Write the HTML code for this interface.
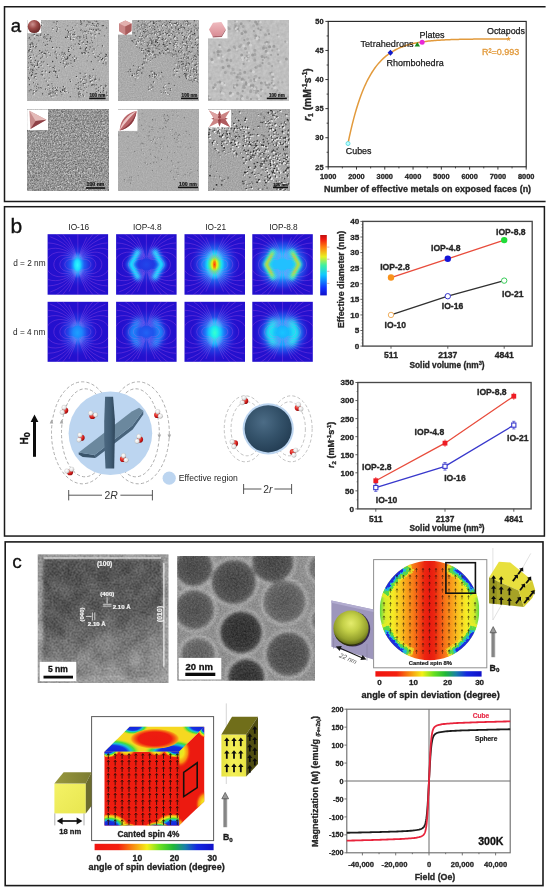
<!DOCTYPE html>
<html><head><meta charset="utf-8"><title>figure</title>
<style>
html,body{margin:0;padding:0;background:#fff;}
body{width:550px;height:891px;overflow:hidden;font-family:"Liberation Sans",sans-serif;}
svg{display:block;will-change:transform;font-family:"Liberation Sans",sans-serif;}
</style></head><body>
<svg width="550" height="891" viewBox="0 0 550 891">
<defs>
<filter id="tn1" x="0" y="0" width="100%" height="100%" color-interpolation-filters="sRGB"><feTurbulence type="fractalNoise" baseFrequency="0.8" numOctaves="2" seed="3"/><feColorMatrix type="matrix" values="0.14 0 0 0 0.62  0.14 0 0 0 0.62  0.14 0 0 0 0.62  0 0 0 0 1"/></filter>
<clipPath id="tc1"><rect x="27.6" y="20.2" width="80.6" height="80.6"/></clipPath>
<filter id="tn2" x="0" y="0" width="100%" height="100%" color-interpolation-filters="sRGB"><feTurbulence type="fractalNoise" baseFrequency="0.8" numOctaves="2" seed="5"/><feColorMatrix type="matrix" values="0.16 0 0 0 0.59  0.16 0 0 0 0.59  0.16 0 0 0 0.59  0 0 0 0 1"/></filter>
<clipPath id="tc2"><rect x="118.1" y="20.2" width="80.6" height="80.1"/></clipPath>
<filter id="tn3" x="0" y="0" width="100%" height="100%" color-interpolation-filters="sRGB"><feTurbulence type="fractalNoise" baseFrequency="0.3" numOctaves="2" seed="9"/><feColorMatrix type="matrix" values="0.12 0 0 0 0.69  0.12 0 0 0 0.69  0.12 0 0 0 0.69  0 0 0 0 1"/></filter>
<clipPath id="tc3"><rect x="208.1" y="20.2" width="80.8" height="80.1"/></clipPath>
<filter id="tn4" x="0" y="0" width="100%" height="100%" color-interpolation-filters="sRGB"><feTurbulence type="fractalNoise" baseFrequency="0.7" numOctaves="2" seed="11"/><feColorMatrix type="matrix" values="0.55 0 0 0 0.28  0.55 0 0 0 0.28  0.55 0 0 0 0.28  0 0 0 0 1"/></filter>
<clipPath id="tc4"><rect x="27.6" y="109.9" width="80.6" height="80.6"/></clipPath>
<filter id="tn5" x="0" y="0" width="100%" height="100%" color-interpolation-filters="sRGB"><feTurbulence type="fractalNoise" baseFrequency="0.8" numOctaves="2" seed="13"/><feColorMatrix type="matrix" values="0.13 0 0 0 0.61  0.13 0 0 0 0.61  0.13 0 0 0 0.61  0 0 0 0 1"/></filter>
<clipPath id="tc5"><rect x="118.1" y="109.9" width="80.6" height="80.6"/></clipPath>
<filter id="tn6" x="0" y="0" width="100%" height="100%" color-interpolation-filters="sRGB"><feTurbulence type="fractalNoise" baseFrequency="0.8" numOctaves="2" seed="17"/><feColorMatrix type="matrix" values="0.2 0 0 0 0.55  0.2 0 0 0 0.55  0.2 0 0 0 0.55  0 0 0 0 1"/></filter>
<clipPath id="tc6"><rect x="208.1" y="109.9" width="81.4" height="80.6"/></clipPath>
<radialGradient id="gsph" cx="0.38" cy="0.32" r="0.75"><stop offset="0" stop-color="#cc9290"/><stop offset="0.45" stop-color="#9c4a48"/><stop offset="1" stop-color="#5c2222"/></radialGradient>
<linearGradient id="gpk" x1="0" y1="0" x2="1" y2="1"><stop offset="0" stop-color="#e8b4b4"/><stop offset="1" stop-color="#b86a6c"/></linearGradient>
<linearGradient id="gpk2" x1="0" y1="0" x2="0" y2="1"><stop offset="0" stop-color="#f0bcc0"/><stop offset="1" stop-color="#d98c94"/></linearGradient>
<g id="fl" fill="none" stroke="#e070f4" stroke-width="0.45"><path d="M4.6 -4.6 L5.7 -4.9 L6.9 -5.0 L8.1 -4.9 L9.2 -4.7 L10.3 -4.2 L11.2 -3.6 L12.0 -2.9 L12.5 -2.0 L12.9 -1.0 L13.0 -0.0 L12.9 1.0 L12.5 2.0 L12.0 2.9 L11.2 3.6 L10.3 4.2 L9.2 4.7 L8.1 4.9 L6.9 5.0 L5.7 4.9 L4.6 4.6"/><path d="M-4.6 -4.6 L-5.7 -4.9 L-6.9 -5.0 L-8.1 -4.9 L-9.2 -4.7 L-10.3 -4.2 L-11.2 -3.6 L-12.0 -2.9 L-12.5 -2.0 L-12.9 -1.0 L-13.0 -0.0 L-12.9 1.0 L-12.5 2.0 L-12.0 2.9 L-11.2 3.6 L-10.3 4.2 L-9.2 4.7 L-8.1 4.9 L-6.9 5.0 L-5.7 4.9 L-4.6 4.6"/><path d="M3.7 -5.0 L4.9 -5.8 L6.4 -6.4 L7.9 -6.8 L9.5 -6.9 L11.2 -6.8 L12.7 -6.5 L14.2 -5.9 L15.5 -5.0 L16.5 -4.0 L17.3 -2.7 L17.8 -1.4 L18.0 -0.0 L17.8 1.4 L17.3 2.7 L16.5 4.0 L15.5 5.0 L14.2 5.9 L12.7 6.5 L11.2 6.8 L9.5 6.9 L7.9 6.8 L6.4 6.4 L4.9 5.8 L3.7 5.0"/><path d="M-3.7 -5.0 L-4.9 -5.8 L-6.4 -6.4 L-7.9 -6.8 L-9.5 -6.9 L-11.2 -6.8 L-12.7 -6.5 L-14.2 -5.9 L-15.5 -5.0 L-16.5 -4.0 L-17.3 -2.7 L-17.8 -1.4 L-18.0 -0.0 L-17.8 1.4 L-17.3 2.7 L-16.5 4.0 L-15.5 5.0 L-14.2 5.9 L-12.7 6.5 L-11.2 6.8 L-9.5 6.9 L-7.9 6.8 L-6.4 6.4 L-4.9 5.8 L-3.7 5.0"/><path d="M3.4 -5.6 L4.9 -6.7 L6.6 -7.7 L8.5 -8.5 L10.6 -9.0 L12.7 -9.2 L14.9 -9.1 L17.0 -8.7 L18.9 -7.8 L20.6 -6.7 L22.1 -5.3 L23.1 -3.7 L23.8 -1.9 L24.0 -0.0 L23.8 1.9 L23.1 3.7 L22.1 5.3 L20.6 6.7 L18.9 7.8 L17.0 8.7 L14.9 9.1 L12.7 9.2 L10.6 9.0 L8.5 8.5 L6.6 7.7 L4.9 6.7 L3.4 5.6"/><path d="M-3.4 -5.6 L-4.9 -6.7 L-6.6 -7.7 L-8.5 -8.5 L-10.6 -9.0 L-12.7 -9.2 L-14.9 -9.1 L-17.0 -8.7 L-18.9 -7.8 L-20.6 -6.7 L-22.1 -5.3 L-23.1 -3.7 L-23.8 -1.9 L-24.0 -0.0 L-23.8 1.9 L-23.1 3.7 L-22.1 5.3 L-20.6 6.7 L-18.9 7.8 L-17.0 8.7 L-14.9 9.1 L-12.7 9.2 L-10.6 9.0 L-8.5 8.5 L-6.6 7.7 L-4.9 6.7 L-3.4 5.6"/><path d="M3.0 -5.9 L4.6 -7.4 L6.5 -8.9 L8.8 -10.3 L11.3 -11.3 L14.1 -12.0 L16.9 -12.3 L19.8 -12.2 L22.6 -11.5 L25.2 -10.5 L27.5 -8.9 L29.4 -7.1 L30.8 -4.9 L31.7 -2.5 L32.0 -0.0 L31.7 2.5 L30.8 4.9 L29.4 7.1 L27.5 8.9 L25.2 10.5 L22.6 11.5 L19.8 12.2 L16.9 12.3 L14.1 12.0 L11.3 11.3 L8.8 10.3 L6.5 8.9 L4.6 7.4 L3.0 5.9"/><path d="M-3.0 -5.9 L-4.6 -7.4 L-6.5 -8.9 L-8.8 -10.3 L-11.3 -11.3 L-14.1 -12.0 L-16.9 -12.3 L-19.8 -12.2 L-22.6 -11.5 L-25.2 -10.5 L-27.5 -8.9 L-29.4 -7.1 L-30.8 -4.9 L-31.7 -2.5 L-32.0 -0.0 L-31.7 2.5 L-30.8 4.9 L-29.4 7.1 L-27.5 8.9 L-25.2 10.5 L-22.6 11.5 L-19.8 12.2 L-16.9 12.3 L-14.1 12.0 L-11.3 11.3 L-8.8 10.3 L-6.5 8.9 L-4.6 7.4 L-3.0 5.9"/><path d="M2.4 -5.7 L3.9 -7.7 L6.0 -9.8 L8.5 -11.7 L11.5 -13.5 L14.8 -14.8 L18.5 -15.8 L22.2 -16.2 L26.0 -16.0 L29.7 -15.1 L33.1 -13.7"/><path d="M33.1 13.7 L29.7 15.1 L26.0 16.0 L22.2 16.2 L18.5 15.8 L14.8 14.8 L11.5 13.5 L8.5 11.7 L6.0 9.8 L3.9 7.7 L2.4 5.7"/><path d="M-2.4 -5.7 L-3.9 -7.7 L-6.0 -9.8 L-8.5 -11.7 L-11.5 -13.5 L-14.8 -14.8 L-18.5 -15.8 L-22.2 -16.2 L-26.0 -16.0 L-29.7 -15.1 L-33.1 -13.7"/><path d="M-33.1 13.7 L-29.7 15.1 L-26.0 16.0 L-22.2 16.2 L-18.5 15.8 L-14.8 14.8 L-11.5 13.5 L-8.5 11.7 L-6.0 9.8 L-3.9 7.7 L-2.4 5.7"/><path d="M3.1 -7.6 L5.2 -10.3 L8.0 -13.0 L11.4 -15.7 L15.3 -18.0 L19.8 -19.8 L24.6 -21.0 L29.7 -21.5"/><path d="M29.7 21.5 L24.6 21.0 L19.8 19.8 L15.3 18.0 L11.4 15.7 L8.0 13.0 L5.2 10.3 L3.1 7.6"/><path d="M-3.1 -7.6 L-5.2 -10.3 L-8.0 -13.0 L-11.4 -15.7 L-15.3 -18.0 L-19.8 -19.8 L-24.6 -21.0 L-29.7 -21.5"/><path d="M-29.7 21.5 L-24.6 21.0 L-19.8 19.8 L-15.3 18.0 L-11.4 15.7 L-8.0 13.0 L-5.2 10.3 L-3.1 7.6"/><path d="M2.3 -7.1 L4.4 -10.6 L7.3 -14.3 L11.1 -18.2 L15.8 -21.8 L21.4 -25.0 L27.6 -27.6"/><path d="M27.6 27.6 L21.4 25.0 L15.8 21.8 L11.1 18.2 L7.3 14.3 L4.4 10.6 L2.3 7.1"/><path d="M-2.3 -7.1 L-4.4 -10.6 L-7.3 -14.3 L-11.1 -18.2 L-15.8 -21.8 L-21.4 -25.0 L-27.6 -27.6"/><path d="M-27.6 27.6 L-21.4 25.0 L-15.8 21.8 L-11.1 18.2 L-7.3 14.3 L-4.4 10.6 L-2.3 7.1"/><path d="M1.4 -5.9 L3.3 -10.2 L6.3 -15.2 L10.5 -20.6 L16.0 -26.1 L22.7 -31.3"/><path d="M22.7 31.3 L16.0 26.1 L10.5 20.6 L6.3 15.2 L3.3 10.2 L1.4 5.9"/><path d="M-1.4 -5.9 L-3.3 -10.2 L-6.3 -15.2 L-10.5 -20.6 L-16.0 -26.1 L-22.7 -31.3"/><path d="M-22.7 31.3 L-16.0 26.1 L-10.5 20.6 L-6.3 15.2 L-3.3 10.2 L-1.4 5.9"/><path d="M2.2 -9.0 L5.0 -15.4 L9.5 -23.0 L15.9 -31.2"/><path d="M15.9 31.2 L9.5 23.0 L5.0 15.4 L2.2 9.0"/><path d="M-2.2 -9.0 L-5.0 -15.4 L-9.5 -23.0 L-15.9 -31.2"/><path d="M-15.9 31.2 L-9.5 23.0 L-5.0 15.4 L-2.2 9.0"/><path d="M1.1 -7.3 L3.8 -15.9 L8.9 -27.2"/><path d="M8.9 27.2 L3.8 15.9 L1.1 7.3"/><path d="M-1.1 -7.3 L-3.8 -15.9 L-8.9 -27.2"/><path d="M-8.9 27.2 L-3.8 15.9 L-1.1 7.3"/><path d="M0 -34 V-6 M0 6 V34"/></g>
<clipPath id="hc00"><rect x="47.6" y="234.2" width="60.5" height="60.5"/></clipPath>
<radialGradient id="hg00" cx="0.5" cy="0.5" r="0.5" gradientUnits="objectBoundingBox"><stop offset="0" stop-color="#1c8cff" stop-opacity="1"/><stop offset="0.35" stop-color="#2068f6" stop-opacity="0.85"/><stop offset="0.7" stop-color="#2238e8" stop-opacity="0.4"/><stop offset="1" stop-color="#2410ce" stop-opacity="0"/></radialGradient>
<radialGradient id="hg00b" cx="0.5" cy="0.5" r="0.5" gradientUnits="objectBoundingBox"><stop offset="0" stop-color="#30f8ff" stop-opacity="1"/><stop offset="0.4" stop-color="#1cd8ff" stop-opacity="1"/><stop offset="0.72" stop-color="#1c9cff" stop-opacity="0.7"/><stop offset="1" stop-color="#1c80ff" stop-opacity="0"/></radialGradient>
<clipPath id="hc01"><rect x="116.1" y="234.2" width="60.5" height="60.5"/></clipPath>
<radialGradient id="hg01" cx="0.5" cy="0.5" r="0.5" gradientUnits="objectBoundingBox"><stop offset="0" stop-color="#2058f4" stop-opacity="0.75"/><stop offset="0.55" stop-color="#2244ea" stop-opacity="0.5"/><stop offset="1" stop-color="#2410ce" stop-opacity="0"/></radialGradient>
<clipPath id="hc02"><rect x="184.5" y="234.2" width="60.5" height="60.5"/></clipPath>
<radialGradient id="hg02" cx="0.5" cy="0.5" r="0.5" gradientUnits="objectBoundingBox"><stop offset="0" stop-color="#18c8ff" stop-opacity="1"/><stop offset="0.45" stop-color="#1c8cfc" stop-opacity="0.95"/><stop offset="0.72" stop-color="#2248ea" stop-opacity="0.5"/><stop offset="1" stop-color="#2410ce" stop-opacity="0"/></radialGradient>
<radialGradient id="hg02b" cx="0.5" cy="0.5" r="0.5" gradientUnits="objectBoundingBox"><stop offset="0" stop-color="#ff6010" stop-opacity="1"/><stop offset="0.08" stop-color="#ffb008" stop-opacity="1"/><stop offset="0.27" stop-color="#e4f01c" stop-opacity="1"/><stop offset="0.47" stop-color="#58f088" stop-opacity="1"/><stop offset="0.7" stop-color="#18e0f4" stop-opacity="0.95"/><stop offset="1" stop-color="#18c8ff" stop-opacity="0"/></radialGradient>
<clipPath id="hc03"><rect x="252.3" y="234.2" width="60.5" height="60.5"/></clipPath>
<radialGradient id="hg03" cx="0.5" cy="0.5" r="0.5" gradientUnits="objectBoundingBox"><stop offset="0" stop-color="#18b8ff" stop-opacity="1"/><stop offset="0.5" stop-color="#1c98fe" stop-opacity="0.95"/><stop offset="0.75" stop-color="#2258f0" stop-opacity="0.55"/><stop offset="1" stop-color="#2410ce" stop-opacity="0"/></radialGradient>
<clipPath id="hc10"><rect x="47.6" y="301.8" width="60.5" height="60"/></clipPath>
<radialGradient id="hg10" cx="0.5" cy="0.5" r="0.5" gradientUnits="objectBoundingBox"><stop offset="0" stop-color="#2078fa" stop-opacity="1"/><stop offset="0.4" stop-color="#2260f2" stop-opacity="0.8"/><stop offset="0.75" stop-color="#2238e8" stop-opacity="0.35"/><stop offset="1" stop-color="#2410ce" stop-opacity="0"/></radialGradient>
<radialGradient id="hg10b" cx="0.5" cy="0.5" r="0.5" gradientUnits="objectBoundingBox"><stop offset="0" stop-color="#1ca0ff" stop-opacity="1"/><stop offset="0.5" stop-color="#1c90ff" stop-opacity="0.8"/><stop offset="1" stop-color="#2078fa" stop-opacity="0"/></radialGradient>
<clipPath id="hc11"><rect x="116.1" y="301.8" width="60.5" height="60"/></clipPath>
<radialGradient id="hg11" cx="0.5" cy="0.5" r="0.5" gradientUnits="objectBoundingBox"><stop offset="0" stop-color="#2068f8" stop-opacity="0.95"/><stop offset="0.55" stop-color="#2250ee" stop-opacity="0.6"/><stop offset="1" stop-color="#2410ce" stop-opacity="0"/></radialGradient>
<clipPath id="hc12"><rect x="184.5" y="301.8" width="60.5" height="60"/></clipPath>
<radialGradient id="hg12" cx="0.5" cy="0.5" r="0.5" gradientUnits="objectBoundingBox"><stop offset="0" stop-color="#18b0ff" stop-opacity="1"/><stop offset="0.4" stop-color="#1c84fc" stop-opacity="0.9"/><stop offset="0.72" stop-color="#2244ea" stop-opacity="0.45"/><stop offset="1" stop-color="#2410ce" stop-opacity="0"/></radialGradient>
<radialGradient id="hg12b" cx="0.5" cy="0.5" r="0.5" gradientUnits="objectBoundingBox"><stop offset="0" stop-color="#38ffd0" stop-opacity="1"/><stop offset="0.3" stop-color="#20f0e8" stop-opacity="1"/><stop offset="0.65" stop-color="#18ccff" stop-opacity="0.85"/><stop offset="1" stop-color="#18b0ff" stop-opacity="0"/></radialGradient>
<clipPath id="hc13"><rect x="252.3" y="301.8" width="60.5" height="60"/></clipPath>
<radialGradient id="hg13" cx="0.5" cy="0.5" r="0.5" gradientUnits="objectBoundingBox"><stop offset="0" stop-color="#18c4ff" stop-opacity="1"/><stop offset="0.45" stop-color="#18a8ff" stop-opacity="0.95"/><stop offset="0.72" stop-color="#2060f4" stop-opacity="0.55"/><stop offset="1" stop-color="#2410ce" stop-opacity="0"/></radialGradient>
<filter id="hblur1" x="-30%" y="-30%" width="160%" height="160%"><feGaussianBlur stdDeviation="0.8"/></filter>
<filter id="hblur2" x="-30%" y="-30%" width="160%" height="160%"><feGaussianBlur stdDeviation="1.5"/></filter>
<filter id="hblur3" x="-30%" y="-30%" width="160%" height="160%"><feGaussianBlur stdDeviation="2.6"/></filter>
<linearGradient id="jet" x1="0" y1="1" x2="0" y2="0"><stop offset="0" stop-color="#1010c8"/><stop offset="0.12" stop-color="#1030ff"/><stop offset="0.34" stop-color="#10c8ff"/><stop offset="0.5" stop-color="#40f0a0"/><stop offset="0.64" stop-color="#e8f020"/><stop offset="0.8" stop-color="#ff8010"/><stop offset="0.93" stop-color="#f01810"/><stop offset="1" stop-color="#c01010"/></linearGradient>
<linearGradient id="plt1" x1="0" y1="0" x2="1" y2="0"><stop offset="0" stop-color="#4c6880"/><stop offset="0.6" stop-color="#405c74"/><stop offset="1" stop-color="#2f475c"/></linearGradient>
<radialGradient id="wr" cx="0.38" cy="0.35" r="0.7"><stop offset="0" stop-color="#ff6a5a"/><stop offset="0.6" stop-color="#d01818"/><stop offset="1" stop-color="#8a0c0c"/></radialGradient>
<radialGradient id="ww" cx="0.38" cy="0.35" r="0.7"><stop offset="0" stop-color="#ffffff"/><stop offset="0.65" stop-color="#e4e4e4"/><stop offset="1" stop-color="#a8a8a8"/></radialGradient>
<radialGradient id="sphb" cx="0.4" cy="0.36" r="0.72"><stop offset="0" stop-color="#4c6c86"/><stop offset="0.5" stop-color="#34526a"/><stop offset="1" stop-color="#213a50"/></radialGradient>
<clipPath id="hrc"><rect x="37.8" y="554.4" width="130.6" height="128.6"/></clipPath>
<filter id="hrn" x="0" y="0" width="100%" height="100%" color-interpolation-filters="sRGB"><feTurbulence type="fractalNoise" baseFrequency="0.5" numOctaves="4" seed="21"/><feColorMatrix type="matrix" values="0.8 0 0 0 0.1  0.8 0 0 0 0.1  0.8 0 0 0 0.1  0 0 0 0 1"/></filter>
<filter id="hrn2" x="0" y="0" width="100%" height="100%" color-interpolation-filters="sRGB"><feTurbulence type="fractalNoise" baseFrequency="0.06" numOctaves="2" seed="4"/><feColorMatrix type="matrix" values="1.4 0 0 0 -0.2  1.4 0 0 0 -0.2  1.4 0 0 0 -0.2  0 0 0 0 1"/></filter>
<filter id="hrblur" x="-10%" y="-10%" width="120%" height="120%"><feGaussianBlur stdDeviation="1.7"/></filter>
<filter id="hrblur2" x="-30%" y="-30%" width="160%" height="160%"><feGaussianBlur stdDeviation="7"/></filter>
<linearGradient id="hrg" x1="0" y1="0" x2="0.25" y2="1"><stop offset="0" stop-color="#2c2c2c"/><stop offset="0.5" stop-color="#383838"/><stop offset="0.66" stop-color="#4c4c4c"/><stop offset="0.8" stop-color="#727272"/><stop offset="1" stop-color="#909090"/></linearGradient>
<clipPath id="spc"><rect x="177.4" y="556" width="137.6" height="124.5"/></clipPath>
<filter id="spn" x="0" y="0" width="100%" height="100%" color-interpolation-filters="sRGB"><feTurbulence type="fractalNoise" baseFrequency="0.55" numOctaves="3" seed="31"/><feColorMatrix type="matrix" values="0.7 0 0 0 0.15  0.7 0 0 0 0.15  0.7 0 0 0 0.15  0 0 0 0 1"/></filter>
<filter id="spblur" x="-20%" y="-20%" width="140%" height="140%"><feGaussianBlur stdDeviation="1.5"/></filter>
<radialGradient id="sg0" cx="0.5" cy="0.5" r="0.5"><stop offset="0" stop-color="rgb(52,52,52)"/><stop offset="0.72" stop-color="rgb(66,66,66)"/><stop offset="1" stop-color="rgb(96,96,96)"/></radialGradient>
<radialGradient id="sg1" cx="0.5" cy="0.5" r="0.5"><stop offset="0" stop-color="rgb(48,48,48)"/><stop offset="0.72" stop-color="rgb(62,62,62)"/><stop offset="1" stop-color="rgb(92,92,92)"/></radialGradient>
<radialGradient id="sg2" cx="0.5" cy="0.5" r="0.5"><stop offset="0" stop-color="rgb(48,48,48)"/><stop offset="0.72" stop-color="rgb(62,62,62)"/><stop offset="1" stop-color="rgb(92,92,92)"/></radialGradient>
<radialGradient id="sg3" cx="0.5" cy="0.5" r="0.5"><stop offset="0" stop-color="rgb(74,74,74)"/><stop offset="0.72" stop-color="rgb(88,88,88)"/><stop offset="1" stop-color="rgb(118,118,118)"/></radialGradient>
<radialGradient id="sg4" cx="0.5" cy="0.5" r="0.5"><stop offset="0" stop-color="rgb(62,62,62)"/><stop offset="0.72" stop-color="rgb(76,76,76)"/><stop offset="1" stop-color="rgb(106,106,106)"/></radialGradient>
<radialGradient id="sg5" cx="0.5" cy="0.5" r="0.5"><stop offset="0" stop-color="rgb(16,16,16)"/><stop offset="0.72" stop-color="rgb(30,30,30)"/><stop offset="1" stop-color="rgb(60,60,60)"/></radialGradient>
<radialGradient id="sg6" cx="0.5" cy="0.5" r="0.5"><stop offset="0" stop-color="rgb(54,54,54)"/><stop offset="0.72" stop-color="rgb(68,68,68)"/><stop offset="1" stop-color="rgb(98,98,98)"/></radialGradient>
<radialGradient id="sg7" cx="0.5" cy="0.5" r="0.5"><stop offset="0" stop-color="rgb(82,82,82)"/><stop offset="0.72" stop-color="rgb(96,96,96)"/><stop offset="1" stop-color="rgb(126,126,126)"/></radialGradient>
<radialGradient id="sg8" cx="0.5" cy="0.5" r="0.5"><stop offset="0" stop-color="rgb(20,20,20)"/><stop offset="0.72" stop-color="rgb(34,34,34)"/><stop offset="1" stop-color="rgb(64,64,64)"/></radialGradient>
<radialGradient id="sg9" cx="0.5" cy="0.5" r="0.5"><stop offset="0" stop-color="rgb(94,94,94)"/><stop offset="0.72" stop-color="rgb(108,108,108)"/><stop offset="1" stop-color="rgb(138,138,138)"/></radialGradient>
<radialGradient id="sg10" cx="0.5" cy="0.5" r="0.5"><stop offset="0" stop-color="rgb(94,94,94)"/><stop offset="0.72" stop-color="rgb(108,108,108)"/><stop offset="1" stop-color="rgb(138,138,138)"/></radialGradient>
<linearGradient id="spinbar" x1="0" y1="0" x2="1" y2="0"><stop offset="0" stop-color="#f01410"/><stop offset="0.2" stop-color="#f42010"/><stop offset="0.32" stop-color="#f88a10"/><stop offset="0.44" stop-color="#f4f018"/><stop offset="0.55" stop-color="#68e020"/><stop offset="0.66" stop-color="#20b838"/><stop offset="0.76" stop-color="#1880a8"/><stop offset="0.86" stop-color="#1428e0"/><stop offset="1" stop-color="#1010c8"/></linearGradient>
<clipPath id="sphclip"><circle cx="429.5" cy="610.6" r="49.8"/></clipPath>
<linearGradient id="sphg" x1="0" y1="0" x2="1" y2="0"><stop offset="0" stop-color="#58d848"/><stop offset="0.05" stop-color="#d4ec2c"/><stop offset="0.13" stop-color="#f6ec26"/><stop offset="0.2" stop-color="#f8cc20"/><stop offset="0.27" stop-color="#f8a01c"/><stop offset="0.34" stop-color="#f67a18"/><stop offset="0.4" stop-color="#f24c14"/><stop offset="0.45" stop-color="#ec2610"/><stop offset="0.5" stop-color="#e61a10"/><stop offset="0.55" stop-color="#ec2610"/><stop offset="0.6" stop-color="#f24c14"/><stop offset="0.66" stop-color="#f67a18"/><stop offset="0.73" stop-color="#f8a01c"/><stop offset="0.8" stop-color="#f8cc20"/><stop offset="0.87" stop-color="#f6ec26"/><stop offset="0.95" stop-color="#d4ec2c"/><stop offset="1" stop-color="#58d848"/></linearGradient>
<filter id="rimblur" x="-20%" y="-20%" width="140%" height="140%"><feGaussianBlur stdDeviation="0.7" result="b"/><feTurbulence type="fractalNoise" baseFrequency="0.35" numOctaves="2" seed="8" result="t"/><feDisplacementMap in="b" in2="t" scale="4.5" xChannelSelector="R" yChannelSelector="G"/></filter>
<radialGradient id="ysph" cx="0.5" cy="0.36" r="0.68"><stop offset="0" stop-color="#e4ec6c"/><stop offset="0.35" stop-color="#c4d048"/><stop offset="0.7" stop-color="#94a02c"/><stop offset="1" stop-color="#485010"/></radialGradient>
<clipPath id="cfront"><polygon points="104.5,751.8 179,751.8 179,825.4 104.5,825.4"/></clipPath>
<clipPath id="ctop"><polygon points="104.5,751.8 179,751.8 204.2,726.8 129.7,726.8"/></clipPath>
<clipPath id="cside"><polygon points="179,751.8 204.2,726.8 204.2,801.4 179,825.4"/></clipPath>
<radialGradient id="cg" cx="0.5" cy="0.5" r="0.5"><stop offset="0" stop-color="#1020d8"/><stop offset="0.42" stop-color="#1630e4"/><stop offset="0.54" stop-color="#18c0d8"/><stop offset="0.64" stop-color="#48dc38"/><stop offset="0.76" stop-color="#f0ea1c"/><stop offset="0.88" stop-color="#f88a10"/><stop offset="1" stop-color="#ee1c10" stop-opacity="0"/></radialGradient>
<radialGradient id="cgy" cx="0.5" cy="0.5" r="0.5"><stop offset="0" stop-color="#1020d8"/><stop offset="0.5" stop-color="#1630e4"/><stop offset="0.64" stop-color="#18c0d8"/><stop offset="0.78" stop-color="#48dc38"/><stop offset="1" stop-color="#f0ea1c" stop-opacity="0"/></radialGradient>
<radialGradient id="cgo" cx="0.5" cy="0.5" r="0.5"><stop offset="0" stop-color="#d8ec28"/><stop offset="0.35" stop-color="#f4e41c"/><stop offset="0.7" stop-color="#f88a10"/><stop offset="1" stop-color="#ee1c10" stop-opacity="0"/></radialGradient>
<radialGradient id="topred" cx="0.5" cy="0.5" r="0.5"><stop offset="0" stop-color="#ec1a10"/><stop offset="0.66" stop-color="#ee1c10"/><stop offset="0.8" stop-color="#f45a12"/><stop offset="0.92" stop-color="#f8a018"/><stop offset="1" stop-color="#f8c81c" stop-opacity="0"/></radialGradient>
<linearGradient id="ycf" x1="0" y1="0" x2="1" y2="1"><stop offset="0" stop-color="#f4f266"/><stop offset="1" stop-color="#e8e650"/></linearGradient>
<linearGradient id="yct" x1="0" y1="0" x2="1" y2="0"><stop offset="0" stop-color="#98983e"/><stop offset="1" stop-color="#7c7c32"/></linearGradient>
<linearGradient id="cubf" x1="0" y1="0" x2="1" y2="0"><stop offset="0" stop-color="#e6e240"/><stop offset="0.5" stop-color="#f4f058"/><stop offset="1" stop-color="#e8e444"/></linearGradient>
<clipPath id="mhclip"><rect x="346.8" y="709.2" width="163.4" height="143.6"/></clipPath>
</defs>
<rect x="0" y="0" width="550" height="891" fill="#ffffff"/>
<path d="M545.6 6.8 H4.5 V201.6 H545.6" fill="none" stroke="#1a1a1a" stroke-width="1.5"/>
<rect x="4.5" y="206.7" width="539.9" height="329.35" fill="none" stroke="#1a1a1a" stroke-width="1.5"/>
<rect x="5.2" y="541.9" width="537.8" height="343.7" fill="none" stroke="#1a1a1a" stroke-width="1.6"/>
<text x="10.8" y="32" font-size="18.6" font-weight="normal" text-anchor="start" fill="#111" stroke="#111" stroke-width="0.35">a</text>
<text x="10.6" y="232.8" font-size="21" font-weight="normal" text-anchor="start" fill="#111" stroke="#111" stroke-width="0.35">b</text>
<text x="12.3" y="568" font-size="19" font-weight="normal" text-anchor="start" fill="#111" stroke="#111" stroke-width="0.3">c</text>
<rect x="27.6" y="20.2" width="80.6" height="80.6" fill="rgb(175,175,175)" stroke="none" stroke-width="1"/>
<rect x="27.6" y="20.2" width="80.6" height="80.6" fill="#888" stroke="none" stroke-width="1" filter="url(#tn1)"/>
<g clip-path="url(#tc1)">
<path d="M69.2 34.0h.01M32.2 35.2h.01M70.9 60.6h.01M64.6 89.2h.01M72.9 57.5h.01M80.3 24.3h.01M103.6 95.2h.01M38.6 67.0h.01M37.1 89.9h.01M81.4 52.9h.01M56.5 89.6h.01M46.5 39.4h.01M29.9 55.5h.01M56.9 26.5h.01M43.2 62.6h.01M81.0 85.1h.01M62.0 52.9h.01M106.1 64.9h.01M93.2 48.9h.01M68.2 63.3h.01M48.7 94.0h.01M74.5 32.4h.01M80.4 47.1h.01M57.8 87.6h.01M35.9 73.7h.01M27.9 52.4h.01M71.0 63.3h.01M86.7 83.1h.01M99.4 54.5h.01M64.2 88.4h.01M33.0 64.6h.01M39.9 63.7h.01M98.1 56.5h.01M67.6 30.4h.01M44.6 34.7h.01M85.5 52.0h.01M79.0 86.1h.01M85.7 31.5h.01M34.4 66.6h.01M45.2 38.1h.01M75.3 26.0h.01M34.0 92.7h.01M79.3 41.1h.01M92.3 46.3h.01M43.9 61.6h.01M44.8 78.7h.01M36.9 44.2h.01M105.7 56.6h.01M35.2 47.9h.01M70.6 36.2h.01M95.1 86.2h.01M99.2 79.8h.01M52.3 93.1h.01M56.3 53.8h.01M70.4 54.6h.01M52.8 91.3h.01M106.7 92.1h.01M74.4 56.1h.01M81.3 89.1h.01M59.5 47.8h.01M91.6 82.6h.01M33.7 70.1h.01M42.9 75.1h.01M46.3 54.2h.01M43.7 37.2h.01M29.7 37.6h.01M71.0 30.7h.01M88.8 31.7h.01M73.7 39.7h.01M96.0 76.1h.01M34.6 34.2h.01M103.1 63.4h.01M50.0 66.7h.01M41.1 22.5h.01M85.5 76.3h.01M41.2 74.4h.01M65.8 29.3h.01M30.1 70.0h.01M34.7 30.5h.01M72.4 27.7h.01M89.0 55.9h.01M85.6 50.9h.01M80.5 20.5h.01M87.1 20.9h.01M94.3 38.1h.01M99.0 24.4h.01M68.5 93.0h.01M68.5 31.8h.01M41.6 61.9h.01M94.5 49.1h.01M61.9 59.0h.01M71.9 39.8h.01M55.0 88.5h.01M73.5 29.5h.01M53.3 87.7h.01M31.1 43.6h.01M96.5 21.2h.01M81.0 21.8h.01M83.4 36.0h.01M60.4 62.5h.01M65.6 88.1h.01M89.7 75.4h.01M56.2 73.9h.01M50.1 55.5h.01M40.9 33.8h.01M56.4 24.9h.01M37.4 64.0h.01M86.2 36.2h.01M86.9 44.8h.01M96.3 84.7h.01M90.0 77.3h.01M29.0 50.4h.01M40.5 35.0h.01" stroke="#262626" stroke-width="0.9" stroke-linecap="round" fill="none" stroke-opacity="0.9"/>
<path d="M81.1 30.5h.01M87.0 25.0h.01M86.5 47.3h.01M52.7 61.5h.01M37.3 65.4h.01M62.8 90.5h.01M89.9 22.1h.01M98.1 29.1h.01M49.4 72.4h.01M52.9 88.6h.01M42.1 71.5h.01M52.6 47.4h.01M68.8 51.4h.01M88.3 52.2h.01M50.4 38.7h.01M91.8 38.3h.01M55.6 71.7h.01M30.4 47.2h.01M48.0 85.2h.01M42.6 93.8h.01M90.8 76.3h.01M99.1 33.7h.01M103.6 88.1h.01M28.3 67.4h.01M67.7 58.0h.01M60.7 91.5h.01M41.8 52.7h.01M35.9 86.5h.01M91.8 85.2h.01M63.3 86.6h.01M45.9 71.1h.01M82.4 53.2h.01M70.5 34.1h.01M57.2 77.3h.01M98.3 90.3h.01M102.2 60.0h.01M30.6 57.5h.01M45.7 89.1h.01M74.3 61.0h.01M95.1 34.8h.01M67.0 58.9h.01M103.3 25.6h.01M80.2 73.1h.01M57.1 90.4h.01M39.2 61.5h.01M80.9 82.0h.01M33.4 46.3h.01M69.5 55.3h.01M81.7 23.8h.01M32.7 43.9h.01M79.0 96.8h.01M31.4 32.1h.01M97.9 23.6h.01M63.9 61.6h.01M89.8 29.1h.01M30.9 89.8h.01M32.5 70.0h.01M103.8 90.4h.01M76.4 76.6h.01M28.9 50.9h.01M70.7 38.0h.01M70.6 81.2h.01M37.5 31.7h.01M32.1 29.2h.01M46.1 54.7h.01M64.3 53.1h.01M48.0 34.6h.01M96.2 89.0h.01M87.3 41.7h.01M30.7 44.5h.01M84.1 83.6h.01M53.1 67.4h.01M31.4 75.7h.01M61.1 92.1h.01M67.8 56.8h.01M101.8 59.5h.01M54.1 71.0h.01M79.0 93.8h.01M80.2 48.6h.01M41.2 65.3h.01M39.7 50.6h.01M62.6 90.0h.01M40.9 58.2h.01M37.0 35.4h.01M104.0 95.6h.01M100.4 92.3h.01M31.6 28.8h.01M84.4 52.6h.01M102.5 45.8h.01M65.6 37.4h.01M90.9 81.5h.01M101.6 86.3h.01M56.7 58.3h.01M102.5 58.5h.01M98.9 87.3h.01M86.6 38.1h.01M106.3 54.7h.01M49.4 94.5h.01M53.1 96.1h.01M28.5 77.9h.01M96.7 25.9h.01M35.3 60.3h.01M32.0 74.7h.01M41.6 24.6h.01M84.1 20.8h.01M64.7 66.8h.01M68.6 49.7h.01M55.2 52.4h.01" stroke="#262626" stroke-width="1.3" stroke-linecap="round" fill="none" stroke-opacity="0.9"/>
<path d="M36.3 79.4h.01M72.8 66.5h.01M54.7 68.7h.01M95.7 79.4h.01M68.0 65.0h.01M94.4 21.2h.01M86.2 34.4h.01M91.0 82.3h.01M56.6 24.0h.01M31.3 47.1h.01M39.1 20.9h.01M91.1 81.4h.01M42.9 54.4h.01M33.6 54.9h.01M55.5 90.5h.01M28.3 69.6h.01M50.8 54.1h.01M84.0 37.7h.01M47.9 41.4h.01M76.3 88.2h.01M71.5 47.6h.01M80.9 30.0h.01M36.8 74.2h.01M36.1 46.5h.01M73.1 46.2h.01M78.8 92.9h.01M84.7 87.7h.01M103.4 61.9h.01M78.0 38.6h.01M91.7 40.6h.01M32.4 46.1h.01M93.3 25.7h.01M36.9 60.8h.01M88.2 52.2h.01M55.1 93.8h.01M42.8 51.7h.01M90.4 33.3h.01M51.5 41.3h.01M38.1 55.0h.01M49.7 40.6h.01M38.1 28.6h.01M50.1 92.8h.01M34.4 62.8h.01M35.7 60.3h.01M49.1 52.3h.01M98.1 45.8h.01M103.7 58.7h.01M33.3 68.4h.01M51.8 83.6h.01M34.4 57.9h.01M34.7 38.7h.01M84.4 37.0h.01M105.0 98.4h.01M101.4 59.5h.01M29.4 44.5h.01M86.1 26.5h.01M43.2 68.7h.01M85.5 48.6h.01M83.3 83.9h.01M44.2 36.6h.01M53.3 92.7h.01M35.3 91.7h.01M101.9 94.4h.01M67.7 25.8h.01M83.8 37.2h.01M41.5 88.0h.01M45.4 53.4h.01M95.7 79.0h.01M67.9 34.0h.01M95.6 78.1h.01M83.0 83.6h.01M107.3 57.0h.01M94.5 79.3h.01M28.5 56.5h.01M70.2 47.5h.01M55.3 75.3h.01M36.8 69.7h.01M30.4 49.8h.01M43.7 42.6h.01M59.4 49.0h.01M67.9 37.6h.01M84.6 79.9h.01M106.4 55.9h.01M62.2 52.1h.01M78.5 82.5h.01M33.4 32.6h.01M49.8 89.0h.01M80.8 37.0h.01M32.6 50.3h.01M93.9 23.9h.01M78.6 95.0h.01M106.3 95.4h.01M77.9 83.3h.01M65.7 54.5h.01M61.8 94.7h.01M56.8 95.1h.01M41.9 57.8h.01M97.0 21.8h.01M59.3 70.2h.01M56.6 57.3h.01M92.9 76.0h.01M30.0 72.6h.01M35.8 83.8h.01M37.6 31.9h.01M36.6 88.5h.01M71.5 36.1h.01M60.1 87.9h.01M36.7 73.7h.01" stroke="#444" stroke-width="0.9" stroke-linecap="round" fill="none" stroke-opacity="0.9"/>
<path d="M29.9 49.4h.01M73.0 34.4h.01M72.4 35.3h.01M78.4 88.5h.01M85.6 32.3h.01M105.3 56.4h.01M57.2 30.0h.01M47.3 44.3h.01M75.0 34.4h.01M91.3 61.7h.01M83.3 42.0h.01M85.9 48.4h.01M74.7 59.6h.01M100.2 57.9h.01M85.4 49.2h.01M29.4 84.7h.01M71.0 35.5h.01M85.4 53.3h.01M32.6 72.7h.01M51.2 93.1h.01M106.0 63.0h.01M92.2 80.3h.01M35.2 74.1h.01M38.8 67.2h.01M67.4 36.2h.01M30.9 55.5h.01M36.0 46.6h.01M86.0 44.6h.01M76.9 37.8h.01M39.0 23.4h.01M62.8 89.6h.01M37.4 64.0h.01M52.3 72.6h.01M70.3 96.7h.01M50.9 36.9h.01M96.1 30.3h.01M66.0 59.5h.01M66.0 91.9h.01M31.8 51.9h.01M43.9 53.6h.01M76.7 58.2h.01M96.5 31.3h.01M30.9 69.1h.01M106.2 86.0h.01M102.4 59.2h.01M57.7 28.1h.01M44.4 53.2h.01M96.1 29.4h.01M33.7 82.7h.01M57.1 21.7h.01M45.3 53.8h.01M37.8 84.2h.01M42.8 56.2h.01M30.8 45.0h.01M33.2 93.9h.01M30.9 62.4h.01M42.5 74.8h.01M80.1 40.6h.01M92.5 23.5h.01M68.6 32.2h.01M84.0 77.0h.01M34.1 34.5h.01M83.9 90.6h.01M76.0 84.6h.01M41.5 25.2h.01M35.4 66.1h.01M45.4 45.2h.01M90.2 47.0h.01M78.5 43.7h.01M36.2 91.0h.01M53.6 88.6h.01M79.8 91.6h.01M93.4 69.4h.01M55.3 93.1h.01M82.0 30.7h.01M64.4 91.7h.01M101.1 85.6h.01M79.5 44.5h.01M56.6 31.3h.01M102.3 25.7h.01M38.8 87.8h.01M50.8 95.8h.01M101.0 53.1h.01M47.5 64.3h.01M55.7 71.7h.01M48.7 52.3h.01M34.4 66.1h.01M94.0 84.7h.01M32.0 42.7h.01M91.3 29.6h.01M70.7 39.3h.01M31.1 60.7h.01M100.7 86.1h.01M29.2 90.9h.01" stroke="#444" stroke-width="1.3" stroke-linecap="round" fill="none" stroke-opacity="0.9"/>
<path d="M91.3 25.8h.01M39.2 51.9h.01M88.3 33.5h.01M45.3 50.3h.01M37.6 63.6h.01M84.8 30.8h.01M82.4 80.4h.01M31.9 71.5h.01M60.8 55.7h.01M62.1 54.7h.01M34.7 86.2h.01M96.7 24.9h.01M57.4 75.5h.01M38.4 35.8h.01M29.9 32.5h.01M90.1 43.2h.01M47.5 89.5h.01M63.3 61.3h.01M73.4 49.6h.01M94.7 56.7h.01M104.0 57.6h.01M54.7 88.5h.01M30.3 39.7h.01M80.3 95.3h.01M63.8 54.4h.01M49.4 89.0h.01M78.3 94.4h.01M59.6 54.5h.01M92.8 30.8h.01M87.3 60.8h.01M81.4 29.7h.01M80.7 87.8h.01M54.4 96.1h.01M56.4 22.1h.01M67.6 36.6h.01M37.2 32.0h.01M94.4 31.8h.01M52.5 86.1h.01M95.9 79.8h.01M59.8 27.7h.01M57.1 53.2h.01M86.7 30.7h.01M40.3 20.2h.01M98.2 25.5h.01M86.7 87.4h.01M80.4 89.7h.01M31.4 23.7h.01M34.0 78.1h.01M46.7 57.1h.01M56.8 55.2h.01M95.4 21.9h.01M54.1 91.3h.01M103.1 63.3h.01M29.1 68.6h.01M81.8 40.4h.01M66.9 37.8h.01M94.3 24.6h.01M66.5 62.0h.01M83.7 85.7h.01M96.4 30.8h.01M29.5 73.4h.01M91.5 77.5h.01M55.1 53.8h.01M68.6 47.5h.01M107.9 95.5h.01M63.3 91.5h.01M55.4 72.9h.01M89.7 81.8h.01M83.6 96.0h.01M96.6 30.8h.01M84.1 50.3h.01M94.2 29.3h.01M76.9 23.9h.01M95.3 92.5h.01M79.4 94.5h.01M97.4 24.3h.01M33.9 28.7h.01M86.4 87.4h.01M89.4 49.3h.01M99.0 91.4h.01M63.7 60.5h.01M89.2 25.1h.01M72.6 35.7h.01M100.0 78.4h.01M57.8 76.5h.01M56.7 53.5h.01M99.2 60.1h.01M91.1 37.6h.01M74.1 33.7h.01M58.5 71.2h.01M41.2 30.5h.01M77.4 88.5h.01M86.7 81.0h.01M83.0 33.1h.01M88.7 86.0h.01M82.7 94.5h.01M74.7 88.3h.01M71.4 48.8h.01M70.2 35.1h.01M49.6 93.8h.01M83.6 95.4h.01M78.3 91.8h.01M65.3 58.9h.01M84.8 39.9h.01" stroke="#585858" stroke-width="0.9" stroke-linecap="round" fill="none" stroke-opacity="0.9"/>
<path d="M64.6 91.0h.01M95.4 57.4h.01M65.9 65.0h.01M56.6 47.7h.01M98.1 60.9h.01M54.5 66.1h.01M35.5 76.5h.01M53.5 89.2h.01M103.0 91.9h.01M73.8 37.7h.01M98.1 56.2h.01M92.5 42.3h.01M85.1 73.7h.01M100.0 30.4h.01M81.2 47.9h.01M88.4 22.0h.01M64.9 60.4h.01M63.1 56.2h.01M69.3 47.6h.01M90.2 78.4h.01M107.2 95.2h.01M29.5 49.8h.01M86.0 80.0h.01M79.7 37.9h.01M80.8 22.0h.01M93.2 53.6h.01M49.2 78.1h.01M83.3 95.9h.01M90.3 43.5h.01M65.4 89.5h.01M84.2 31.7h.01M41.0 23.3h.01M84.0 52.6h.01M51.4 71.7h.01M29.5 79.4h.01M33.1 35.8h.01M37.2 65.3h.01M52.7 28.3h.01M46.3 81.2h.01M78.2 89.7h.01M78.0 36.4h.01M91.5 77.7h.01M29.2 58.5h.01M55.5 51.3h.01M36.4 56.1h.01M70.8 35.2h.01M33.5 90.6h.01M96.5 91.3h.01M70.7 36.9h.01M39.8 53.0h.01M94.8 80.0h.01M34.6 77.0h.01M92.5 84.5h.01M90.0 78.6h.01M85.7 83.1h.01M40.3 35.3h.01M40.4 87.6h.01M104.5 35.8h.01M80.3 93.7h.01M86.9 51.2h.01M31.2 64.3h.01M46.9 38.7h.01M48.6 84.9h.01M70.0 79.5h.01M45.3 38.5h.01M27.9 67.7h.01M50.0 71.4h.01M79.7 36.6h.01M51.7 96.1h.01M71.1 45.9h.01M106.7 27.9h.01M89.2 77.0h.01M86.9 92.3h.01M49.9 90.7h.01M37.7 62.2h.01M71.3 35.6h.01M38.3 61.1h.01M46.0 35.9h.01M103.5 94.3h.01M66.6 64.0h.01M105.3 85.2h.01M85.9 49.8h.01M28.4 62.8h.01M53.2 71.7h.01M106.8 93.2h.01M92.2 51.2h.01M50.9 93.2h.01M29.1 38.2h.01M64.2 57.3h.01M91.8 34.0h.01M82.3 42.9h.01M47.1 51.0h.01M105.6 54.1h.01M74.7 34.3h.01M100.8 88.0h.01M82.7 79.6h.01M56.4 57.4h.01M32.3 65.3h.01M75.2 44.1h.01M54.0 22.2h.01M73.5 58.1h.01M93.4 29.5h.01M63.3 63.3h.01M94.7 25.5h.01M38.8 40.8h.01M84.9 52.4h.01M105.7 86.3h.01M80.5 78.7h.01M87.6 42.3h.01M55.4 87.6h.01M50.3 94.6h.01M104.8 60.0h.01M72.3 37.7h.01" stroke="#585858" stroke-width="1.3" stroke-linecap="round" fill="none" stroke-opacity="0.9"/>
<path d="M69.9 34.4h.01M36.5 80.2h.01M89.0 34.0h.01M94.6 22.0h.01M91.3 83.1h.01M46.7 40.1h.01M97.5 25.1h.01M91.9 81.6h.01M43.5 54.9h.01M34.3 55.3h.01M30.6 32.8h.01M90.6 43.8h.01M64.0 61.6h.01M76.7 88.8h.01M81.1 47.4h.01M54.9 89.2h.01M60.1 55.2h.01M104.1 62.2h.01M93.0 31.6h.01M100.1 54.9h.01M81.3 88.2h.01M40.2 64.4h.01M57.0 22.7h.01M53.3 86.3h.01M96.5 80.4h.01M57.3 54.0h.01M79.6 86.5h.01M36.3 60.8h.01M92.7 47.0h.01M37.4 44.8h.01M47.4 57.5h.01M35.1 58.1h.01M57.6 55.5h.01M95.9 22.6h.01M29.8 68.9h.01M82.4 40.9h.01M67.3 38.5h.01M36.0 92.2h.01M102.5 94.9h.01M84.3 86.2h.01M59.8 48.6h.01M92.4 82.8h.01M69.1 48.1h.01M71.2 31.5h.01M89.3 32.3h.01M96.4 76.9h.01M50.5 67.4h.01M56.0 73.4h.01M86.2 76.9h.01M66.4 29.8h.01M77.3 24.6h.01M85.8 51.7h.01M68.1 38.4h.01M84.9 80.7h.01M99.6 25.0h.01M95.2 49.5h.01M86.7 88.2h.01M64.5 60.8h.01M33.2 50.8h.01M94.3 24.6h.01M31.7 44.2h.01M84.1 36.5h.01M58.6 76.7h.01M65.9 88.8h.01M56.5 74.7h.01M99.7 60.8h.01M83.8 33.4h.01M75.2 88.9h.01M71.8 49.5h.01M84.1 96.1h.01M37.0 74.5h.01" stroke="#e6e6e6" stroke-width="0.9" stroke-linecap="round" fill="none" stroke-opacity="0.85"/>
<path d="M87.7 25.9h.01M38.0 66.4h.01M66.7 65.8h.01M57.0 48.8h.01M57.9 30.9h.01M66.1 60.7h.01M107.7 96.3h.01M30.5 50.5h.01M92.8 38.9h.01M86.5 49.3h.01M101.2 58.4h.01M48.4 86.3h.01M49.7 79.1h.01M86.3 54.0h.01M85.1 32.5h.01M35.8 75.1h.01M30.6 80.0h.01M34.1 36.4h.01M91.7 77.0h.01M47.4 81.7h.01M29.4 67.7h.01M61.9 91.7h.01M92.1 78.7h.01M64.5 86.9h.01M30.3 58.8h.01M83.4 53.9h.01M78.1 38.1h.01M71.9 37.3h.01M102.8 61.0h.01M31.4 58.4h.01M95.6 80.8h.01M46.7 89.6h.01M86.8 83.7h.01M41.1 36.3h.01M39.5 62.7h.01M81.8 82.8h.01M44.2 54.7h.01M77.7 58.8h.01M97.0 32.3h.01M88.0 51.7h.01M64.7 62.5h.01M103.1 60.1h.01M104.9 90.6h.01M70.9 80.2h.01M51.2 71.8h.01M34.8 82.9h.01M71.9 38.2h.01M52.4 97.1h.01M46.1 54.7h.01M71.7 81.8h.01M33.1 29.7h.01M90.3 77.2h.01M43.8 56.8h.01M38.6 63.0h.01M96.8 90.0h.01M39.4 61.5h.01M43.7 75.1h.01M69.7 32.7h.01M84.5 84.7h.01M53.9 72.7h.01M85.0 90.9h.01M32.4 76.2h.01M102.9 59.9h.01M42.1 66.0h.01M35.9 67.2h.01M41.9 58.8h.01M104.5 96.7h.01M83.4 43.4h.01M103.7 46.1h.01M101.6 88.8h.01M83.5 80.4h.01M80.9 91.8h.01M49.7 95.6h.01M81.4 79.5h.01M49.2 53.3h.01M56.5 87.8h.01M65.5 67.7h.01M51.4 94.9h.01M32.2 61.0h.01" stroke="#e6e6e6" stroke-width="1.3" stroke-linecap="round" fill="none" stroke-opacity="0.85"/>
<path d="M91.7 26.6h.01M32.9 35.8h.01M55.5 69.0h.01M39.7 52.5h.01M65.3 89.6h.01M73.6 57.9h.01M68.8 65.4h.01M82.7 81.1h.01M57.0 24.7h.01M31.7 47.8h.01M61.3 56.4h.01M62.6 55.4h.01M35.4 86.6h.01M30.5 56.0h.01M57.7 26.8h.01M58.1 75.9h.01M44.0 62.8h.01M29.1 69.9h.01M106.9 65.1h.01M51.1 54.8h.01M84.8 37.9h.01M48.3 42.0h.01M74.9 33.1h.01M81.2 30.8h.01M49.7 89.8h.01M58.6 87.9h.01M87.1 83.9h.01M82.0 30.2h.01M55.1 96.6h.01M93.6 26.4h.01M37.6 32.7h.01M38.7 55.6h.01M45.4 34.9h.01M86.0 52.7h.01M45.4 38.9h.01M75.8 26.6h.01M34.7 63.5h.01M34.7 93.2h.01M49.5 53.0h.01M80.9 90.4h.01M98.8 46.2h.01M45.2 79.4h.01M34.0 68.7h.01M71.0 36.9h.01M29.9 45.1h.01M95.8 86.6h.01M95.1 24.9h.01M86.7 27.0h.01M43.7 69.3h.01M96.5 31.6h.01M107.7 57.7h.01M43.1 75.9h.01M29.2 57.0h.01M41.7 23.1h.01M84.4 96.2h.01M97.0 31.5h.01M73.1 28.1h.01M94.4 30.0h.01M89.7 56.3h.01M59.8 49.7h.01M68.9 93.7h.01M97.9 24.9h.01M34.1 33.0h.01M50.6 89.2h.01M62.5 59.5h.01M99.5 92.1h.01M89.6 25.7h.01M55.2 89.2h.01M74.1 30.1h.01M53.9 88.1h.01M79.4 95.2h.01M100.8 78.7h.01M66.4 54.9h.01M91.2 38.4h.01M56.7 25.6h.01M58.8 72.0h.01M41.9 30.9h.01M57.0 58.1h.01M93.6 76.4h.01M70.7 35.7h.01M50.0 94.5h.01M36.4 84.2h.01M36.8 89.3h.01" stroke="#f6f6f6" stroke-width="0.9" stroke-linecap="round" fill="none" stroke-opacity="0.85"/>
<path d="M63.3 91.5h.01M99.2 61.3h.01M86.5 33.1h.01M106.0 57.4h.01M35.8 77.7h.01M74.4 38.6h.01M86.1 74.4h.01M54.0 89.0h.01M76.0 35.0h.01M43.0 72.3h.01M53.2 48.4h.01M63.4 57.3h.01M70.4 47.9h.01M90.7 79.5h.01M30.8 48.3h.01M94.1 54.3h.01M66.2 90.3h.01M41.7 24.2h.01M52.5 72.1h.01M68.5 36.6h.01M53.2 29.4h.01M31.8 56.2h.01M78.8 90.8h.01M42.6 53.6h.01M56.1 52.3h.01M46.5 72.0h.01M71.7 35.8h.01M86.3 45.7h.01M34.4 91.4h.01M71.5 34.7h.01M40.0 24.0h.01M95.6 35.9h.01M66.9 92.6h.01M34.5 46.6h.01M81.4 94.1h.01M32.4 32.7h.01M90.2 30.2h.01M58.8 28.6h.01M77.0 77.6h.01M28.9 68.2h.01M71.9 46.8h.01M38.1 32.7h.01M72.4 35.9h.01M31.8 45.7h.01M34.1 94.7h.01M81.2 41.0h.01M34.8 35.4h.01M107.8 93.9h.01M93.2 51.9h.01M51.9 93.8h.01M92.4 35.0h.01M47.8 51.9h.01M75.6 35.1h.01M91.6 82.5h.01M56.5 93.4h.01M103.5 59.1h.01M64.7 92.8h.01M101.9 86.5h.01M99.9 87.9h.01M80.0 45.5h.01M74.6 58.4h.01M53.9 97.0h.01M106.8 86.8h.01M48.0 65.3h.01M35.6 66.3h.01M42.7 25.0h.01M91.8 30.7h.01M71.5 40.2h.01M105.9 60.5h.01M73.3 38.2h.01M69.6 50.3h.01M101.2 87.2h.01M56.1 53.1h.01" stroke="#f6f6f6" stroke-width="1.3" stroke-linecap="round" fill="none" stroke-opacity="0.85"/>
</g>
<rect x="27.4" y="20" width="13.6" height="13.2" fill="#fff" stroke="none" stroke-width="1"/>
<rect x="118.1" y="20.2" width="80.6" height="80.1" fill="rgb(169,169,169)" stroke="none" stroke-width="1"/>
<rect x="118.1" y="20.2" width="80.6" height="80.1" fill="#888" stroke="none" stroke-width="1" filter="url(#tn2)"/>
<g clip-path="url(#tc2)">
<path d="M156.6 41.8h.01M193.8 59.5h.01M170.4 90.9h.01M181.6 27.9h.01M149.9 57.0h.01M194.6 69.6h.01M181.6 51.6h.01M140.8 33.2h.01M144.7 32.1h.01M163.6 42.9h.01M181.7 64.5h.01M187.0 58.7h.01M166.0 39.2h.01M173.8 38.5h.01M198.4 52.2h.01M183.9 44.3h.01M196.2 75.7h.01M150.8 21.4h.01M137.1 28.0h.01M174.2 54.3h.01M150.0 50.8h.01M186.3 49.9h.01M191.0 40.3h.01M154.3 26.6h.01M143.3 50.6h.01M193.3 47.7h.01M194.4 80.5h.01M190.0 80.4h.01M160.4 33.3h.01M144.6 37.8h.01M196.9 78.8h.01M182.8 26.9h.01M154.6 77.0h.01M159.3 31.7h.01M191.5 31.1h.01M159.8 25.3h.01M138.0 42.3h.01M194.2 48.3h.01M173.0 24.5h.01M188.7 70.6h.01M156.7 34.7h.01M182.7 33.2h.01M172.6 34.3h.01M167.6 41.9h.01M145.4 27.3h.01M184.0 28.6h.01M186.3 48.2h.01M167.1 26.7h.01M186.3 35.2h.01M181.9 47.7h.01M191.1 23.8h.01M150.1 40.7h.01M166.7 28.8h.01M189.8 33.1h.01M178.5 25.0h.01M183.7 22.2h.01M136.7 73.9h.01M176.2 51.7h.01M193.6 69.7h.01M196.4 66.6h.01M197.1 81.5h.01M154.8 23.3h.01M166.3 25.3h.01M155.0 73.8h.01M198.6 55.0h.01M163.7 30.6h.01M137.9 75.7h.01M174.1 31.7h.01M153.5 49.2h.01M196.3 57.2h.01M131.9 75.4h.01M173.7 43.1h.01M188.6 23.0h.01M151.4 88.1h.01M191.7 80.0h.01M151.3 27.7h.01M196.0 69.5h.01M148.0 48.4h.01M133.5 65.6h.01M158.4 42.9h.01M196.1 70.6h.01M150.3 29.3h.01M148.1 59.6h.01M184.4 36.8h.01M162.9 76.9h.01M172.3 53.9h.01M137.5 28.3h.01M150.2 60.8h.01M180.4 51.8h.01M145.3 36.9h.01M170.3 23.1h.01M191.2 28.8h.01M190.8 35.9h.01M149.3 48.3h.01M179.2 65.3h.01M187.1 31.1h.01M166.7 34.7h.01M179.4 66.8h.01M172.3 28.7h.01M167.1 34.0h.01M161.2 92.8h.01M181.5 33.2h.01M153.2 50.8h.01M163.1 48.1h.01M130.7 71.5h.01M194.7 34.2h.01M164.2 90.5h.01M171.7 34.9h.01M142.9 28.8h.01M145.6 55.9h.01M195.5 56.6h.01M185.0 75.3h.01M167.1 41.4h.01M137.4 74.1h.01M163.1 45.4h.01M146.0 31.3h.01M183.0 64.3h.01M158.8 45.7h.01M146.0 53.7h.01M148.3 54.8h.01M189.0 28.7h.01M196.3 71.7h.01M196.9 74.4h.01M192.9 47.8h.01M172.0 27.9h.01M140.3 40.2h.01M152.7 38.0h.01M184.8 55.7h.01M184.4 36.7h.01M166.1 50.1h.01M173.2 55.0h.01M188.4 74.3h.01M186.4 78.6h.01M153.9 40.2h.01M196.2 28.3h.01M130.4 75.9h.01M194.8 26.9h.01M161.6 25.8h.01M152.1 30.3h.01M173.2 56.8h.01M178.3 51.5h.01M145.4 29.5h.01M179.9 33.1h.01M194.8 74.3h.01M170.7 25.4h.01M188.1 54.3h.01M187.6 75.2h.01M146.1 25.4h.01" stroke="#2e2e2e" stroke-width="0.9" stroke-linecap="round" fill="none" stroke-opacity="0.9"/>
<path d="M169.6 22.7h.01M143.8 58.9h.01M174.1 23.9h.01M153.4 82.0h.01M132.0 40.6h.01M165.7 50.6h.01M189.7 77.1h.01M147.7 50.5h.01M151.7 43.7h.01M181.1 58.3h.01M169.0 52.8h.01M145.5 59.5h.01M159.2 44.2h.01M180.6 48.3h.01M155.6 42.0h.01M154.9 33.0h.01M196.7 72.3h.01M157.7 36.0h.01M149.5 75.6h.01M159.7 52.3h.01M167.5 49.2h.01M185.9 65.5h.01M151.2 55.1h.01M141.7 50.3h.01M195.4 78.6h.01M142.9 68.0h.01M167.5 48.9h.01M186.5 38.0h.01M197.2 71.3h.01M195.8 25.1h.01M142.1 48.7h.01M178.9 50.9h.01M171.8 23.3h.01M156.1 48.1h.01M168.9 35.6h.01M186.6 70.2h.01M167.7 49.0h.01M174.5 38.1h.01M176.6 22.8h.01M153.0 51.6h.01M157.5 42.5h.01M148.3 51.8h.01M179.2 62.6h.01M174.8 36.4h.01M154.4 73.0h.01M170.3 24.6h.01M194.8 55.6h.01M190.9 31.9h.01M167.1 33.4h.01M177.4 45.9h.01M185.2 45.6h.01M156.0 75.9h.01M139.4 36.3h.01M165.8 25.6h.01M178.2 61.8h.01M166.3 20.8h.01M184.6 73.6h.01M150.8 34.2h.01M187.4 35.8h.01M195.9 59.3h.01M152.5 76.1h.01M154.9 54.6h.01M198.3 37.9h.01M162.2 39.5h.01M197.1 30.1h.01M183.1 63.7h.01M181.8 61.4h.01M176.1 54.1h.01M163.6 53.2h.01M187.5 24.9h.01M153.7 22.1h.01M190.7 37.7h.01M189.1 69.9h.01M163.5 38.1h.01M167.0 26.4h.01M170.2 43.5h.01M195.0 78.6h.01M183.8 27.9h.01M145.9 49.5h.01M151.8 41.0h.01M158.7 37.7h.01M138.3 21.2h.01M142.3 64.5h.01M148.9 44.6h.01M190.1 36.2h.01M132.6 75.4h.01M186.1 75.4h.01M176.1 39.9h.01M174.1 75.0h.01M178.6 29.0h.01M174.8 68.6h.01M183.8 39.6h.01M175.3 23.7h.01M141.1 44.1h.01M194.6 33.4h.01M157.4 32.0h.01M153.6 23.5h.01M149.3 51.8h.01M192.4 62.2h.01M150.1 53.1h.01M189.3 51.6h.01M161.7 72.3h.01M138.9 70.5h.01M184.3 27.9h.01M177.8 25.0h.01M144.6 63.2h.01M194.4 20.6h.01M155.3 45.5h.01M174.1 37.3h.01M182.4 42.2h.01M153.5 21.8h.01M194.9 65.1h.01M188.2 31.0h.01M173.3 49.8h.01M187.2 21.5h.01M148.6 50.8h.01M143.7 31.4h.01M187.1 35.6h.01M178.2 29.8h.01M186.9 69.9h.01M141.8 73.0h.01M186.0 77.0h.01M170.9 20.3h.01M155.7 41.0h.01M188.1 57.4h.01M169.7 43.6h.01M142.6 35.8h.01M163.6 44.4h.01M180.2 29.0h.01M146.8 53.9h.01M187.3 47.0h.01M163.3 38.7h.01" stroke="#2e2e2e" stroke-width="1.3" stroke-linecap="round" fill="none" stroke-opacity="0.9"/>
<path d="M177.7 46.8h.01M179.9 28.3h.01M139.8 26.5h.01M182.3 50.4h.01M183.7 74.4h.01M196.9 62.0h.01M188.6 63.6h.01M181.6 25.8h.01M174.9 35.2h.01M152.9 25.7h.01M144.2 27.9h.01M168.2 88.9h.01M157.4 26.5h.01M146.2 55.7h.01M141.3 25.7h.01M162.4 44.9h.01M144.8 21.1h.01M174.7 40.5h.01M184.7 59.1h.01M142.1 40.8h.01M169.0 32.0h.01M154.8 27.4h.01M188.5 57.2h.01M190.6 72.8h.01M146.8 62.6h.01M144.0 38.0h.01M144.5 26.2h.01M192.1 43.3h.01M150.8 49.0h.01M151.5 42.8h.01M159.1 72.9h.01M167.0 41.9h.01M146.6 50.4h.01M157.9 48.3h.01M137.4 30.9h.01M164.9 22.5h.01M197.3 44.9h.01M144.2 55.5h.01M136.3 76.5h.01M138.9 20.8h.01M183.8 57.7h.01M159.5 53.5h.01M149.9 45.1h.01M169.2 94.6h.01M164.1 22.8h.01M177.7 66.3h.01M188.2 79.8h.01M155.9 76.9h.01M165.8 38.7h.01M147.6 30.6h.01M170.1 90.6h.01M163.6 92.7h.01M156.9 78.0h.01M162.4 37.4h.01M192.5 81.8h.01M142.1 20.4h.01M195.5 54.3h.01M151.4 46.3h.01M169.8 51.0h.01M154.0 56.0h.01M137.3 77.5h.01M164.3 24.4h.01M162.2 47.8h.01M195.2 66.3h.01M194.3 45.9h.01M135.0 29.3h.01M184.4 42.8h.01M135.1 78.6h.01M196.7 45.5h.01M136.4 72.3h.01M138.4 41.5h.01M154.8 29.3h.01M188.6 71.4h.01M148.2 48.2h.01M193.5 25.7h.01M154.4 23.5h.01M163.3 32.4h.01M157.6 34.0h.01M159.6 39.8h.01M146.1 57.0h.01M148.9 41.9h.01M171.2 24.1h.01M169.1 30.0h.01M186.3 61.1h.01M181.9 55.5h.01M152.9 43.9h.01M156.3 21.9h.01M196.8 66.9h.01M166.6 42.9h.01M198.0 82.2h.01M183.0 52.1h.01M190.6 39.2h.01M153.3 54.8h.01M176.5 68.3h.01M153.1 76.2h.01M163.1 37.2h.01M160.3 34.2h.01M136.4 43.4h.01M145.7 56.2h.01M175.5 42.2h.01M151.7 42.2h.01M148.6 51.6h.01M160.3 32.6h.01M160.5 20.4h.01M156.4 32.0h.01M185.0 41.0h.01M147.8 42.7h.01M160.9 21.9h.01M140.4 69.9h.01M197.2 51.9h.01M169.7 29.3h.01M188.2 48.0h.01M145.8 32.0h.01M180.2 53.4h.01M178.8 20.9h.01M177.1 29.1h.01M186.8 32.7h.01M157.2 78.9h.01M158.3 31.4h.01M195.3 36.5h.01M166.0 54.2h.01M179.8 52.9h.01M193.3 71.0h.01M182.2 68.2h.01M177.9 42.9h.01M133.6 42.1h.01M193.6 57.7h.01M154.2 44.6h.01M175.8 30.3h.01M178.5 63.3h.01M144.9 61.3h.01M196.9 68.2h.01M150.0 26.6h.01M186.5 62.9h.01M137.4 73.7h.01M141.7 27.8h.01M193.5 71.9h.01M186.0 51.0h.01M160.8 53.8h.01M188.8 25.1h.01M165.9 44.1h.01M187.2 43.5h.01M194.4 56.6h.01M178.5 46.1h.01M191.2 32.1h.01M139.1 29.4h.01M184.6 20.7h.01M138.1 41.2h.01M131.0 38.1h.01M177.1 25.4h.01M168.1 40.1h.01M194.5 80.3h.01M154.5 33.9h.01" stroke="#505050" stroke-width="0.9" stroke-linecap="round" fill="none" stroke-opacity="0.9"/>
<path d="M182.1 52.7h.01M184.5 42.9h.01M156.9 37.5h.01M134.4 73.8h.01M171.2 33.6h.01M149.5 26.6h.01M174.3 85.3h.01M156.5 74.7h.01M171.8 27.3h.01M184.8 54.1h.01M186.1 74.0h.01M178.4 51.9h.01M194.8 30.9h.01M134.2 39.6h.01M191.3 58.9h.01M177.5 68.2h.01M175.8 27.6h.01M182.2 28.9h.01M149.7 50.7h.01M186.3 63.9h.01M150.2 22.2h.01M186.7 78.1h.01M159.8 31.5h.01M163.5 33.9h.01M145.4 58.7h.01M150.3 45.8h.01M170.3 22.1h.01M195.4 42.6h.01M164.8 46.5h.01M186.4 42.6h.01M148.8 89.4h.01M183.0 66.9h.01M151.2 54.6h.01M159.3 21.1h.01M143.7 52.8h.01M158.5 38.4h.01M154.8 74.4h.01M177.1 38.0h.01M152.9 52.3h.01M164.3 44.9h.01M191.3 52.4h.01M157.0 40.6h.01M195.5 39.6h.01M165.5 92.6h.01M156.1 39.5h.01M186.7 41.5h.01M183.6 58.1h.01M184.1 54.1h.01M197.7 47.6h.01M170.9 39.2h.01M176.5 23.8h.01M188.2 63.0h.01M177.1 56.1h.01M191.4 44.0h.01M192.6 47.4h.01M190.5 70.8h.01M142.8 38.0h.01M193.3 34.6h.01M164.6 39.5h.01M150.0 38.2h.01M176.7 32.1h.01M130.1 69.5h.01M154.6 29.5h.01M195.4 65.2h.01M196.9 54.1h.01M148.0 23.4h.01M139.4 47.9h.01M132.5 41.1h.01M149.9 54.3h.01M196.6 64.2h.01M152.9 42.2h.01M195.9 64.4h.01M195.3 65.2h.01M152.9 87.0h.01M175.9 42.6h.01M165.3 32.5h.01M169.3 35.5h.01M154.6 76.9h.01M187.3 74.2h.01M150.9 39.3h.01M182.3 33.0h.01M187.1 23.8h.01M173.5 45.6h.01M152.1 71.1h.01M177.6 71.8h.01M160.5 34.2h.01M169.0 94.5h.01M137.7 70.2h.01M134.7 32.9h.01M169.1 83.5h.01M189.4 64.6h.01M182.5 35.6h.01M190.2 75.5h.01M190.8 76.1h.01M185.6 68.1h.01M178.1 23.1h.01M137.0 71.4h.01M155.3 57.0h.01M141.4 25.8h.01M193.8 68.6h.01M128.2 71.3h.01M142.0 24.2h.01M172.8 24.3h.01M187.0 20.3h.01M144.7 42.1h.01M176.5 71.4h.01M179.6 77.0h.01M198.2 28.1h.01M162.6 24.7h.01M175.5 51.0h.01M170.4 88.7h.01M155.5 24.9h.01M181.6 25.1h.01M195.2 44.4h.01M157.8 35.2h.01M135.6 35.7h.01M177.7 40.6h.01M146.4 36.0h.01M174.3 44.6h.01M145.6 58.2h.01M168.7 49.1h.01M147.3 46.0h.01M138.6 67.0h.01M151.9 53.8h.01M156.2 21.8h.01M154.6 34.1h.01M180.2 26.0h.01M163.5 87.7h.01M141.4 38.9h.01M167.0 45.5h.01M197.8 44.7h.01M153.0 48.1h.01M138.0 26.1h.01M159.1 49.3h.01M170.3 24.8h.01M189.5 63.7h.01M165.6 46.1h.01M197.6 50.7h.01M167.5 93.1h.01M185.6 74.0h.01M163.6 33.1h.01M136.2 44.3h.01M192.3 34.4h.01M178.9 32.9h.01M174.0 24.8h.01M189.7 39.9h.01M152.1 33.4h.01M152.4 74.6h.01M151.1 85.0h.01M173.2 31.6h.01M147.3 45.5h.01M151.0 71.3h.01M185.7 76.0h.01M187.7 45.8h.01M190.2 23.6h.01M138.5 41.3h.01" stroke="#505050" stroke-width="1.3" stroke-linecap="round" fill="none" stroke-opacity="0.9"/>
<path d="M154.0 40.7h.01M186.1 35.0h.01M166.8 24.7h.01M186.0 67.3h.01M191.3 40.1h.01M197.7 53.1h.01M170.2 23.2h.01M144.1 36.2h.01M144.9 23.9h.01M179.2 30.9h.01M161.3 51.0h.01M152.7 30.9h.01M163.0 31.3h.01M167.3 27.4h.01M132.6 32.9h.01M149.2 42.3h.01M168.3 31.8h.01M178.5 69.2h.01M153.7 45.2h.01M141.0 34.8h.01M163.4 40.4h.01M155.3 55.4h.01M187.0 74.7h.01M178.8 76.5h.01M165.3 28.9h.01M198.4 63.6h.01M183.0 27.9h.01M197.6 48.6h.01M136.4 46.5h.01M185.3 74.8h.01M170.8 31.3h.01M184.6 69.8h.01M191.3 51.4h.01M186.1 43.4h.01M154.5 57.3h.01M158.8 30.0h.01M193.7 79.4h.01M171.5 23.9h.01M156.6 77.6h.01M156.2 37.3h.01M168.3 21.4h.01M150.7 54.8h.01M178.9 33.0h.01M189.6 43.0h.01M174.3 56.8h.01M194.2 76.2h.01M170.6 41.7h.01M153.1 25.5h.01M192.4 59.9h.01M137.6 31.9h.01M132.7 73.7h.01M146.3 22.3h.01M196.1 66.7h.01M177.0 43.4h.01M189.0 58.4h.01M154.7 72.7h.01M166.5 49.9h.01M190.2 41.3h.01M163.5 86.5h.01M140.2 69.1h.01M193.8 53.0h.01M179.2 59.3h.01M162.2 37.9h.01M139.0 24.8h.01M163.9 30.2h.01M188.0 74.7h.01M187.7 53.9h.01M188.0 52.0h.01M136.6 41.7h.01M152.8 21.1h.01M143.6 62.9h.01M166.0 39.1h.01M186.2 55.0h.01M163.7 30.9h.01M150.7 53.2h.01M197.0 21.1h.01M179.4 22.1h.01M180.9 28.4h.01M157.7 54.9h.01M168.4 33.1h.01M158.7 28.7h.01M156.6 32.0h.01M192.1 43.0h.01M156.4 34.4h.01M174.6 43.3h.01M143.6 43.1h.01M178.0 34.7h.01M196.4 56.7h.01M164.4 49.3h.01M180.4 23.7h.01M170.6 30.3h.01M144.5 63.3h.01M129.9 75.1h.01M149.6 77.5h.01M142.5 45.6h.01M157.8 46.6h.01M165.4 46.6h.01M153.2 90.1h.01M185.1 29.7h.01M188.7 69.6h.01M154.2 57.5h.01M161.2 46.9h.01M159.4 50.0h.01M147.3 28.0h.01M151.8 29.6h.01M135.8 79.8h.01M197.5 77.0h.01M148.5 34.3h.01M142.4 22.2h.01M181.0 55.5h.01M165.7 30.3h.01M185.1 71.2h.01M195.0 21.7h.01M182.3 33.6h.01M145.9 52.8h.01M190.9 30.5h.01M161.7 51.7h.01M173.9 47.7h.01M188.6 41.8h.01M170.9 55.0h.01M176.5 59.1h.01M177.1 40.8h.01M191.4 47.5h.01M147.9 25.8h.01M171.1 52.8h.01M153.2 53.2h.01M164.9 88.0h.01M171.7 27.0h.01M147.4 27.7h.01M168.6 49.5h.01M158.6 55.2h.01M171.2 41.4h.01M153.2 51.6h.01M174.1 72.1h.01M166.8 34.0h.01M188.0 36.0h.01M171.2 53.2h.01M139.2 36.5h.01M154.5 24.8h.01M180.9 62.4h.01M159.4 34.0h.01M156.7 31.4h.01M192.4 52.2h.01M132.9 74.7h.01M172.8 42.9h.01M140.9 25.3h.01" stroke="#707070" stroke-width="0.9" stroke-linecap="round" fill="none" stroke-opacity="0.9"/>
<path d="M152.4 58.5h.01M194.0 76.5h.01M172.6 56.2h.01M169.5 31.8h.01M168.0 93.4h.01M154.9 57.6h.01M173.6 24.1h.01M135.3 39.4h.01M162.5 33.5h.01M193.1 55.8h.01M188.7 57.7h.01M184.4 37.8h.01M180.8 27.5h.01M156.4 33.8h.01M134.1 77.1h.01M189.4 29.8h.01M183.4 23.7h.01M188.3 76.2h.01M149.7 33.5h.01M136.0 44.3h.01M162.6 28.0h.01M182.9 42.8h.01M177.4 44.9h.01M160.8 90.8h.01M185.4 21.5h.01M145.1 24.7h.01M186.2 56.5h.01M190.1 45.8h.01M147.1 34.3h.01M195.2 35.4h.01M184.0 66.9h.01M168.5 30.9h.01M175.1 43.4h.01M188.6 58.7h.01M143.8 54.1h.01M183.1 61.7h.01M147.2 42.5h.01M191.2 41.9h.01M157.8 27.6h.01M157.5 79.0h.01M167.6 52.8h.01M192.4 39.1h.01M194.5 29.8h.01M181.5 28.0h.01M198.4 74.8h.01M165.1 84.6h.01M149.0 43.8h.01M174.4 46.8h.01M159.0 75.5h.01M143.0 63.7h.01M188.8 51.8h.01M146.1 49.4h.01M139.4 30.3h.01M190.8 52.4h.01M175.8 63.9h.01M150.1 26.0h.01M158.4 21.1h.01M174.9 38.9h.01M182.8 45.9h.01M158.1 27.7h.01M195.8 77.7h.01M186.7 50.6h.01M145.1 36.4h.01M148.2 24.3h.01M161.4 30.2h.01M180.3 30.7h.01M168.6 83.5h.01M144.6 32.1h.01M174.9 32.7h.01M167.7 23.2h.01M150.1 76.2h.01M140.0 28.8h.01M145.7 55.9h.01M162.6 50.5h.01M198.5 44.0h.01M147.0 51.8h.01M151.1 31.9h.01M197.8 79.9h.01M141.4 36.7h.01M140.9 41.8h.01M193.9 80.7h.01M180.6 43.8h.01M162.2 34.1h.01M198.3 36.3h.01M142.0 24.7h.01M143.0 23.9h.01M143.3 61.2h.01M186.2 74.2h.01M137.2 25.0h.01M137.1 47.1h.01M156.9 54.3h.01M173.5 69.9h.01M145.6 59.2h.01M179.8 61.6h.01M186.8 58.9h.01M160.4 53.8h.01M188.8 34.0h.01M195.3 35.6h.01M197.4 38.0h.01M151.8 49.8h.01M137.5 76.8h.01M137.2 40.9h.01M155.2 31.8h.01M185.7 24.0h.01M196.2 38.6h.01M188.5 69.1h.01M196.5 71.4h.01M185.8 57.1h.01M176.4 44.7h.01M188.1 67.9h.01M149.1 50.1h.01M175.6 28.5h.01M144.4 24.1h.01M153.1 28.5h.01M175.9 26.4h.01M169.6 41.1h.01M165.0 90.5h.01M178.9 58.8h.01M162.3 24.1h.01M182.8 70.1h.01M159.7 37.7h.01M175.1 63.4h.01M195.3 32.6h.01M182.4 50.3h.01M179.4 47.1h.01M150.2 89.0h.01M187.4 54.1h.01M148.6 87.0h.01M149.0 55.6h.01M178.2 68.3h.01M197.9 54.6h.01M148.7 43.7h.01M179.5 50.4h.01M138.3 38.6h.01M160.8 79.0h.01M191.7 67.5h.01M157.3 39.3h.01M195.5 30.9h.01M148.3 32.0h.01M181.0 27.4h.01M183.2 42.7h.01M186.5 48.5h.01M136.9 42.3h.01M191.7 62.1h.01M144.1 33.6h.01M133.4 32.8h.01M189.0 38.9h.01M196.8 67.2h.01M158.7 29.1h.01M157.5 32.1h.01M143.7 40.9h.01M148.0 55.9h.01M159.3 35.7h.01M140.1 29.5h.01M134.1 84.8h.01M184.8 38.3h.01M146.6 59.2h.01M160.9 53.6h.01M157.5 46.6h.01M166.5 24.2h.01M156.6 23.6h.01M191.8 68.0h.01M196.5 70.6h.01M166.0 50.9h.01M194.1 72.0h.01" stroke="#707070" stroke-width="1.3" stroke-linecap="round" fill="none" stroke-opacity="0.9"/>
<path d="M140.5 26.8h.01M170.7 91.7h.01M194.9 70.3h.01M179.9 31.4h.01M174.3 39.2h.01M198.7 53.0h.01M145.5 21.4h.01M179.3 69.4h.01M141.5 35.4h.01M187.7 75.1h.01M166.0 29.2h.01M151.6 49.2h.01M183.6 28.5h.01M194.9 48.5h.01M189.3 71.1h.01M171.5 31.8h.01M145.5 28.1h.01M159.2 30.7h.01M144.5 56.2h.01M182.5 48.3h.01M172.2 24.3h.01M150.3 41.4h.01M164.8 23.2h.01M179.1 25.6h.01M184.0 23.0h.01M176.9 51.9h.01M155.1 24.0h.01M167.0 25.7h.01M166.4 39.3h.01M194.8 76.7h.01M157.6 78.5h.01M163.1 37.8h.01M153.9 49.9h.01M152.2 46.5h.01M170.4 51.5h.01M151.6 88.9h.01M162.9 48.2h.01M138.9 42.1h.01M182.5 56.0h.01M164.7 30.4h.01M156.7 22.6h.01M164.1 31.6h.01M170.5 23.9h.01M151.5 53.5h.01M191.6 36.1h.01M179.8 22.8h.01M169.0 33.5h.01M192.2 43.8h.01M177.0 69.0h.01M153.8 76.6h.01M163.7 37.8h.01M170.9 31.1h.01M156.8 32.7h.01M161.9 47.4h.01M148.0 28.4h.01M146.2 32.8h.01M180.6 54.1h.01M181.6 56.0h.01M179.5 21.2h.01M167.2 42.2h.01M187.1 33.5h.01M158.0 79.2h.01M180.2 53.6h.01M146.7 54.1h.01M148.8 55.4h.01M189.8 28.8h.01M193.6 48.2h.01M177.3 41.6h.01M185.4 56.2h.01M178.6 43.2h.01M176.1 31.0h.01M174.7 72.6h.01M178.8 64.0h.01M197.4 68.8h.01M150.7 27.0h.01M188.5 36.7h.01M152.5 31.0h.01M186.2 51.8h.01M189.4 25.6h.01M166.2 44.8h.01M179.2 46.6h.01M180.5 33.6h.01M157.5 31.5h.01M171.5 25.7h.01M192.9 52.9h.01M141.1 26.1h.01" stroke="#e6e6e6" stroke-width="0.9" stroke-linecap="round" fill="none" stroke-opacity="0.85"/>
<path d="M170.0 23.8h.01M185.3 43.7h.01M173.7 56.5h.01M150.3 27.5h.01M136.1 40.2h.01M189.8 58.0h.01M157.6 75.0h.01M189.7 30.9h.01M195.4 31.9h.01M188.9 77.2h.01M150.1 34.5h.01M178.6 45.2h.01M158.8 36.3h.01M192.4 59.3h.01M186.3 22.2h.01M177.9 69.3h.01M151.1 22.9h.01M186.6 66.5h.01M187.6 78.8h.01M196.0 79.6h.01M196.0 36.2h.01M151.2 46.5h.01M170.5 23.3h.01M144.1 55.2h.01M149.4 90.4h.01M142.9 49.5h.01M179.9 51.5h.01M159.4 39.1h.01M187.7 70.5h.01M175.3 39.0h.01M195.5 30.3h.01M182.2 28.9h.01M148.8 52.9h.01M175.3 37.4h.01M171.4 25.0h.01M147.1 49.9h.01M184.6 58.6h.01M140.4 30.9h.01M191.8 53.0h.01M178.2 46.8h.01M183.6 46.7h.01M143.6 38.8h.01M166.1 26.7h.01M179.1 62.6h.01M177.0 33.2h.01M153.0 77.2h.01M198.4 80.9h.01M142.3 37.5h.01M195.7 66.3h.01M141.9 42.4h.01M163.2 34.6h.01M176.6 43.5h.01M168.2 26.7h.01M188.3 74.8h.01M174.6 70.4h.01M146.2 60.2h.01M198.0 39.1h.01M186.5 24.7h.01M190.9 37.1h.01M177.9 72.9h.01M197.6 71.9h.01M175.1 75.6h.01M179.6 29.4h.01M150.2 50.6h.01M175.9 68.9h.01M170.5 41.8h.01M165.6 91.5h.01M154.1 24.5h.01M179.9 59.5h.01M162.6 25.3h.01M192.8 63.3h.01M151.1 53.8h.01M142.6 25.2h.01M173.9 24.6h.01M177.0 72.5h.01M178.8 25.5h.01M171.5 89.1h.01M149.6 44.4h.01M182.6 25.7h.01M174.4 38.4h.01M147.4 36.7h.01M146.4 59.0h.01M139.6 67.7h.01M155.5 34.8h.01M167.3 46.7h.01M159.6 29.8h.01M144.6 41.6h.01M187.1 77.3h.01M161.9 54.1h.01M180.9 30.0h.01M195.2 72.4h.01M188.4 46.7h.01M191.3 24.0h.01M164.4 38.9h.01" stroke="#e6e6e6" stroke-width="1.3" stroke-linecap="round" fill="none" stroke-opacity="0.85"/>
<path d="M186.8 35.3h.01M182.8 51.1h.01M184.1 75.1h.01M197.5 62.6h.01M170.9 23.3h.01M144.5 36.9h.01M188.8 64.4h.01M182.1 52.2h.01M141.4 33.7h.01M187.2 59.5h.01M166.6 39.8h.01M153.0 31.6h.01M163.0 45.5h.01M163.6 31.9h.01M196.7 76.3h.01M137.9 28.2h.01M191.4 41.0h.01M194.9 81.1h.01M138.5 43.0h.01M157.2 35.3h.01M185.2 70.4h.01M137.1 76.7h.01M187.0 35.6h.01M150.0 45.8h.01M156.4 38.1h.01M151.1 55.5h.01M170.8 42.5h.01M174.8 32.0h.01M196.2 54.7h.01M147.0 22.8h.01M154.2 56.8h.01M138.1 77.7h.01M194.9 46.4h.01M135.7 29.7h.01M164.2 86.8h.01M151.1 29.5h.01M148.6 60.3h.01M138.1 28.8h.01M164.0 32.7h.01M158.0 34.7h.01M150.6 61.5h.01M171.4 24.9h.01M139.8 25.0h.01M188.5 75.2h.01M186.9 55.2h.01M197.3 21.8h.01M183.8 52.3h.01M191.2 39.7h.01M157.0 35.0h.01M175.4 43.5h.01M144.3 43.4h.01M187.8 31.5h.01M178.8 35.1h.01M167.5 35.0h.01M146.0 57.0h.01M172.5 29.5h.01M144.9 63.9h.01M130.6 75.6h.01M161.5 93.5h.01M160.8 33.2h.01M189.2 70.2h.01M165.0 90.7h.01M159.7 50.8h.01M188.7 48.6h.01M137.6 74.8h.01M195.8 22.1h.01M146.6 53.1h.01M195.6 37.3h.01M189.2 42.3h.01M172.8 28.2h.01M153.1 38.7h.01M165.5 88.5h.01M154.6 40.7h.01M130.7 76.6h.01M167.3 34.6h.01M137.6 74.4h.01M162.4 26.1h.01M195.0 57.1h.01M191.5 32.9h.01M154.9 25.6h.01M139.5 30.1h.01M188.4 55.1h.01M133.6 74.9h.01M155.1 34.4h.01" stroke="#f6f6f6" stroke-width="0.9" stroke-linecap="round" fill="none" stroke-opacity="0.85"/>
<path d="M144.1 60.0h.01M183.2 53.1h.01M171.5 34.7h.01M168.7 94.3h.01M154.3 82.8h.01M174.6 24.6h.01M165.9 51.7h.01M181.1 28.6h.01M135.0 77.7h.01M155.3 34.1h.01M183.7 43.7h.01M168.0 50.3h.01M164.7 34.1h.01M142.0 51.4h.01M146.0 59.7h.01M187.2 38.9h.01M198.3 71.9h.01M183.9 67.7h.01M152.3 55.0h.01M155.5 75.3h.01M158.8 28.2h.01M157.9 41.3h.01M177.5 23.6h.01M196.6 39.9h.01M166.6 93.1h.01M158.5 43.1h.01M199.1 75.8h.01M165.8 85.5h.01M175.3 47.5h.01M160.1 75.9h.01M176.1 65.0h.01M176.0 39.2h.01M191.7 45.1h.01M149.1 25.0h.01M156.4 76.9h.01M139.9 37.4h.01M165.3 40.5h.01M188.2 36.7h.01M148.9 24.1h.01M150.8 55.1h.01M196.9 65.3h.01M188.3 25.7h.01M170.0 36.4h.01M195.8 79.5h.01M183.0 33.9h.01M159.2 38.8h.01M189.6 34.9h.01M137.8 78.0h.01M137.5 42.1h.01M143.3 65.1h.01M197.1 39.4h.01M189.4 69.8h.01M152.4 72.3h.01M133.7 75.7h.01M187.1 76.0h.01M177.5 45.2h.01M138.1 71.3h.01M182.8 36.8h.01M190.5 76.7h.01M192.0 76.5h.01M175.7 24.8h.01M150.3 52.3h.01M183.9 70.6h.01M176.0 64.1h.01M163.7 25.0h.01M180.4 47.7h.01M151.3 89.3h.01M149.7 87.2h.01M149.2 56.7h.01M192.4 68.4h.01M184.4 43.0h.01M175.1 45.5h.01M137.9 42.9h.01M153.1 54.0h.01M192.7 62.8h.01M189.0 31.9h.01M197.7 68.0h.01M157.8 33.3h.01M188.1 36.2h.01M153.8 48.9h.01M160.1 36.6h.01M171.3 25.4h.01M167.8 94.2h.01M164.5 33.8h.01M136.4 45.5h.01M175.2 25.1h.01M190.7 40.3h.01M153.2 75.5h.01M147.6 54.7h.01M139.6 41.8h.01" stroke="#f6f6f6" stroke-width="1.3" stroke-linecap="round" fill="none" stroke-opacity="0.85"/>
</g>
<rect x="117.9" y="20" width="14.2" height="14.6" fill="#fff" stroke="none" stroke-width="1"/>
<rect x="208.1" y="20.2" width="80.8" height="80.1" fill="rgb(191,191,191)" stroke="none" stroke-width="1"/>
<rect x="208.1" y="20.2" width="80.8" height="80.1" fill="#888" stroke="none" stroke-width="1" filter="url(#tn3)"/>
<g clip-path="url(#tc3)">
<path d="M241.5 80.0h.01M237.5 50.5h.01M233.9 85.1h.01M244.3 79.8h.01M278.5 61.2h.01M276.3 91.9h.01M232.5 68.6h.01M272.0 88.7h.01M265.5 93.6h.01M277.3 49.2h.01M234.5 28.6h.01M282.3 82.4h.01M235.6 30.5h.01M255.1 38.3h.01M261.5 27.2h.01M257.2 98.8h.01M254.6 76.5h.01M265.0 42.7h.01M259.1 40.1h.01M243.4 31.0h.01M247.1 52.3h.01M221.6 55.3h.01M268.8 42.4h.01M278.3 82.3h.01M223.9 83.2h.01M235.0 21.3h.01M241.7 58.5h.01M248.7 77.7h.01M257.7 66.2h.01M268.3 58.2h.01M240.1 70.2h.01M217.6 82.3h.01M287.9 96.8h.01M238.9 30.8h.01M247.1 60.2h.01M277.5 35.2h.01" stroke="#aaaaaa" stroke-width="2.2" stroke-linecap="round" fill="none" stroke-opacity="0.9"/>
<path d="M255.7 76.2h.01M256.0 87.8h.01M272.5 77.2h.01M267.1 84.6h.01M231.4 73.2h.01M235.3 24.7h.01M220.5 51.2h.01M239.6 77.6h.01M241.1 45.0h.01M247.3 97.5h.01M269.9 73.2h.01M222.2 61.3h.01M218.5 55.4h.01M253.6 25.8h.01M210.1 78.5h.01M247.8 43.7h.01M250.8 80.6h.01M274.0 85.2h.01M247.6 39.0h.01M268.0 30.4h.01M281.8 99.4h.01M237.2 98.9h.01M213.4 87.4h.01M220.9 90.4h.01M230.2 93.4h.01M256.3 67.4h.01M237.3 27.8h.01M238.6 26.1h.01M268.9 63.5h.01M264.0 46.6h.01M221.6 87.9h.01M233.1 69.4h.01" stroke="#aaaaaa" stroke-width="3" stroke-linecap="round" fill="none" stroke-opacity="0.9"/>
<path d="M249.6 20.7h.01M250.6 86.2h.01M285.3 41.7h.01M271.1 54.9h.01M237.7 80.5h.01M214.2 52.7h.01M234.7 27.3h.01M272.1 66.1h.01M272.2 50.4h.01M244.7 87.8h.01M266.1 47.9h.01M259.0 37.3h.01M244.5 58.0h.01M266.5 57.1h.01M262.8 60.1h.01M277.5 90.3h.01M273.1 77.0h.01M274.2 85.3h.01M261.0 96.2h.01M265.2 82.5h.01M258.0 94.0h.01M235.3 48.4h.01M234.3 73.2h.01M255.1 60.3h.01M227.8 50.9h.01M219.7 51.8h.01M254.5 81.2h.01M246.6 55.8h.01M258.6 21.6h.01M210.7 98.9h.01M272.2 80.5h.01M238.0 74.6h.01M269.9 46.9h.01" stroke="#a2a2a2" stroke-width="2.2" stroke-linecap="round" fill="none" stroke-opacity="0.9"/>
<path d="M265.5 34.8h.01M239.6 46.6h.01M241.6 95.9h.01M245.5 48.5h.01M215.2 84.8h.01M266.3 84.4h.01M225.3 72.4h.01M254.9 54.6h.01M229.1 28.8h.01M221.1 99.9h.01M243.6 87.3h.01M237.8 93.3h.01M250.9 70.8h.01M230.9 60.4h.01M243.2 26.5h.01M227.5 27.4h.01M254.8 50.3h.01M250.6 91.4h.01M250.8 90.8h.01M256.3 92.4h.01M234.2 46.7h.01M217.8 52.1h.01M240.2 73.6h.01M260.0 65.7h.01M243.8 85.8h.01M256.8 91.1h.01M254.8 60.1h.01" stroke="#a2a2a2" stroke-width="3" stroke-linecap="round" fill="none" stroke-opacity="0.9"/>
<path d="M260.5 29.9h.01M261.2 89.7h.01M279.6 93.3h.01M242.8 91.2h.01M259.3 77.9h.01M257.5 94.8h.01M240.6 100.3h.01M253.9 31.1h.01M251.0 99.1h.01M262.5 63.1h.01M268.2 87.7h.01M241.3 98.4h.01M235.8 26.0h.01M222.3 92.3h.01M219.4 45.2h.01M227.9 66.2h.01M208.4 96.3h.01M255.4 67.5h.01M254.2 79.2h.01M269.0 33.9h.01M269.4 84.7h.01M244.3 40.1h.01M218.1 54.6h.01M264.5 57.6h.01M213.7 87.8h.01M271.7 83.0h.01M278.0 54.6h.01M220.9 92.2h.01M243.6 63.9h.01M280.6 94.9h.01M258.1 91.0h.01M246.0 82.3h.01M251.0 85.3h.01M258.3 28.7h.01" stroke="#989898" stroke-width="2.2" stroke-linecap="round" fill="none" stroke-opacity="0.9"/>
<path d="M253.1 85.5h.01M242.3 79.0h.01M236.9 84.9h.01M246.1 83.9h.01M248.1 56.6h.01M266.8 42.2h.01M219.9 81.9h.01M266.2 51.2h.01M241.7 55.1h.01M241.1 23.8h.01M237.1 76.9h.01M242.0 33.6h.01M252.4 87.1h.01M252.6 54.9h.01M261.3 82.9h.01M211.9 59.6h.01M209.0 99.5h.01M262.1 56.4h.01M227.1 60.0h.01M263.5 48.2h.01M245.4 32.1h.01M271.7 73.1h.01M244.8 72.3h.01M230.5 93.1h.01M257.1 23.9h.01M237.5 28.9h.01M255.8 35.7h.01M218.2 51.4h.01M229.3 50.1h.01M223.1 67.5h.01M229.0 66.0h.01M255.6 22.0h.01M234.4 87.2h.01M286.4 59.1h.01M273.9 46.2h.01M269.5 46.8h.01M248.7 42.9h.01M254.3 89.2h.01" stroke="#989898" stroke-width="3" stroke-linecap="round" fill="none" stroke-opacity="0.9"/>
<path d="M242.3 81.8h.01M262.6 91.1h.01M251.9 87.7h.01M287.2 42.4h.01M258.6 96.4h.01M235.2 86.6h.01M280.3 62.1h.01M235.9 28.9h.01M237.0 27.6h.01M223.7 93.7h.01M278.8 50.4h.01M220.1 47.1h.01M246.4 58.6h.01M209.8 97.8h.01M273.8 78.8h.01M237.4 31.2h.01M256.7 39.3h.01M259.1 99.5h.01M267.1 83.1h.01M256.0 80.0h.01M266.7 43.8h.01M236.8 49.7h.01M249.0 52.9h.01M223.0 56.7h.01M224.8 85.0h.01M237.0 21.7h.01M242.7 60.2h.01M248.5 56.3h.01M260.5 22.2h.01M215.3 88.9h.01M273.5 83.8h.01M248.8 61.2h.01M278.9 36.6h.01" stroke="#d6d6d6" stroke-width="2.2" stroke-linecap="round" fill="none" stroke-opacity="0.85"/>
<path d="M248.7 84.5h.01M242.5 98.5h.01M222.3 83.2h.01M268.1 53.1h.01M243.7 45.7h.01M242.4 57.8h.01M272.5 74.0h.01M219.0 58.1h.01M254.5 88.8h.01M212.6 62.2h.01M275.1 87.7h.01M223.1 101.8h.01M253.4 71.7h.01M232.9 94.2h.01M238.5 101.3h.01M257.3 37.9h.01M222.1 92.8h.01M230.8 96.0h.01M257.6 94.7h.01M250.5 44.9h.01" stroke="#d6d6d6" stroke-width="3" stroke-linecap="round" fill="none" stroke-opacity="0.85"/>
</g>
<rect x="207.9" y="20" width="19.6" height="18.4" fill="#fff" stroke="none" stroke-width="1"/>
<rect x="27.6" y="109.9" width="80.6" height="80.6" fill="rgb(140,140,140)" stroke="none" stroke-width="1"/>
<rect x="27.6" y="109.9" width="80.6" height="80.6" fill="#888" stroke="none" stroke-width="1" filter="url(#tn4)"/>
<g clip-path="url(#tc4)">
<path d="M70.7 113.5h.01M40.0 175.1h.01M72.9 124.2h.01M57.6 153.1h.01M45.8 132.1h.01M61.8 139.6h.01M98.4 136.1h.01M75.7 162.2h.01M92.1 153.2h.01M50.1 171.3h.01M34.8 141.9h.01M54.1 123.7h.01M47.8 127.2h.01M54.5 139.7h.01M99.9 143.4h.01M71.1 154.6h.01M81.6 163.6h.01M102.8 154.8h.01M81.9 129.0h.01M73.9 173.0h.01M106.2 166.7h.01M56.5 121.0h.01M49.8 163.9h.01M35.0 125.5h.01M76.7 158.0h.01M32.5 123.6h.01M34.7 115.7h.01M82.8 170.7h.01M76.8 147.2h.01M105.8 183.0h.01M65.3 128.4h.01M78.6 136.4h.01M85.1 116.7h.01M41.0 129.5h.01M45.8 113.0h.01M57.3 158.7h.01M72.5 187.2h.01M35.3 119.0h.01M104.7 174.7h.01M40.0 161.5h.01M29.9 140.5h.01M67.1 144.7h.01M99.2 167.1h.01M65.3 177.4h.01M27.9 167.3h.01M88.6 161.1h.01M75.6 153.8h.01M70.1 184.2h.01M100.6 135.2h.01M52.1 179.9h.01M65.5 145.2h.01M105.1 113.7h.01M66.4 129.6h.01M99.7 115.5h.01M86.7 161.2h.01M42.4 170.2h.01M32.4 116.7h.01M59.1 133.4h.01M35.7 159.5h.01M107.8 185.9h.01M98.5 156.9h.01M53.1 159.5h.01M47.9 117.5h.01M85.2 135.5h.01M63.6 121.4h.01M55.5 129.2h.01M93.4 123.1h.01M50.3 113.3h.01M30.7 140.8h.01M97.4 156.8h.01M86.4 170.1h.01M91.5 186.5h.01M60.3 185.1h.01M96.6 190.4h.01M103.4 110.7h.01M53.8 134.8h.01M81.0 147.3h.01M76.0 186.6h.01M63.7 118.7h.01M51.8 189.1h.01M34.4 130.8h.01M34.3 133.3h.01M98.7 137.3h.01M51.3 155.5h.01M77.2 172.7h.01M50.6 117.8h.01M64.6 144.9h.01M37.9 189.7h.01M53.9 166.6h.01M88.1 180.7h.01M89.5 174.3h.01M75.8 140.5h.01M77.7 173.0h.01M54.8 159.2h.01M88.3 181.1h.01M59.6 120.9h.01M33.8 154.7h.01M61.6 121.7h.01M47.0 180.1h.01M31.0 166.4h.01M28.2 180.5h.01M42.2 146.0h.01M86.3 129.6h.01M32.4 127.9h.01M48.1 156.0h.01M36.8 190.0h.01M94.2 165.7h.01M40.8 136.6h.01M88.0 134.1h.01M72.0 132.7h.01M59.9 155.9h.01M84.0 158.5h.01M34.0 165.1h.01M102.8 179.5h.01M42.2 168.4h.01M37.3 115.7h.01M69.9 120.2h.01M99.6 136.7h.01M98.6 175.6h.01M99.8 168.5h.01M106.8 142.0h.01M60.8 114.2h.01M34.7 147.8h.01M97.5 189.8h.01M49.8 115.1h.01M35.4 121.6h.01M61.4 139.5h.01M93.5 144.6h.01M102.6 152.3h.01M93.8 112.6h.01M84.2 159.7h.01M60.3 123.4h.01M59.2 162.7h.01M107.1 130.1h.01M28.5 162.1h.01M64.4 111.5h.01M95.6 122.5h.01M62.4 131.4h.01M93.5 119.0h.01M31.0 134.6h.01M47.9 147.7h.01M28.9 131.9h.01M63.7 146.4h.01M100.5 175.5h.01M71.6 160.5h.01M82.0 138.5h.01M68.6 110.9h.01M91.5 121.7h.01M36.5 164.1h.01M29.1 146.7h.01M79.6 163.0h.01M83.4 188.1h.01M64.4 130.9h.01M58.2 145.7h.01M82.8 172.2h.01M94.4 182.5h.01M55.0 118.7h.01M36.8 162.7h.01M76.1 183.8h.01M85.1 147.1h.01M30.8 181.8h.01M40.1 122.7h.01M78.5 170.3h.01M41.1 143.4h.01M101.5 127.7h.01M29.1 153.9h.01M44.6 173.4h.01M87.9 156.8h.01M84.3 144.4h.01M47.7 133.0h.01M68.1 158.2h.01M42.5 139.3h.01M97.9 124.0h.01M101.8 122.0h.01M41.7 143.9h.01M80.9 162.6h.01M50.6 116.1h.01M46.7 177.8h.01M70.9 137.2h.01M71.1 169.4h.01M55.2 116.7h.01M96.4 130.1h.01M44.2 129.6h.01M95.0 160.3h.01M30.8 181.3h.01M90.3 136.9h.01M46.0 114.8h.01M47.8 137.1h.01M48.7 187.0h.01M94.4 153.9h.01M69.0 134.6h.01M45.7 130.7h.01M86.0 183.4h.01M39.9 163.9h.01M85.3 160.6h.01M105.6 113.4h.01M31.3 184.2h.01M103.1 147.3h.01M34.4 161.6h.01M82.6 148.0h.01M75.8 174.0h.01M91.2 115.8h.01M102.7 125.0h.01M108.0 134.3h.01M49.0 144.3h.01M33.4 130.4h.01M49.9 168.3h.01M56.4 164.6h.01M80.8 142.6h.01M97.4 146.6h.01M46.8 112.5h.01M79.3 121.4h.01M58.3 186.1h.01M57.6 160.5h.01M93.9 160.8h.01M62.6 175.4h.01M41.7 177.0h.01M33.1 149.3h.01M70.7 160.7h.01M46.3 172.0h.01M70.0 124.1h.01M57.3 123.1h.01M91.6 131.7h.01M44.0 175.7h.01M33.3 144.6h.01M70.5 112.7h.01M79.3 171.4h.01M69.7 187.1h.01M41.8 171.8h.01M70.8 169.6h.01M58.2 162.4h.01M69.4 168.0h.01M74.2 174.8h.01M79.8 161.4h.01M88.4 180.8h.01M34.7 112.7h.01M54.7 187.9h.01M62.1 178.6h.01M101.4 139.7h.01M55.7 115.4h.01M75.9 125.7h.01M56.9 143.3h.01M77.1 126.7h.01M38.8 112.9h.01M98.9 152.1h.01M90.4 120.5h.01M34.5 114.6h.01M29.6 127.0h.01M54.7 161.8h.01M85.6 126.1h.01M54.2 116.0h.01M96.4 137.6h.01M46.9 182.0h.01M60.1 140.6h.01M45.2 131.0h.01M28.2 188.2h.01M86.2 189.8h.01M97.6 122.0h.01M32.0 132.6h.01M54.3 143.5h.01M41.5 112.4h.01M41.0 149.4h.01M36.3 179.7h.01M47.4 180.4h.01M79.4 189.0h.01M73.8 142.2h.01M57.3 176.3h.01M80.3 186.3h.01M56.4 116.6h.01M78.2 138.4h.01M104.5 160.2h.01M57.1 182.8h.01M54.3 125.4h.01M33.5 113.2h.01M67.0 149.0h.01M48.1 180.5h.01M29.8 156.4h.01M74.1 168.5h.01M42.3 189.0h.01M58.2 158.2h.01M75.1 153.5h.01M36.6 190.1h.01M66.6 148.0h.01M47.0 173.1h.01M35.4 146.1h.01M51.3 110.0h.01M53.1 147.4h.01M67.6 116.1h.01M97.5 132.6h.01M104.9 144.6h.01M36.0 182.8h.01M62.4 151.8h.01M54.1 122.0h.01M46.2 189.0h.01M31.0 144.3h.01M65.1 155.1h.01M83.1 135.8h.01M45.3 109.9h.01M57.4 121.4h.01M42.5 118.0h.01M75.0 132.3h.01M46.7 150.1h.01M58.0 161.8h.01M79.6 110.8h.01M37.7 166.6h.01M44.0 169.3h.01M46.8 119.4h.01M43.5 131.5h.01M85.4 115.6h.01M81.2 178.6h.01M39.5 151.2h.01M34.7 158.9h.01M90.6 165.0h.01M64.7 147.6h.01M35.8 124.4h.01M59.3 152.7h.01M105.6 166.0h.01M106.6 173.8h.01M48.8 113.5h.01M40.2 179.7h.01M38.4 162.2h.01M60.9 178.1h.01M95.2 182.5h.01M94.4 139.6h.01M100.7 134.5h.01M46.5 178.7h.01M36.9 143.1h.01M94.0 124.5h.01M32.3 130.4h.01M56.6 166.7h.01" stroke="#4a4a4a" stroke-width="0.7" stroke-linecap="round" fill="none" stroke-opacity="0.9"/>
<path d="M65.1 120.7h.01M99.5 130.6h.01M44.0 129.0h.01M43.5 162.0h.01M58.1 139.2h.01M56.0 137.1h.01M82.3 171.8h.01M79.7 127.2h.01M75.4 162.7h.01M61.2 186.1h.01M83.2 188.7h.01M99.1 178.1h.01M60.6 171.4h.01M103.2 121.5h.01M36.6 173.4h.01M69.6 165.7h.01M75.1 118.6h.01M100.9 133.2h.01M66.4 131.7h.01M99.5 130.1h.01M93.3 184.5h.01M32.8 156.2h.01M32.3 120.2h.01M97.5 112.7h.01M87.3 133.0h.01M54.5 156.2h.01M82.2 184.3h.01M102.3 145.7h.01M44.6 143.6h.01M76.9 128.1h.01M104.1 128.7h.01M61.2 120.7h.01M36.1 167.8h.01M98.0 148.1h.01M68.8 173.3h.01M29.0 153.7h.01M45.3 178.4h.01M45.1 155.7h.01M79.3 186.1h.01M60.3 186.1h.01M99.0 131.7h.01M29.6 171.5h.01M101.8 163.0h.01M76.2 185.8h.01M64.4 156.4h.01M57.3 160.0h.01M60.2 123.7h.01M77.7 180.6h.01M79.6 179.5h.01M107.2 151.0h.01M69.4 158.5h.01M31.5 110.3h.01M73.1 169.7h.01M106.6 132.6h.01M80.8 162.6h.01M89.4 186.7h.01M43.4 167.0h.01M42.1 172.1h.01M62.4 112.7h.01M83.5 165.0h.01M33.1 190.3h.01M99.0 181.4h.01M84.6 179.5h.01M93.3 151.1h.01M66.6 189.6h.01M84.1 155.3h.01M104.0 147.5h.01M54.2 142.2h.01M91.5 175.0h.01M107.3 137.9h.01M40.5 166.0h.01M28.8 122.4h.01M78.6 163.6h.01M78.5 137.0h.01M65.4 186.0h.01M106.8 170.7h.01M98.8 132.0h.01M102.0 124.4h.01M103.7 124.7h.01M43.7 147.0h.01M81.4 116.2h.01M94.6 130.9h.01M72.0 178.2h.01M50.9 125.3h.01M37.2 135.6h.01M57.1 131.6h.01M34.9 181.2h.01M80.3 177.8h.01M100.7 126.9h.01M88.5 149.1h.01M57.3 173.3h.01M51.8 153.0h.01M104.1 120.6h.01M104.0 149.9h.01M34.9 139.5h.01M82.9 180.8h.01M89.1 159.0h.01M39.7 151.6h.01M32.0 127.8h.01M84.6 127.2h.01M64.7 133.5h.01M82.0 182.7h.01M44.8 157.9h.01M46.9 137.7h.01M65.3 185.3h.01M51.1 155.0h.01M35.2 154.5h.01M65.2 123.0h.01M38.5 190.0h.01M48.5 125.4h.01M39.0 116.7h.01M48.5 130.4h.01M67.2 164.4h.01M38.0 136.6h.01M54.4 126.6h.01M44.0 132.4h.01M107.2 118.3h.01M82.8 152.7h.01M47.0 182.0h.01M53.3 156.5h.01M61.3 144.7h.01M75.3 144.7h.01M58.9 157.5h.01M84.0 189.8h.01M60.8 122.3h.01M98.8 137.0h.01M80.2 187.8h.01M81.8 148.1h.01M74.7 130.4h.01M96.1 123.8h.01M61.9 149.5h.01M67.8 186.9h.01M86.5 160.7h.01M102.5 128.4h.01M69.2 124.4h.01M105.5 188.0h.01M75.7 166.9h.01M87.6 113.1h.01M60.4 177.0h.01M79.9 114.8h.01M97.6 144.5h.01M29.1 172.6h.01M72.6 132.3h.01M30.2 187.0h.01M75.5 137.8h.01M37.5 113.5h.01M67.3 148.8h.01M64.7 151.7h.01M61.8 182.0h.01M70.6 177.9h.01M95.1 183.6h.01M81.8 134.7h.01M56.0 126.7h.01M58.0 185.6h.01M32.6 128.8h.01M76.3 119.6h.01M51.2 186.8h.01M91.0 155.4h.01M78.5 167.7h.01M98.3 112.0h.01M79.3 149.6h.01M95.1 133.4h.01M67.3 152.1h.01M86.7 117.7h.01M33.0 111.9h.01M65.0 119.5h.01M32.4 183.7h.01M67.5 181.9h.01M101.7 139.2h.01M65.3 144.1h.01M62.0 157.9h.01M80.0 147.2h.01M95.6 158.6h.01M76.7 168.7h.01M42.6 189.4h.01M78.9 156.9h.01M88.4 112.0h.01M65.4 149.8h.01M30.9 167.9h.01M70.7 119.2h.01M80.2 116.2h.01M69.0 170.6h.01M52.9 145.5h.01M76.8 169.5h.01M79.9 156.8h.01M71.1 144.8h.01M56.3 181.2h.01M64.7 167.5h.01M103.7 184.6h.01M61.0 121.5h.01M62.3 186.3h.01M56.0 132.3h.01M90.2 190.1h.01M97.4 190.1h.01M102.1 119.3h.01M102.4 129.8h.01M61.7 110.8h.01M82.6 154.4h.01M43.5 146.4h.01M28.6 177.7h.01M96.6 141.1h.01M83.7 118.4h.01M72.1 183.1h.01M33.4 177.3h.01M34.5 167.1h.01M69.6 135.9h.01M101.3 171.2h.01M102.5 130.8h.01M89.3 116.1h.01M61.1 182.0h.01M49.2 144.3h.01M42.8 183.0h.01M80.8 176.4h.01M48.0 133.8h.01M85.0 179.1h.01M76.8 190.0h.01M98.2 181.1h.01M80.3 184.0h.01M65.9 112.4h.01M98.5 135.8h.01M95.7 173.9h.01M89.1 167.8h.01M60.7 160.7h.01M65.1 130.4h.01M39.8 149.4h.01M73.3 164.8h.01M81.7 163.5h.01M74.3 190.0h.01M28.4 133.8h.01M46.3 186.1h.01M64.7 180.2h.01M82.7 172.4h.01M60.4 134.8h.01M46.2 149.3h.01M82.1 129.9h.01M88.5 141.0h.01M107.7 149.7h.01M105.4 162.9h.01M61.5 153.1h.01M38.2 118.6h.01M38.0 180.6h.01M71.9 128.4h.01M50.1 168.6h.01M36.2 173.4h.01M51.0 128.1h.01M89.9 179.2h.01M103.4 141.8h.01M53.2 160.4h.01M41.4 154.5h.01M75.9 131.0h.01M45.2 156.9h.01M97.2 167.0h.01M67.2 180.5h.01M94.6 169.0h.01M83.7 124.1h.01M37.7 126.2h.01M86.5 168.9h.01M76.5 154.6h.01M98.5 125.1h.01M79.4 155.9h.01M30.5 129.2h.01M79.8 184.4h.01M83.4 162.0h.01M75.4 128.2h.01M41.1 174.4h.01M100.8 176.0h.01M57.1 171.6h.01M30.2 173.1h.01M59.0 154.5h.01M67.6 113.9h.01M61.2 127.3h.01M105.2 142.9h.01M69.9 126.0h.01M50.3 133.0h.01M61.6 149.5h.01M100.8 110.7h.01M42.4 156.7h.01M30.6 140.6h.01M65.8 135.0h.01M78.7 179.3h.01M63.6 163.8h.01M73.6 163.5h.01M27.7 172.9h.01M105.9 146.5h.01M51.9 135.5h.01M60.8 136.0h.01M81.5 136.0h.01M89.4 158.2h.01M63.1 177.7h.01M29.4 147.7h.01M38.2 181.3h.01M85.6 132.7h.01M35.2 159.6h.01M28.0 174.0h.01M86.6 189.2h.01M62.8 127.5h.01M57.0 122.9h.01M58.8 161.8h.01M38.2 158.3h.01M60.7 167.0h.01M80.9 156.8h.01M78.4 172.5h.01M28.6 184.2h.01M96.0 121.6h.01" stroke="#4a4a4a" stroke-width="1" stroke-linecap="round" fill="none" stroke-opacity="0.9"/>
<path d="M63.7 146.5h.01M88.4 158.4h.01M53.6 130.3h.01M55.4 149.1h.01M77.4 156.9h.01M41.7 177.4h.01M71.7 128.2h.01M28.1 175.4h.01M59.7 190.1h.01M51.8 116.9h.01M105.9 146.1h.01M37.7 119.0h.01M45.8 133.7h.01M102.6 148.9h.01M50.5 174.8h.01M81.2 156.6h.01M34.7 136.1h.01M64.7 149.3h.01M56.0 189.1h.01M46.9 148.9h.01M47.9 124.6h.01M70.6 123.0h.01M90.5 170.3h.01M93.6 157.0h.01M82.2 118.0h.01M77.5 128.1h.01M103.5 168.7h.01M74.4 169.7h.01M91.4 155.0h.01M43.3 130.3h.01M39.0 113.4h.01M107.8 126.3h.01M66.5 132.4h.01M37.0 118.9h.01M57.7 118.8h.01M90.2 141.9h.01M94.6 171.0h.01M85.5 110.4h.01M62.8 115.1h.01M34.6 122.4h.01M62.0 172.5h.01M64.3 148.0h.01M107.4 133.7h.01M88.9 172.7h.01M99.4 163.3h.01M96.7 177.5h.01M33.7 139.4h.01M46.1 161.9h.01M29.4 127.0h.01M98.8 137.6h.01M78.7 117.2h.01M41.5 175.9h.01M75.0 188.6h.01M37.5 159.3h.01M55.6 157.4h.01M32.7 145.0h.01M82.0 144.8h.01M92.2 161.5h.01M63.0 124.8h.01M33.8 130.6h.01M78.7 172.1h.01M63.0 149.2h.01M48.4 141.4h.01M103.3 170.7h.01M60.1 133.8h.01M58.0 110.1h.01M66.9 124.8h.01M29.8 129.0h.01M53.4 169.3h.01M76.5 130.5h.01M73.0 140.8h.01M81.4 120.4h.01M32.5 139.4h.01M103.4 115.2h.01M56.6 174.6h.01M88.2 169.7h.01M66.5 143.9h.01M92.2 118.9h.01M27.6 142.7h.01M102.2 111.0h.01M102.4 164.0h.01M96.3 139.9h.01M85.0 174.8h.01M54.2 157.2h.01M59.2 182.8h.01M89.6 164.8h.01M76.2 128.8h.01M48.1 154.7h.01M48.6 120.3h.01M60.7 184.3h.01M69.9 158.2h.01M43.7 184.2h.01M53.1 151.9h.01M88.6 187.2h.01M63.3 132.3h.01M55.4 172.7h.01M57.3 149.7h.01M94.5 113.5h.01M76.9 162.6h.01M92.0 187.2h.01M60.4 119.7h.01M45.9 144.0h.01M54.1 121.3h.01M87.3 188.4h.01M29.9 188.3h.01M101.0 115.7h.01M53.2 140.9h.01M85.8 127.7h.01M36.6 163.6h.01M33.8 126.8h.01M85.8 133.4h.01M89.1 188.5h.01M82.4 173.3h.01M76.1 169.6h.01M84.7 164.3h.01M44.2 148.6h.01M80.7 164.0h.01M86.2 141.5h.01M42.2 175.4h.01M97.6 127.1h.01M47.0 161.9h.01M35.0 129.4h.01M70.1 185.6h.01M104.1 137.1h.01M93.3 130.1h.01M35.6 183.4h.01M75.5 144.2h.01M104.7 124.3h.01M65.3 186.4h.01M82.2 138.9h.01M91.9 140.7h.01M45.1 153.0h.01M95.1 137.3h.01M105.4 153.8h.01M50.8 154.5h.01M96.0 171.2h.01M46.5 179.7h.01M98.1 168.7h.01M108.0 176.9h.01M48.9 187.7h.01M37.9 132.4h.01M43.4 123.1h.01M60.1 122.6h.01M82.0 146.3h.01M91.7 143.6h.01M89.9 185.6h.01M46.2 163.2h.01M49.2 118.1h.01M51.8 152.3h.01M84.7 175.7h.01M43.2 148.1h.01M96.9 139.2h.01M105.4 144.6h.01M41.6 119.1h.01M94.7 177.3h.01M90.9 116.1h.01M78.5 186.3h.01M106.5 156.0h.01M35.3 163.5h.01M51.3 139.8h.01M37.8 176.3h.01M53.0 133.5h.01M107.7 161.0h.01M56.6 136.1h.01M42.4 183.7h.01M93.2 182.0h.01M42.1 141.6h.01M34.7 176.4h.01M83.1 136.8h.01M54.6 157.0h.01M76.8 186.7h.01M76.1 181.0h.01M36.1 163.1h.01M73.8 130.7h.01M67.1 124.3h.01M40.6 175.2h.01M62.2 138.0h.01M97.5 160.1h.01M84.0 167.5h.01M79.0 176.4h.01M96.6 170.8h.01M79.9 139.0h.01M40.0 153.9h.01M96.8 166.8h.01M105.9 117.3h.01M81.3 170.8h.01M86.1 189.1h.01M92.9 110.8h.01M75.3 173.8h.01M52.4 186.0h.01M59.9 184.9h.01M32.4 124.6h.01M78.2 171.9h.01M81.3 112.5h.01M32.1 112.5h.01M49.2 159.0h.01M69.9 146.3h.01M102.1 124.2h.01M72.0 141.5h.01M41.3 115.9h.01M46.7 178.9h.01M71.4 126.5h.01M41.7 130.0h.01M52.0 133.5h.01M37.1 167.9h.01M37.1 187.1h.01M62.8 131.1h.01M39.7 140.0h.01M102.5 133.1h.01M94.9 164.0h.01M37.2 159.5h.01M74.2 112.4h.01M28.7 152.2h.01M85.0 186.7h.01M49.8 164.2h.01M84.5 139.6h.01M59.2 125.0h.01M41.4 177.2h.01M91.2 113.3h.01M44.5 181.7h.01M52.2 136.8h.01M104.5 160.8h.01M47.4 139.4h.01M87.5 176.3h.01M99.6 158.2h.01M79.9 140.8h.01M74.5 125.0h.01M102.8 179.1h.01M62.1 141.7h.01M53.2 169.0h.01M75.8 120.5h.01M106.7 146.6h.01M70.8 113.3h.01M75.6 116.4h.01M72.0 187.0h.01M50.2 140.2h.01M98.1 174.6h.01M101.8 186.4h.01M67.3 138.5h.01M84.1 144.3h.01M59.1 186.2h.01M75.8 179.5h.01M83.2 145.1h.01M75.0 128.8h.01M68.6 166.7h.01M106.9 125.0h.01M40.0 159.8h.01M37.2 161.0h.01M45.8 172.9h.01M70.6 125.2h.01M100.6 126.4h.01M30.2 137.1h.01M65.1 170.7h.01M41.8 181.1h.01M76.4 113.5h.01M101.0 160.8h.01M106.1 165.7h.01M98.6 144.2h.01M95.0 144.1h.01M105.2 159.0h.01M33.0 156.6h.01M103.1 169.7h.01M106.1 124.1h.01M59.2 122.4h.01M73.6 159.5h.01M59.8 170.4h.01M74.7 126.5h.01M72.0 151.9h.01M41.9 119.6h.01M54.4 125.4h.01M68.4 145.1h.01M85.6 124.7h.01M53.6 157.4h.01M54.4 142.4h.01M78.0 128.5h.01M31.6 179.1h.01M69.4 181.9h.01M40.2 147.0h.01M99.3 145.3h.01M70.2 115.8h.01M67.2 161.6h.01M64.6 163.6h.01M49.8 164.5h.01M105.7 122.8h.01M66.7 113.1h.01M94.9 137.9h.01M39.2 117.0h.01M96.4 157.6h.01M28.4 155.8h.01M95.6 173.1h.01M52.3 120.6h.01M44.7 170.8h.01M81.3 161.5h.01M46.2 162.4h.01M42.8 156.2h.01M91.5 183.7h.01M56.4 146.8h.01M104.6 179.0h.01M71.5 155.0h.01M77.4 124.6h.01M32.6 123.3h.01M55.1 112.7h.01M81.6 144.9h.01M92.9 161.2h.01M32.2 121.9h.01M92.6 146.4h.01M31.6 185.6h.01M95.1 112.3h.01M77.0 166.8h.01M77.9 158.1h.01M67.0 114.3h.01M98.0 168.1h.01M66.8 121.7h.01M61.7 145.8h.01M51.0 180.5h.01M67.0 149.5h.01M92.6 183.4h.01M88.4 187.6h.01M61.7 138.4h.01M32.6 187.9h.01M69.2 185.5h.01M62.0 172.9h.01M64.6 141.7h.01M92.6 139.8h.01M85.8 157.2h.01M79.7 166.3h.01M81.3 129.4h.01M65.6 111.5h.01M99.9 186.1h.01M99.3 175.5h.01M77.4 157.6h.01M44.2 110.3h.01M67.7 161.3h.01M105.2 128.9h.01M41.0 116.3h.01M67.4 156.8h.01M88.6 124.6h.01M39.1 187.2h.01M82.1 115.3h.01M72.2 125.6h.01M49.0 113.7h.01M53.0 131.7h.01M75.5 181.2h.01M59.7 116.6h.01M54.1 141.3h.01M107.4 154.8h.01M45.6 132.1h.01M75.1 178.1h.01M55.0 120.3h.01M29.3 114.8h.01M80.1 118.5h.01M76.9 168.3h.01" stroke="#606060" stroke-width="0.7" stroke-linecap="round" fill="none" stroke-opacity="0.9"/>
<path d="M71.9 174.0h.01M35.1 134.5h.01M32.9 115.5h.01M84.8 132.0h.01M90.4 179.8h.01M53.7 114.3h.01M58.2 116.7h.01M86.9 141.4h.01M89.2 162.2h.01M103.6 155.9h.01M39.0 144.5h.01M59.9 127.6h.01M92.9 182.7h.01M82.1 155.2h.01M78.0 137.6h.01M98.7 117.2h.01M62.6 137.8h.01M48.6 167.3h.01M31.2 139.4h.01M59.2 188.2h.01M86.0 186.1h.01M69.5 154.1h.01M41.1 123.8h.01M73.5 178.7h.01M56.9 179.5h.01M54.2 117.8h.01M38.3 122.4h.01M31.6 129.4h.01M87.9 126.2h.01M106.2 165.5h.01M100.9 112.4h.01M108.1 137.1h.01M90.8 175.6h.01M91.6 148.1h.01M98.7 120.3h.01M93.6 154.9h.01M107.2 125.6h.01M74.7 155.4h.01M57.3 180.1h.01M59.9 159.5h.01M30.1 178.0h.01M88.5 173.7h.01M80.1 150.0h.01M98.5 179.0h.01M57.7 167.4h.01M93.6 126.4h.01M51.1 118.9h.01M72.5 178.4h.01M30.2 170.9h.01M71.5 116.2h.01M36.0 158.7h.01M76.7 114.5h.01M93.0 156.9h.01M86.3 171.3h.01M53.9 110.4h.01M86.4 177.0h.01M58.1 116.9h.01M80.7 163.6h.01M98.4 126.5h.01M83.5 163.8h.01M97.9 132.2h.01M53.7 143.6h.01M43.4 153.1h.01M69.5 110.1h.01M99.4 152.9h.01M45.3 132.1h.01M68.8 131.7h.01M94.6 152.5h.01M54.0 144.1h.01M69.6 170.0h.01M97.0 173.3h.01M63.7 111.8h.01M77.6 121.9h.01M49.0 187.0h.01M79.1 183.9h.01M100.5 171.8h.01M37.1 161.6h.01M44.6 185.1h.01M66.8 161.8h.01M76.0 128.9h.01M77.1 118.7h.01M84.6 145.6h.01M41.1 179.6h.01M68.5 151.6h.01M105.5 136.5h.01M59.6 148.7h.01M52.6 176.5h.01M30.1 170.9h.01M91.9 148.1h.01M74.3 132.9h.01M55.2 137.9h.01M89.6 155.8h.01M108.2 125.9h.01M94.7 174.9h.01M102.8 184.3h.01M47.1 149.9h.01M58.9 145.7h.01M73.1 183.4h.01M78.6 111.1h.01M53.0 146.3h.01M36.2 152.9h.01M53.6 146.5h.01M84.8 155.1h.01M69.0 128.6h.01M107.4 164.4h.01M57.9 133.5h.01M75.6 184.4h.01M28.1 119.6h.01M69.6 133.5h.01M28.3 180.1h.01M89.7 146.2h.01M30.3 119.4h.01M96.6 125.6h.01M34.1 135.7h.01M108.0 162.2h.01M56.6 143.3h.01M104.9 127.6h.01M41.3 159.2h.01M63.4 147.1h.01M96.5 145.2h.01M78.7 124.0h.01M76.6 183.7h.01M56.1 140.4h.01M35.8 152.7h.01M54.8 137.8h.01M55.8 168.9h.01M97.4 165.6h.01M64.4 145.4h.01M39.4 111.1h.01M79.2 131.4h.01M58.9 126.5h.01M65.3 134.8h.01M86.8 177.6h.01M70.0 182.6h.01M53.5 118.4h.01M58.4 120.8h.01M70.8 173.2h.01M54.6 187.4h.01M68.6 114.0h.01M65.5 172.7h.01M48.1 185.2h.01M78.3 176.7h.01M84.0 136.9h.01M86.6 152.4h.01M73.3 155.5h.01M87.6 148.0h.01M41.6 174.5h.01M67.8 187.7h.01M99.5 141.5h.01M65.6 128.5h.01M46.1 137.3h.01M103.1 134.5h.01M62.9 146.9h.01M61.8 168.4h.01M42.0 129.9h.01M79.9 182.4h.01M87.4 133.4h.01M57.0 186.0h.01M45.3 141.2h.01M27.7 176.1h.01M29.1 189.3h.01M33.9 171.3h.01M72.6 110.9h.01M32.3 143.8h.01M83.1 170.4h.01M93.8 114.3h.01M30.8 154.0h.01M57.7 113.5h.01M89.7 168.2h.01M55.7 129.1h.01M42.8 165.5h.01M80.9 188.9h.01M73.1 187.1h.01M65.8 120.7h.01M54.0 151.1h.01M28.4 146.2h.01M56.9 123.1h.01M95.3 156.8h.01M88.9 189.6h.01M30.2 162.5h.01M87.9 167.9h.01M28.8 111.7h.01M74.4 126.9h.01M95.9 151.1h.01M71.9 124.1h.01M44.0 170.8h.01M30.7 115.4h.01M60.1 115.6h.01M48.1 189.7h.01M58.8 141.3h.01M50.2 115.1h.01M40.1 154.6h.01M75.4 133.7h.01M47.7 189.9h.01M89.0 179.3h.01M48.7 174.4h.01M88.1 127.4h.01M79.9 178.2h.01M94.6 139.8h.01M71.3 137.1h.01M60.8 169.6h.01M86.0 142.6h.01M71.0 113.1h.01M88.2 148.5h.01M89.3 186.0h.01M69.5 177.2h.01M66.2 169.2h.01M67.8 133.6h.01M95.6 127.2h.01M67.4 114.2h.01M39.5 156.2h.01M28.4 127.7h.01M60.5 128.0h.01M46.5 179.9h.01M97.0 148.5h.01M57.9 126.0h.01M53.0 150.8h.01M33.5 172.8h.01M35.2 128.8h.01M71.0 164.5h.01M36.2 140.1h.01M63.8 160.0h.01M62.4 154.5h.01M60.6 122.3h.01M39.0 134.3h.01M84.4 172.0h.01M73.6 132.2h.01M76.4 143.6h.01M53.6 118.9h.01M88.1 168.8h.01M28.2 144.7h.01M100.9 135.3h.01M88.7 121.6h.01M98.0 172.2h.01M74.2 148.0h.01M29.3 153.1h.01M61.5 144.1h.01M72.6 189.1h.01M95.4 166.4h.01M68.5 176.2h.01M68.9 171.2h.01M66.9 116.1h.01M62.0 162.1h.01M100.7 117.5h.01M56.0 183.1h.01M61.7 133.7h.01M55.6 133.5h.01M85.3 151.9h.01M49.7 120.6h.01M60.3 167.5h.01M102.2 151.4h.01M92.9 172.6h.01M71.1 171.2h.01M84.9 141.8h.01M87.5 136.9h.01M40.4 135.7h.01M47.3 169.3h.01M72.2 134.6h.01M44.2 132.5h.01M66.9 164.7h.01M83.1 171.9h.01M38.7 119.6h.01M86.2 148.7h.01M46.8 162.5h.01M78.0 184.5h.01M98.0 172.4h.01M41.9 120.2h.01M98.7 139.4h.01M73.7 155.0h.01M75.0 155.5h.01M78.9 173.0h.01M79.1 139.1h.01M95.9 117.3h.01M34.7 142.3h.01M83.9 187.3h.01M50.0 134.9h.01M98.5 165.7h.01M67.8 161.8h.01M81.0 151.1h.01M37.7 125.0h.01M71.2 150.0h.01M43.0 167.7h.01M83.7 172.9h.01M105.7 168.0h.01M58.3 110.7h.01M28.7 173.2h.01M33.5 158.4h.01M47.5 111.0h.01M53.4 123.8h.01M52.4 147.8h.01M64.1 167.9h.01M73.2 169.5h.01M59.6 146.2h.01M102.8 125.0h.01M100.0 127.6h.01M68.4 183.7h.01M97.5 142.8h.01M72.7 154.5h.01M29.6 148.5h.01M89.9 139.0h.01M101.2 111.4h.01M69.5 157.1h.01M91.9 179.2h.01M75.0 135.9h.01M52.3 172.5h.01M49.9 135.3h.01M75.3 159.8h.01M61.5 181.1h.01M77.5 167.1h.01M76.8 146.7h.01M43.6 156.7h.01M104.6 120.2h.01M102.7 130.6h.01M63.7 112.3h.01" stroke="#606060" stroke-width="1" stroke-linecap="round" fill="none" stroke-opacity="0.9"/>
<path d="M64.2 146.9h.01M88.9 158.8h.01M54.0 130.8h.01M77.9 157.3h.01M41.8 178.0h.01M72.3 128.4h.01M73.5 124.4h.01M57.8 153.7h.01M46.2 132.6h.01M52.3 117.2h.01M106.5 146.3h.01M38.0 119.6h.01M46.0 134.3h.01M35.2 142.3h.01M54.4 124.3h.01M47.5 149.2h.01M48.2 125.2h.01M71.1 123.4h.01M100.4 143.7h.01M74.1 173.6h.01M90.9 170.8h.01M82.6 118.5h.01M78.1 128.4h.01M74.7 170.2h.01M108.0 126.9h.01M67.0 132.8h.01M57.0 121.3h.01M50.1 164.4h.01M35.3 126.1h.01M32.8 124.2h.01M34.9 116.3h.01M35.2 122.7h.01M64.5 148.6h.01M106.2 183.4h.01M108.0 133.9h.01M100.0 163.7h.01M57.7 159.1h.01M73.1 187.5h.01M35.8 119.4h.01M99.4 137.7h.01M105.2 175.1h.01M42.0 176.4h.01M30.5 140.8h.01M37.9 159.8h.01M33.2 145.3h.01M82.4 145.3h.01M70.6 184.6h.01M79.2 172.5h.01M48.9 141.8h.01M30.1 129.6h.01M54.0 169.5h.01M66.1 145.3h.01M105.3 114.2h.01M56.8 175.2h.01M88.6 170.2h.01M99.0 157.2h.01M48.1 118.1h.01M102.9 164.2h.01M59.7 183.3h.01M93.7 123.6h.01M31.0 141.4h.01M97.5 157.5h.01M76.3 129.4h.01M60.8 185.4h.01M96.9 190.9h.01M103.8 111.2h.01M81.2 147.9h.01M70.2 158.7h.01M89.2 187.5h.01M92.5 187.5h.01M60.9 119.9h.01M54.4 121.9h.01M87.6 188.9h.01M34.1 127.3h.01M38.1 190.3h.01M76.2 170.3h.01M89.9 174.8h.01M86.8 141.8h.01M35.5 129.7h.01M70.3 186.2h.01M59.8 121.5h.01M75.6 144.8h.01M105.3 124.5h.01M62.0 122.2h.01M47.4 180.6h.01M92.6 140.9h.01M45.5 153.4h.01M86.5 130.2h.01M41.0 137.2h.01M88.3 134.6h.01M46.8 180.3h.01M84.5 158.7h.01M103.3 179.8h.01M42.7 168.9h.01M108.5 177.3h.01M92.2 144.1h.01M46.8 163.4h.01M100.4 168.6h.01M61.3 114.5h.01M43.6 148.6h.01M61.7 140.0h.01M106.0 145.0h.01M93.9 145.1h.01M95.0 177.9h.01M79.0 186.8h.01M59.8 163.0h.01M51.8 140.2h.01M64.7 112.1h.01M62.8 131.9h.01M108.0 161.6h.01M57.2 136.4h.01M42.9 184.1h.01M93.6 182.5h.01M48.1 148.3h.01M29.1 132.5h.01M42.2 142.2h.01M100.8 176.1h.01M83.6 137.1h.01M36.7 164.7h.01M80.2 163.1h.01M83.9 188.5h.01M64.6 131.5h.01M83.2 172.7h.01M74.3 131.0h.01M94.9 182.8h.01M62.4 138.5h.01M98.1 160.3h.01M106.3 117.7h.01M81.9 171.0h.01M86.7 189.4h.01M41.6 143.8h.01M101.8 128.2h.01M29.5 154.4h.01M44.8 174.0h.01M78.5 172.4h.01M81.8 112.8h.01M47.8 133.6h.01M68.6 158.5h.01M49.8 159.1h.01M102.4 124.8h.01M81.5 162.8h.01M46.9 179.5h.01M52.2 134.1h.01M37.6 168.3h.01M40.0 140.5h.01M31.0 181.9h.01M49.3 187.2h.01M95.5 164.2h.01M29.0 152.8h.01M46.3 130.9h.01M85.3 187.2h.01M84.9 140.0h.01M86.6 183.7h.01M42.0 177.5h.01M105.9 114.0h.01M91.8 113.6h.01M31.9 184.4h.01M52.4 137.4h.01M83.1 148.3h.01M103.3 125.3h.01M108.6 134.5h.01M49.5 144.5h.01M88.0 176.5h.01M47.3 112.8h.01M79.9 121.7h.01M76.0 121.1h.01M94.5 161.1h.01M63.1 175.7h.01M71.0 161.3h.01M70.6 124.3h.01M50.6 140.7h.01M98.7 174.9h.01M57.8 123.6h.01M76.4 179.7h.01M75.3 129.4h.01M33.7 145.1h.01M37.6 161.5h.01M42.3 172.1h.01M100.8 127.0h.01M80.2 161.9h.01M88.7 181.4h.01M42.2 181.6h.01M101.2 161.4h.01M98.8 144.8h.01M95.2 144.7h.01M77.6 127.1h.01M105.4 159.6h.01M33.5 156.9h.01M99.3 152.6h.01M75.3 126.8h.01M30.0 127.4h.01M72.1 152.5h.01M42.4 120.0h.01M54.9 125.7h.01M54.8 116.2h.01M97.0 137.7h.01M47.5 182.3h.01M86.7 190.1h.01M69.9 182.3h.01M98.2 122.1h.01M54.8 143.8h.01M41.6 149.7h.01M48.0 180.6h.01M65.0 164.1h.01M74.4 142.4h.01M57.6 176.8h.01M78.7 138.8h.01M29.0 156.0h.01M81.5 162.1h.01M91.7 184.4h.01M105.2 179.2h.01M67.6 149.2h.01M93.4 161.6h.01M32.7 122.3h.01M58.8 158.4h.01M35.6 146.6h.01M31.8 186.2h.01M51.7 110.6h.01M77.5 167.1h.01M68.2 116.4h.01M98.0 132.9h.01M36.2 183.4h.01M67.4 122.0h.01M62.3 145.9h.01M67.2 150.1h.01M88.9 188.0h.01M62.2 138.7h.01M62.2 173.5h.01M83.3 136.4h.01M43.1 118.2h.01M79.9 166.9h.01M75.3 132.9h.01M79.9 111.3h.01M100.1 186.8h.01M77.9 157.9h.01M44.5 169.7h.01M47.2 119.8h.01M85.6 116.2h.01M35.0 159.4h.01M59.7 153.2h.01M88.8 125.2h.01M106.2 166.2h.01M40.3 180.3h.01M82.5 115.8h.01M72.4 126.2h.01M61.5 178.2h.01M94.5 140.2h.01M75.5 178.6h.01M80.6 118.8h.01M37.5 143.3h.01M32.9 130.6h.01" stroke="#dcdcdc" stroke-width="0.7" stroke-linecap="round" fill="none" stroke-opacity="0.85"/>
<path d="M44.4 129.8h.01M44.2 162.6h.01M72.8 174.3h.01M58.8 139.7h.01M56.7 137.7h.01M80.2 128.0h.01M54.5 114.7h.01M89.5 163.0h.01M39.5 145.2h.01M99.9 178.4h.01M60.5 128.3h.01M86.8 186.6h.01M70.4 154.4h.01M41.6 124.6h.01M70.4 166.0h.01M57.3 180.3h.01M55.1 118.2h.01M39.0 123.0h.01M88.7 126.7h.01M106.9 166.1h.01M101.8 112.7h.01M33.5 156.8h.01M92.0 148.9h.01M55.2 156.8h.01M94.5 155.2h.01M77.2 128.9h.01M88.8 174.6h.01M104.7 129.3h.01M36.5 168.6h.01M98.5 148.9h.01M69.4 174.0h.01M29.8 154.1h.01M45.8 179.1h.01M51.9 119.4h.01M30.8 171.5h.01M72.3 116.7h.01M36.3 159.5h.01M45.6 156.4h.01M77.0 115.4h.01M30.2 172.2h.01M65.2 156.8h.01M60.9 124.2h.01M58.8 117.4h.01M78.6 181.0h.01M80.3 180.0h.01M53.9 144.4h.01M69.7 131.9h.01M70.3 170.6h.01M70.2 159.0h.01M49.8 187.4h.01M79.4 184.7h.01M107.2 133.2h.01M76.2 129.8h.01M33.6 191.0h.01M93.7 151.8h.01M60.0 149.5h.01M54.6 143.0h.01M92.5 148.8h.01M55.7 138.7h.01M90.3 156.5h.01M95.4 175.5h.01M103.0 185.2h.01M107.7 171.0h.01M79.5 111.3h.01M102.3 125.3h.01M69.8 129.0h.01M75.9 185.2h.01M95.4 131.3h.01M70.1 134.2h.01M29.2 180.4h.01M51.7 125.8h.01M30.9 120.0h.01M34.4 136.5h.01M35.3 181.9h.01M80.8 178.5h.01M88.8 150.0h.01M96.8 146.0h.01M52.7 153.2h.01M77.4 184.2h.01M90.0 159.2h.01M40.0 152.4h.01M32.5 128.6h.01M65.2 145.8h.01M65.6 135.7h.01M70.3 183.4h.01M45.3 158.7h.01M71.6 173.7h.01M65.5 186.1h.01M51.9 155.4h.01M39.4 190.2h.01M48.9 185.8h.01M49.3 125.7h.01M39.9 117.0h.01M68.1 164.8h.01M42.2 175.2h.01M68.2 188.5h.01M47.3 182.8h.01M84.8 190.1h.01M57.8 186.5h.01M61.2 123.1h.01M27.8 177.0h.01M80.9 188.4h.01M34.6 171.9h.01M97.0 124.0h.01M73.3 111.4h.01M103.4 128.7h.01M69.8 125.0h.01M31.2 154.8h.01M58.5 114.0h.01M88.2 113.8h.01M43.6 165.9h.01M81.4 189.7h.01M66.7 121.1h.01M75.8 138.6h.01M62.4 182.6h.01M57.3 123.9h.01M71.2 178.5h.01M31.0 162.9h.01M58.4 186.5h.01M67.9 152.8h.01M87.2 118.4h.01M65.9 119.7h.01M32.8 184.4h.01M80.6 147.9h.01M51.1 115.5h.01M40.8 155.2h.01M43.0 190.3h.01M49.3 175.1h.01M79.3 157.7h.01M95.3 140.3h.01M31.7 168.3h.01M86.8 143.0h.01M80.8 116.8h.01M89.7 186.8h.01M80.4 157.6h.01M72.0 145.1h.01M67.1 169.5h.01M68.1 134.5h.01M56.6 182.1h.01M65.3 168.2h.01M56.9 132.7h.01M102.6 130.7h.01M47.4 180.2h.01M44.0 147.1h.01M97.4 141.4h.01M84.5 118.7h.01M70.4 136.4h.01M33.7 173.6h.01M71.8 165.0h.01M49.6 145.1h.01M64.5 160.5h.01M77.3 190.8h.01M63.2 154.9h.01M39.8 134.7h.01M98.9 181.6h.01M54.0 119.7h.01M61.3 161.3h.01M74.8 148.7h.01M30.1 153.4h.01M73.4 189.6h.01M69.5 171.8h.01M29.2 134.2h.01M65.2 180.9h.01M101.4 118.1h.01M56.8 183.6h.01M55.9 134.3h.01M85.8 152.6h.01M46.9 149.9h.01M89.3 141.5h.01M105.6 163.8h.01M48.0 169.8h.01M51.4 128.9h.01M67.5 165.4h.01M39.0 120.4h.01M103.8 142.7h.01M42.2 154.9h.01M42.8 120.5h.01M84.6 124.4h.01M87.3 169.4h.01M77.0 155.3h.01M99.2 125.7h.01M80.3 156.2h.01M31.4 129.4h.01M80.3 185.1h.01M84.0 162.7h.01M76.2 128.4h.01M84.6 187.8h.01M101.3 176.8h.01M98.7 166.6h.01M68.4 162.4h.01M31.0 173.6h.01M50.5 133.9h.01M61.8 150.3h.01M42.9 157.5h.01M31.5 140.8h.01M73.5 170.3h.01M79.0 180.1h.01M103.6 125.4h.01M74.1 164.3h.01M28.1 173.7h.01M100.8 127.8h.01M73.1 155.3h.01M86.3 133.3h.01M28.4 174.8h.01M57.8 123.3h.01M59.3 162.5h.01M92.2 180.1h.01M61.1 167.9h.01M75.5 136.6h.01M52.7 173.3h.01M44.0 157.5h.01M79.3 172.7h.01M96.3 122.5h.01M102.9 131.5h.01" stroke="#dcdcdc" stroke-width="1" stroke-linecap="round" fill="none" stroke-opacity="0.85"/>
<path d="M55.7 149.7h.01M40.5 175.5h.01M60.3 190.3h.01M98.8 136.6h.01M75.9 162.8h.01M92.7 153.5h.01M51.1 175.0h.01M50.7 171.5h.01M35.2 136.6h.01M56.7 189.3h.01M55.0 140.0h.01M71.5 155.1h.01M103.4 155.0h.01M82.5 129.3h.01M94.1 157.2h.01M103.8 169.3h.01M91.8 155.6h.01M43.6 130.8h.01M37.6 119.1h.01M58.3 118.9h.01M90.6 142.4h.01M95.2 171.2h.01M76.9 158.6h.01M85.6 111.0h.01M63.4 115.2h.01M89.5 172.9h.01M85.7 116.9h.01M41.5 129.8h.01M97.3 177.6h.01M34.2 139.6h.01M46.6 162.3h.01M30.0 127.4h.01M79.3 117.4h.01M75.6 188.8h.01M40.2 162.1h.01M65.7 177.9h.01M56.0 158.0h.01M28.4 167.6h.01M92.7 161.8h.01M100.9 135.8h.01M63.4 125.2h.01M34.0 131.2h.01M67.5 125.1h.01M77.1 130.6h.01M33.0 139.7h.01M66.6 130.2h.01M103.8 115.7h.01M87.3 161.4h.01M42.8 170.6h.01M66.8 144.4h.01M92.7 119.2h.01M36.3 159.7h.01M108.4 186.0h.01M64.0 121.9h.01M102.8 111.3h.01M85.3 175.4h.01M54.8 157.3h.01M50.9 113.5h.01M87.0 170.2h.01M91.8 187.0h.01M49.2 120.5h.01M53.9 135.4h.01M44.3 184.4h.01M63.9 132.4h.01M57.9 149.8h.01M52.3 189.4h.01M34.8 131.3h.01M30.2 188.9h.01M51.8 155.8h.01M53.5 141.4h.01M51.0 118.4h.01M86.2 133.9h.01M82.7 173.8h.01M85.2 164.7h.01M78.3 173.2h.01M81.1 164.5h.01M55.3 159.5h.01M88.7 181.5h.01M47.6 162.2h.01M104.6 137.5h.01M93.7 130.6h.01M36.1 183.8h.01M42.5 146.6h.01M95.4 137.8h.01M32.8 128.4h.01M94.7 166.1h.01M105.8 154.2h.01M37.5 116.3h.01M98.3 169.3h.01M99.9 137.2h.01M97.7 190.4h.01M36.0 121.8h.01M97.1 139.8h.01M102.8 152.9h.01M94.0 113.2h.01M91.5 116.5h.01M107.1 156.4h.01M29.0 162.3h.01M37.9 176.9h.01M96.2 122.8h.01M93.9 119.4h.01M53.6 133.7h.01M31.5 135.0h.01M64.1 146.9h.01M54.8 157.6h.01M29.7 146.9h.01M76.2 181.6h.01M36.5 163.6h.01M58.7 146.1h.01M41.1 175.7h.01M79.3 177.0h.01M80.6 139.2h.01M40.5 154.2h.01M85.7 147.3h.01M93.5 111.0h.01M60.2 185.5h.01M88.2 157.3h.01M85.0 144.5h.01M32.6 125.2h.01M102.4 122.3h.01M70.5 146.5h.01M72.1 142.1h.01M42.2 144.3h.01M41.4 116.5h.01M47.0 178.4h.01M42.1 130.6h.01M96.8 130.6h.01M37.3 187.7h.01M63.0 131.7h.01M103.0 133.5h.01M37.6 160.0h.01M74.8 112.7h.01M94.9 154.2h.01M50.2 164.6h.01M59.8 125.2h.01M45.1 182.0h.01M35.0 161.8h.01M105.0 161.1h.01M47.9 139.8h.01M34.0 130.6h.01M50.5 168.5h.01M56.5 165.2h.01M100.0 158.7h.01M80.3 141.2h.01M74.6 125.6h.01M81.3 142.9h.01M103.0 179.7h.01M62.7 141.9h.01M53.8 169.2h.01M58.8 186.6h.01M106.9 147.2h.01M57.8 161.1h.01M42.1 177.5h.01M92.0 132.3h.01M59.4 186.8h.01M83.7 145.4h.01M70.8 113.3h.01M79.8 171.9h.01M68.8 167.3h.01M107.5 125.4h.01M40.5 160.2h.01M46.3 173.3h.01M70.8 125.8h.01M69.9 168.4h.01M74.5 175.4h.01M62.4 179.1h.01M76.5 114.1h.01M101.6 140.3h.01M56.2 115.8h.01M57.1 143.9h.01M103.4 170.3h.01M106.5 124.6h.01M39.4 113.0h.01M59.4 123.0h.01M74.2 159.7h.01M90.8 120.9h.01M55.3 161.9h.01M68.8 145.6h.01M85.9 125.3h.01M54.6 143.0h.01M32.6 132.8h.01M40.4 147.6h.01M99.7 145.8h.01M41.8 113.0h.01M79.7 189.5h.01M50.3 164.8h.01M106.2 123.1h.01M105.0 160.6h.01M96.8 158.1h.01M95.9 173.7h.01M54.6 126.0h.01M46.5 162.9h.01M43.3 156.6h.01M57.0 147.2h.01M48.7 180.6h.01M82.0 145.4h.01M30.1 157.0h.01M74.3 169.1h.01M42.6 189.5h.01M75.6 154.0h.01M66.7 148.7h.01M93.2 146.6h.01M78.2 158.7h.01M67.6 114.4h.01M53.7 147.7h.01M105.5 144.7h.01M98.6 168.2h.01M51.5 180.8h.01M93.1 183.6h.01M69.4 186.1h.01M65.2 142.0h.01M31.2 144.9h.01M65.4 155.7h.01M86.4 157.4h.01M58.0 121.6h.01M65.9 112.1h.01M68.0 161.9h.01M44.1 131.7h.01M105.4 129.5h.01M41.6 116.5h.01M40.1 151.5h.01M67.6 157.4h.01M36.1 124.9h.01M107.1 174.0h.01M39.7 187.3h.01M53.6 132.0h.01M76.1 181.4h.01M60.1 117.1h.01M95.5 183.0h.01M46.8 179.2h.01M77.3 168.8h.01M94.4 125.0h.01" stroke="#ececec" stroke-width="0.7" stroke-linecap="round" fill="none" stroke-opacity="0.85"/>
<path d="M100.4 130.8h.01M35.5 135.4h.01M33.1 116.3h.01M61.6 186.9h.01M85.6 132.4h.01M83.8 189.3h.01M104.0 156.7h.01M93.7 182.9h.01M82.3 156.1h.01M31.9 139.9h.01M103.4 122.4h.01M59.4 189.0h.01M101.8 133.4h.01M32.0 130.2h.01M100.3 130.5h.01M93.6 185.4h.01M32.8 120.9h.01M87.8 133.7h.01M99.0 121.2h.01M82.9 184.8h.01M102.5 146.6h.01M45.5 143.8h.01M58.0 180.7h.01M62.1 120.9h.01M80.9 150.4h.01M98.9 179.8h.01M79.6 187.0h.01M61.2 186.4h.01M99.6 132.4h.01M93.9 157.0h.01M77.0 186.1h.01M83.7 164.7h.01M44.2 153.5h.01M100.2 153.4h.01M54.3 144.9h.01M97.7 173.9h.01M64.0 112.6h.01M78.1 122.7h.01M32.0 111.1h.01M73.5 170.5h.01M101.0 172.5h.01M44.2 167.5h.01M45.3 185.7h.01M67.1 162.7h.01M62.8 113.5h.01M84.3 165.4h.01M42.0 179.8h.01M69.4 151.9h.01M67.1 190.3h.01M104.9 147.7h.01M30.3 171.7h.01M92.0 175.8h.01M41.4 166.2h.01M74.9 133.6h.01M109.0 126.2h.01M79.0 137.8h.01M59.5 146.4h.01M73.4 184.2h.01M99.6 132.3h.01M37.0 153.2h.01M85.4 155.8h.01M104.4 125.3h.01M58.7 133.9h.01M82.2 116.6h.01M28.5 120.3h.01M89.9 147.1h.01M97.3 126.1h.01M38.0 136.1h.01M58.0 131.8h.01M57.4 143.6h.01M105.8 127.8h.01M42.0 159.7h.01M64.0 147.8h.01M56.4 169.6h.01M97.8 166.5h.01M79.4 132.3h.01M87.5 178.2h.01M85.5 127.5h.01M65.0 134.3h.01M82.9 182.9h.01M55.5 187.7h.01M66.0 173.5h.01M35.4 155.4h.01M65.5 123.8h.01M87.8 148.9h.01M38.4 137.5h.01M99.7 142.4h.01M66.0 129.4h.01M46.7 138.0h.01M83.5 153.3h.01M62.6 168.9h.01M53.6 157.3h.01M88.1 133.9h.01M30.0 189.5h.01M62.7 150.0h.01M68.0 187.7h.01M94.4 115.0h.01M87.0 161.4h.01M90.5 168.6h.01M97.8 145.4h.01M72.9 133.2h.01M54.8 151.5h.01M29.3 146.4h.01M82.6 134.9h.01M88.4 168.7h.01M56.2 127.6h.01M51.7 187.5h.01M91.7 155.9h.01M29.3 112.4h.01M80.1 150.0h.01M96.1 152.0h.01M72.7 124.5h.01M33.2 112.8h.01M31.5 115.8h.01M68.2 182.5h.01M66.1 144.4h.01M59.6 141.7h.01M96.0 159.4h.01M77.3 169.4h.01M76.1 134.3h.01M47.9 190.8h.01M89.8 179.6h.01M89.3 112.2h.01M66.0 150.4h.01M61.4 170.2h.01M71.1 120.0h.01M88.9 148.9h.01M77.7 169.8h.01M96.3 127.8h.01M104.6 184.8h.01M61.8 121.9h.01M62.9 187.0h.01M68.1 114.7h.01M39.9 157.0h.01M29.3 128.0h.01M102.8 119.9h.01M60.9 128.8h.01M97.5 149.2h.01M58.2 126.8h.01M72.9 183.4h.01M35.2 167.6h.01M53.5 151.5h.01M89.6 116.9h.01M61.5 182.8h.01M35.6 129.6h.01M81.7 176.6h.01M84.7 172.9h.01M81.0 184.5h.01M77.2 144.0h.01M98.8 136.6h.01M89.5 168.6h.01M88.9 169.2h.01M29.0 145.0h.01M101.7 135.6h.01M65.9 130.8h.01M40.5 149.9h.01M74.1 165.2h.01M62.1 144.7h.01M69.3 176.4h.01M60.7 135.7h.01M50.4 121.2h.01M61.0 168.2h.01M108.4 150.3h.01M93.4 173.4h.01M38.8 119.3h.01M72.0 171.4h.01M88.3 137.3h.01M41.2 136.0h.01M72.9 135.0h.01M45.0 133.0h.01M83.9 172.3h.01M90.2 180.1h.01M86.7 149.4h.01M45.9 157.4h.01M98.5 173.1h.01M97.5 167.8h.01M74.2 155.8h.01M67.6 181.3h.01M79.7 173.4h.01M79.8 139.7h.01M35.2 143.0h.01M50.7 135.5h.01M81.6 151.8h.01M59.7 155.0h.01M71.5 150.8h.01M43.6 168.4h.01M84.6 173.1h.01M106.1 168.8h.01M59.0 111.3h.01M47.9 111.8h.01M106.1 143.2h.01M53.0 148.4h.01M64.9 168.4h.01M66.4 135.6h.01M52.8 135.7h.01M61.5 136.5h.01M82.3 136.4h.01M90.2 158.7h.01M29.9 148.4h.01M39.0 181.5h.01M30.0 149.3h.01M90.5 139.7h.01M87.4 189.5h.01M70.1 157.8h.01M63.2 128.4h.01M39.1 158.4h.01M75.8 160.6h.01M78.2 167.6h.01M77.0 147.5h.01M29.5 184.3h.01" stroke="#ececec" stroke-width="1" stroke-linecap="round" fill="none" stroke-opacity="0.85"/>
</g>
<rect x="27.4" y="109.7" width="20.6" height="20.2" fill="#fff" stroke="none" stroke-width="1"/>
<rect x="118.1" y="109.9" width="80.6" height="80.6" fill="rgb(171,171,171)" stroke="none" stroke-width="1"/>
<rect x="118.1" y="109.9" width="80.6" height="80.6" fill="#888" stroke="none" stroke-width="1" filter="url(#tn5)"/>
<g clip-path="url(#tc5)">
<path d="M143.5 129.4h.01M172.1 111.3h.01M191.7 184.0h.01M185.8 174.7h.01M128.0 181.0h.01M190.5 169.6h.01M159.8 166.2h.01M183.3 133.6h.01M165.2 121.0h.01M190.7 173.1h.01M156.1 147.7h.01M142.1 113.7h.01M155.0 143.2h.01M175.7 166.6h.01M142.8 143.5h.01M165.5 119.3h.01M132.8 114.0h.01M127.9 148.7h.01M176.7 139.8h.01M129.2 120.2h.01M148.4 137.0h.01M177.9 146.6h.01M184.9 174.4h.01M176.1 142.5h.01M178.0 115.3h.01M143.8 143.9h.01M180.2 162.4h.01M138.6 166.7h.01M187.7 172.5h.01M151.5 129.8h.01M139.5 119.8h.01M169.3 152.6h.01M176.9 134.0h.01M176.5 112.7h.01M198.2 176.6h.01M129.6 115.9h.01M174.6 152.6h.01M147.9 135.8h.01M155.4 120.0h.01M151.7 143.2h.01M153.5 139.1h.01M171.3 170.3h.01M124.7 181.1h.01" stroke="#666" stroke-width="0.7" stroke-linecap="round" fill="none" stroke-opacity="0.9"/>
<path d="M149.1 135.6h.01M173.0 164.4h.01M131.3 177.2h.01M197.3 170.4h.01M152.4 170.4h.01M177.8 168.3h.01M172.9 115.3h.01M179.5 134.7h.01M163.4 127.9h.01M176.0 132.5h.01M197.9 163.0h.01M162.5 128.8h.01M166.1 127.3h.01M191.0 169.8h.01M152.9 141.6h.01M149.1 126.3h.01M167.5 146.2h.01M170.7 171.6h.01M160.8 148.3h.01M168.9 117.0h.01M190.7 147.3h.01M150.7 154.1h.01M179.9 135.6h.01M174.3 179.4h.01M164.3 114.5h.01M185.9 147.3h.01M140.9 143.9h.01M134.1 113.7h.01M129.5 116.4h.01M129.1 114.0h.01M142.0 143.2h.01M128.0 136.7h.01M129.6 119.2h.01M197.4 184.1h.01M153.0 129.9h.01" stroke="#666" stroke-width="1" stroke-linecap="round" fill="none" stroke-opacity="0.9"/>
<path d="M164.4 138.5h.01M181.4 155.3h.01M167.7 121.2h.01M163.9 132.7h.01M181.1 141.4h.01M191.6 136.8h.01M144.9 120.7h.01M165.9 123.5h.01M173.8 171.0h.01M198.6 185.3h.01M188.1 131.1h.01M195.4 166.4h.01M148.9 139.3h.01M185.2 136.3h.01M179.0 142.4h.01M194.7 182.5h.01M175.0 168.6h.01M153.7 120.3h.01M158.1 131.8h.01M191.7 172.2h.01M158.0 131.8h.01M189.8 143.7h.01M126.7 171.3h.01M154.4 156.5h.01M170.8 134.4h.01M186.0 165.3h.01M164.5 123.0h.01M186.8 154.8h.01M152.3 120.8h.01M183.2 175.6h.01M163.6 147.0h.01M151.8 129.7h.01M186.7 133.1h.01M180.3 167.0h.01M189.2 175.5h.01M119.2 135.3h.01M153.6 162.8h.01M159.2 146.2h.01M155.5 142.5h.01M168.1 159.6h.01M161.9 137.0h.01M137.5 130.2h.01M174.0 111.0h.01M119.6 139.3h.01M136.7 126.4h.01" stroke="#7a7a7a" stroke-width="0.7" stroke-linecap="round" fill="none" stroke-opacity="0.9"/>
<path d="M143.4 153.6h.01M177.3 116.6h.01M136.9 133.2h.01M152.1 127.2h.01M189.5 173.8h.01M132.7 112.8h.01M167.5 120.1h.01M155.9 143.5h.01M162.0 142.2h.01M177.9 172.5h.01M158.9 151.0h.01M172.4 135.6h.01M167.4 157.1h.01M180.2 147.2h.01M146.6 145.2h.01M152.2 127.0h.01M134.1 121.9h.01M177.9 139.4h.01M129.1 179.9h.01M134.8 151.4h.01M118.3 134.9h.01M175.9 177.3h.01M145.5 163.3h.01M146.0 158.2h.01M166.9 121.4h.01M134.6 151.5h.01M153.5 139.5h.01M157.9 138.0h.01M170.0 129.8h.01" stroke="#7a7a7a" stroke-width="1" stroke-linecap="round" fill="none" stroke-opacity="0.9"/>
<path d="M160.8 144.3h.01M177.2 137.3h.01M118.5 130.2h.01M152.9 150.4h.01M158.9 153.0h.01M173.5 177.0h.01M188.1 148.3h.01M189.5 134.6h.01M144.4 137.5h.01M174.7 134.2h.01M138.8 136.1h.01M158.1 158.1h.01M164.1 136.6h.01M176.5 172.8h.01M157.2 144.2h.01M154.7 136.9h.01M138.1 175.6h.01M156.5 162.2h.01M150.5 163.6h.01M121.7 129.4h.01M144.9 162.3h.01M147.3 164.3h.01M129.6 177.2h.01M153.3 131.2h.01M164.6 118.4h.01M150.0 149.7h.01M157.2 138.8h.01M158.3 158.8h.01M165.4 126.5h.01M183.0 182.2h.01M124.6 179.5h.01M172.2 129.6h.01M153.9 162.4h.01M131.0 180.0h.01" stroke="#555" stroke-width="0.7" stroke-linecap="round" fill="none" stroke-opacity="0.9"/>
<path d="M178.7 174.5h.01M178.0 174.4h.01M184.4 117.8h.01M178.6 135.3h.01M168.6 119.6h.01M178.1 162.3h.01M149.2 131.8h.01M165.8 120.5h.01M141.4 150.1h.01M132.5 119.1h.01M152.4 119.6h.01M171.4 160.9h.01M160.0 128.3h.01M160.0 137.8h.01M167.4 115.3h.01M163.9 116.0h.01M141.8 125.3h.01M174.5 138.4h.01M186.1 131.4h.01M178.1 142.1h.01M161.4 159.5h.01M151.0 140.7h.01M130.5 183.1h.01M155.4 157.2h.01" stroke="#555" stroke-width="1" stroke-linecap="round" fill="none" stroke-opacity="0.9"/>
<path d="M172.3 111.9h.01M192.2 184.3h.01M118.8 130.7h.01M153.0 151.0h.01M195.9 166.7h.01M190.7 170.2h.01M183.4 134.2h.01M159.1 153.6h.01M179.5 142.8h.01M175.2 169.3h.01M144.8 138.0h.01M176.0 167.1h.01M154.0 120.8h.01M166.0 119.7h.01M158.6 158.3h.01M177.0 173.2h.01M180.4 163.0h.01M171.4 134.6h.01M157.3 144.8h.01M139.3 166.8h.01M188.1 173.1h.01M187.3 155.2h.01M176.8 113.2h.01M122.1 129.9h.01M151.9 130.4h.01M180.8 167.5h.01M157.5 139.3h.01M168.7 159.7h.01M151.9 143.8h.01M119.8 139.9h.01M125.3 181.2h.01" stroke="#dedede" stroke-width="0.7" stroke-linecap="round" fill="none" stroke-opacity="0.85"/>
<path d="M144.2 154.0h.01M178.6 175.1h.01M178.1 116.9h.01M173.6 165.1h.01M179.2 136.0h.01M198.6 163.5h.01M191.2 170.7h.01M153.7 141.9h.01M142.2 150.3h.01M161.6 148.6h.01M147.0 146.0h.01M186.3 148.1h.01M178.8 142.5h.01M135.0 122.2h.01M178.8 139.6h.01M130.4 116.7h.01M176.1 178.2h.01M146.3 163.7h.01M154.4 139.8h.01M151.5 141.5h.01M158.6 138.4h.01M170.4 130.5h.01M153.3 130.8h.01" stroke="#dedede" stroke-width="1" stroke-linecap="round" fill="none" stroke-opacity="0.85"/>
</g>
<rect x="117.9" y="109.7" width="19.6" height="21.2" fill="#fff" stroke="none" stroke-width="1"/>
<rect x="208.1" y="109.9" width="81.4" height="80.6" fill="rgb(164,164,164)" stroke="none" stroke-width="1"/>
<rect x="208.1" y="109.9" width="81.4" height="80.6" fill="#888" stroke="none" stroke-width="1" filter="url(#tn6)"/>
<g clip-path="url(#tc6)">
<path d="M255.3 146.1h.01M264.3 117.9h.01M265.1 161.1h.01M222.4 136.1h.01M275.7 158.0h.01M251.8 142.7h.01M273.7 162.2h.01M214.1 140.3h.01M210.8 117.3h.01M255.8 143.6h.01M237.7 128.5h.01M243.8 129.6h.01M257.3 149.4h.01M284.1 140.0h.01M210.6 137.0h.01M224.2 179.8h.01M267.1 188.1h.01M282.2 144.5h.01M284.3 123.2h.01M271.7 159.4h.01M275.3 113.6h.01M236.9 132.2h.01M259.9 154.0h.01M209.9 134.2h.01M272.8 179.2h.01M282.2 188.9h.01M262.8 189.0h.01M252.8 142.8h.01M261.0 114.0h.01M228.3 140.7h.01M282.9 155.2h.01M209.3 116.0h.01M259.1 126.1h.01M227.0 119.2h.01M269.5 174.4h.01M217.9 133.2h.01M253.8 152.5h.01M243.3 175.1h.01M278.0 140.0h.01M276.8 166.4h.01M267.3 138.6h.01M244.2 135.5h.01M284.3 158.6h.01M278.1 134.3h.01M233.9 130.5h.01M280.6 183.7h.01M245.8 144.6h.01M284.7 121.9h.01M234.9 150.9h.01M211.1 165.3h.01M258.0 126.4h.01M238.1 146.3h.01M270.9 113.9h.01M213.6 110.7h.01M245.3 172.9h.01M218.9 152.6h.01M256.5 143.6h.01M283.8 144.4h.01M247.4 171.6h.01M259.0 174.1h.01M255.8 176.4h.01M276.2 134.0h.01M279.6 126.5h.01M219.8 176.2h.01M250.2 183.5h.01M249.3 132.2h.01M283.4 185.2h.01M236.8 154.3h.01M271.0 176.9h.01M219.5 131.6h.01M279.7 173.0h.01M259.6 150.3h.01M280.9 136.8h.01M223.9 150.6h.01M262.9 169.7h.01M219.0 121.3h.01M273.8 164.6h.01M228.1 177.9h.01M235.3 133.0h.01M276.9 132.2h.01M264.8 185.3h.01M240.1 137.3h.01M276.3 181.1h.01M250.5 154.1h.01M287.1 170.0h.01M268.2 154.7h.01M253.6 129.3h.01M246.1 172.6h.01M285.1 153.9h.01M254.4 141.2h.01M276.0 117.8h.01M286.8 153.2h.01M261.9 134.7h.01M226.9 143.5h.01M272.2 125.4h.01M280.2 153.6h.01M282.0 188.5h.01M274.6 168.8h.01" stroke="#1c1c1c" stroke-width="1.1" stroke-linecap="round" fill="none" stroke-opacity="0.9"/>
<path d="M244.9 172.4h.01M244.9 120.3h.01M244.1 150.0h.01M250.4 135.0h.01M239.3 136.0h.01M212.5 113.2h.01M227.1 112.1h.01M283.1 126.7h.01M279.6 160.0h.01M255.4 166.5h.01M257.4 162.5h.01M214.1 114.3h.01M275.3 130.2h.01M210.1 127.4h.01M227.7 116.8h.01M254.7 147.5h.01M250.4 144.4h.01M219.6 114.4h.01M236.0 136.9h.01M283.1 143.6h.01M227.3 134.1h.01M225.2 129.9h.01M276.1 154.2h.01M283.9 138.0h.01M285.7 170.6h.01M271.0 110.5h.01M284.9 189.6h.01M253.7 151.2h.01M266.0 146.7h.01M283.8 149.6h.01M246.1 160.1h.01M259.0 179.9h.01M257.1 182.2h.01M216.5 184.8h.01M208.8 134.7h.01M261.7 145.2h.01M234.5 128.6h.01M271.9 129.6h.01M249.4 142.2h.01M287.1 142.5h.01M235.7 141.5h.01M283.8 161.1h.01M257.9 163.9h.01M273.6 140.1h.01M219.6 112.4h.01M288.8 139.9h.01M273.2 151.6h.01M286.2 159.2h.01M287.5 146.7h.01M263.4 145.4h.01M285.4 141.7h.01M247.5 127.4h.01M277.8 168.0h.01M219.6 127.3h.01M238.6 120.5h.01M268.3 112.7h.01M222.4 135.2h.01M210.0 175.6h.01M270.7 165.5h.01M244.2 136.1h.01M219.4 120.5h.01M287.5 156.8h.01M278.1 142.5h.01M253.9 151.8h.01M235.3 144.3h.01M271.3 128.7h.01M274.9 151.3h.01M227.6 122.4h.01M251.6 154.6h.01M222.3 127.8h.01M219.6 126.1h.01M212.3 111.2h.01M280.1 189.5h.01M211.7 119.4h.01M256.7 145.6h.01M222.8 146.0h.01M229.7 133.8h.01M282.4 131.4h.01M231.4 142.5h.01M274.3 173.2h.01M233.5 140.4h.01M248.7 167.2h.01M243.0 157.6h.01M271.4 136.5h.01M288.9 167.7h.01M221.9 145.5h.01M276.3 145.0h.01M274.3 168.6h.01M216.5 149.9h.01M270.5 177.7h.01M270.4 163.7h.01M262.4 157.5h.01M227.1 138.0h.01M270.9 178.2h.01M287.5 119.7h.01M272.7 172.7h.01M212.4 142.8h.01M265.9 182.6h.01M285.5 137.7h.01M245.6 118.3h.01M285.8 146.8h.01M228.6 140.3h.01M236.9 146.3h.01M244.4 140.7h.01M281.9 182.5h.01M245.3 127.1h.01M243.3 145.5h.01M246.7 141.4h.01M273.5 170.8h.01M270.2 144.4h.01M261.0 163.8h.01M275.7 176.2h.01M288.0 161.6h.01M224.2 147.9h.01" stroke="#1c1c1c" stroke-width="1.7" stroke-linecap="round" fill="none" stroke-opacity="0.9"/>
<path d="M271.5 128.9h.01M279.9 176.3h.01M282.2 178.0h.01M277.8 111.7h.01M285.3 164.7h.01M225.1 123.7h.01M285.3 130.2h.01M244.1 145.9h.01M257.1 141.9h.01M272.6 111.0h.01M216.4 171.3h.01M218.7 130.5h.01M220.3 124.4h.01M233.2 145.9h.01M244.8 183.3h.01M236.4 136.6h.01M239.1 148.3h.01M258.1 173.4h.01M288.6 136.1h.01M267.3 121.6h.01M268.5 123.6h.01M268.7 164.2h.01M271.6 161.9h.01M277.8 166.9h.01M259.2 156.1h.01M254.0 141.9h.01M273.0 141.0h.01M272.1 141.9h.01M234.6 123.5h.01M285.9 157.8h.01M268.7 120.9h.01M285.5 174.1h.01M240.5 124.4h.01M222.6 138.2h.01M258.9 163.7h.01M266.4 156.9h.01M265.4 146.7h.01M227.4 137.7h.01M267.3 170.8h.01M238.5 143.1h.01M270.7 168.6h.01M240.6 153.0h.01M289.0 129.7h.01M222.3 151.0h.01M261.9 161.8h.01M283.5 148.8h.01M287.4 115.0h.01M209.5 128.5h.01M221.9 114.2h.01M260.5 153.7h.01M245.1 180.9h.01M272.8 179.9h.01M274.1 139.1h.01M279.2 154.8h.01M272.0 113.9h.01M263.9 161.8h.01M218.3 122.0h.01M212.8 131.1h.01M278.6 155.2h.01M282.3 178.1h.01M258.8 156.3h.01M221.7 143.4h.01M231.9 127.9h.01M255.7 167.8h.01M215.9 119.0h.01M271.2 152.1h.01M223.6 133.6h.01M264.9 162.7h.01M232.4 113.7h.01M215.5 132.3h.01M219.8 177.8h.01M230.7 143.4h.01M254.1 157.4h.01M222.8 146.1h.01M254.0 145.8h.01M214.3 117.4h.01M251.9 181.9h.01M248.2 128.3h.01M262.1 152.6h.01M277.9 152.8h.01M217.2 123.3h.01M271.7 165.6h.01M214.0 126.8h.01M276.1 127.3h.01M287.6 146.1h.01M223.1 137.2h.01M280.7 138.1h.01M249.8 169.1h.01M216.8 142.0h.01M268.8 131.6h.01M274.2 187.4h.01M276.1 177.6h.01M280.4 110.5h.01M258.3 114.6h.01M279.3 145.8h.01M213.0 125.9h.01M236.9 155.1h.01" stroke="#3a3a3a" stroke-width="1.1" stroke-linecap="round" fill="none" stroke-opacity="0.9"/>
<path d="M224.1 128.6h.01M256.5 150.5h.01M277.0 170.2h.01M257.2 140.7h.01M274.8 145.8h.01M269.7 178.6h.01M268.1 180.4h.01M272.2 151.3h.01M272.0 138.1h.01M267.7 176.0h.01M288.6 183.9h.01M277.2 188.8h.01M284.0 172.0h.01M279.7 162.7h.01M272.4 111.8h.01M218.9 126.9h.01M278.1 183.5h.01M275.0 186.2h.01M277.1 149.0h.01M257.6 134.5h.01M219.7 136.3h.01M248.2 150.4h.01M226.9 131.2h.01M288.3 130.3h.01M263.3 139.5h.01M273.0 115.4h.01M251.3 187.3h.01M268.3 157.6h.01M267.8 177.3h.01M269.4 128.8h.01M228.7 127.7h.01M244.0 163.1h.01M279.5 172.0h.01M242.5 126.6h.01M282.7 126.8h.01M252.7 172.4h.01M220.8 133.6h.01M236.5 153.4h.01M215.1 148.8h.01M277.5 159.1h.01M259.0 179.8h.01M248.8 144.3h.01M246.2 188.6h.01M209.0 126.6h.01M286.9 168.9h.01M236.6 126.5h.01M233.8 123.3h.01M277.4 137.9h.01M255.7 153.5h.01M209.7 129.4h.01M275.5 165.8h.01M267.6 172.1h.01M264.3 161.1h.01M254.3 163.6h.01M214.4 130.3h.01M268.6 143.7h.01M283.0 187.7h.01M240.7 129.8h.01M262.2 122.5h.01M250.7 158.3h.01M242.8 181.4h.01M248.3 133.1h.01M252.9 155.2h.01M277.6 165.1h.01M249.1 137.8h.01M262.6 163.8h.01M263.8 142.0h.01M272.8 160.4h.01M243.2 127.1h.01M214.8 126.6h.01M266.0 167.5h.01M288.3 130.9h.01M280.5 142.7h.01M222.1 141.5h.01M250.9 156.3h.01M277.6 159.6h.01M274.4 116.2h.01M266.7 169.3h.01M245.9 151.6h.01M223.4 134.8h.01M284.4 178.6h.01M276.5 186.0h.01M273.4 150.2h.01M267.0 150.6h.01M265.4 158.7h.01M287.9 134.4h.01M261.1 166.4h.01M235.3 142.0h.01M277.0 116.5h.01M254.6 174.2h.01M250.7 152.3h.01M249.5 159.6h.01M277.0 163.9h.01M287.6 176.1h.01M255.6 145.0h.01M213.8 189.1h.01M258.7 149.1h.01M221.6 184.8h.01M221.4 136.9h.01M224.1 141.0h.01M249.0 138.6h.01M277.0 137.8h.01M287.2 175.0h.01M278.9 184.3h.01M263.8 153.7h.01M273.3 155.9h.01M287.8 167.6h.01M234.7 141.1h.01M269.8 123.2h.01M214.2 130.5h.01M209.0 132.8h.01M280.3 189.2h.01M218.1 117.1h.01M275.3 123.6h.01M273.9 131.4h.01M265.9 149.4h.01M264.9 180.3h.01" stroke="#3a3a3a" stroke-width="1.7" stroke-linecap="round" fill="none" stroke-opacity="0.9"/>
<path d="M251.2 141.6h.01M265.2 176.4h.01M212.7 144.7h.01M263.9 116.3h.01M268.1 148.8h.01M234.8 145.1h.01M275.6 138.6h.01M283.8 190.1h.01M231.0 151.6h.01M274.5 119.2h.01M273.7 158.6h.01M268.8 156.7h.01M252.2 157.4h.01M231.1 125.9h.01M242.7 148.1h.01M248.2 174.7h.01M243.4 141.2h.01M249.4 187.9h.01M208.6 123.4h.01M235.6 118.5h.01M278.4 147.6h.01M225.7 135.9h.01M233.8 156.1h.01M260.2 154.9h.01M246.9 184.4h.01M265.5 170.4h.01M214.2 125.9h.01M220.2 133.3h.01M234.0 129.9h.01M278.5 145.4h.01M284.3 153.4h.01M256.9 135.2h.01M276.8 171.1h.01M237.5 147.8h.01M250.2 158.7h.01M267.5 126.2h.01M265.0 141.2h.01M269.9 168.8h.01M220.0 155.9h.01M214.7 128.0h.01M269.9 126.5h.01M280.0 128.8h.01M279.0 180.7h.01M238.0 146.4h.01M246.0 169.2h.01M214.9 176.4h.01M243.0 139.3h.01M260.2 172.2h.01M289.0 136.1h.01M248.5 144.0h.01M221.6 143.3h.01M277.1 168.2h.01M256.0 179.2h.01M230.6 136.0h.01M211.0 116.3h.01M285.9 150.0h.01M263.8 155.9h.01M287.0 158.6h.01M259.6 142.1h.01M209.4 142.0h.01M251.4 157.4h.01M230.2 142.2h.01M248.6 154.5h.01M264.8 163.0h.01M265.8 138.0h.01M281.4 163.1h.01M223.8 143.9h.01M245.3 153.4h.01M228.2 152.8h.01M246.7 172.5h.01M269.0 140.8h.01M243.0 140.3h.01M279.5 138.4h.01M249.0 183.9h.01M238.2 134.9h.01M245.1 126.8h.01M233.8 131.6h.01M275.8 113.0h.01M234.8 136.5h.01M263.3 146.5h.01M284.6 162.6h.01M286.2 182.1h.01M252.7 183.6h.01M270.4 129.8h.01M279.8 138.6h.01M217.4 143.5h.01M215.7 121.2h.01M262.1 152.6h.01M253.8 148.6h.01M210.3 166.9h.01M242.2 133.9h.01M241.6 125.1h.01M288.4 173.5h.01M223.3 128.7h.01M254.1 134.3h.01M273.9 151.6h.01M248.0 145.6h.01M243.9 133.2h.01M210.4 112.3h.01M221.5 137.0h.01M254.1 150.6h.01M263.0 157.5h.01M235.6 135.1h.01M225.2 153.9h.01M210.4 129.9h.01M237.4 138.5h.01" stroke="#545454" stroke-width="1.1" stroke-linecap="round" fill="none" stroke-opacity="0.9"/>
<path d="M226.4 133.2h.01M228.7 138.6h.01M215.7 119.4h.01M215.7 119.9h.01M260.9 157.8h.01M273.4 144.6h.01M270.3 161.2h.01M222.0 180.6h.01M232.2 139.9h.01M289.5 138.7h.01M228.7 141.3h.01M286.6 169.5h.01M243.2 183.7h.01M212.3 112.0h.01M277.8 158.2h.01M244.5 135.7h.01M231.0 148.9h.01M246.7 137.6h.01M285.8 124.4h.01M277.5 141.0h.01M277.1 167.3h.01M254.6 152.6h.01M276.3 143.1h.01M218.7 124.9h.01M279.2 169.6h.01M218.8 115.1h.01M288.4 120.6h.01M254.4 155.5h.01M217.5 131.8h.01M223.3 119.9h.01M217.6 127.6h.01M245.2 141.9h.01M258.6 189.0h.01M275.4 138.8h.01M283.2 190.4h.01M236.5 125.9h.01M266.8 160.7h.01M286.7 163.3h.01M277.3 189.1h.01M271.9 171.5h.01M273.0 161.9h.01M231.3 128.5h.01M275.2 175.6h.01M280.7 144.4h.01M279.7 170.4h.01M261.6 145.1h.01M208.8 137.3h.01M218.9 130.0h.01M264.0 121.8h.01M270.2 159.9h.01M220.4 124.9h.01M259.5 152.5h.01M273.8 155.9h.01M232.3 145.3h.01M260.7 122.3h.01M282.5 162.9h.01M220.1 124.3h.01M269.3 112.8h.01M260.4 165.2h.01M283.8 182.3h.01M274.0 134.2h.01M244.4 131.6h.01M267.2 141.5h.01M283.9 172.0h.01M275.1 124.2h.01M238.6 143.1h.01M271.3 119.3h.01M263.9 135.9h.01M281.9 189.5h.01M273.6 115.6h.01M280.1 110.2h.01M261.2 174.8h.01M218.7 131.3h.01M280.1 183.7h.01M259.0 150.5h.01M252.2 134.6h.01M264.7 151.2h.01M244.7 138.3h.01M249.8 177.3h.01M265.8 123.4h.01M239.5 128.0h.01M283.6 158.5h.01M285.4 154.9h.01M219.4 128.0h.01M271.2 161.4h.01M287.3 164.0h.01M219.5 133.1h.01M215.0 126.9h.01M247.3 154.7h.01M271.8 119.7h.01M244.6 141.9h.01M269.3 156.1h.01M239.6 111.9h.01M251.8 145.5h.01M281.3 123.8h.01M289.1 163.1h.01M282.6 132.5h.01M213.7 140.8h.01M283.9 190.3h.01M269.2 135.2h.01M285.8 114.6h.01M254.4 168.4h.01M228.1 127.3h.01M282.0 163.3h.01M233.5 151.5h.01M209.2 137.5h.01M251.5 173.0h.01M254.9 156.9h.01" stroke="#545454" stroke-width="1.7" stroke-linecap="round" fill="none" stroke-opacity="0.9"/>
<path d="M252.2 141.8h.01M283.1 178.4h.01M235.7 145.5h.01M276.1 139.5h.01M252.3 143.5h.01M273.2 111.8h.01M256.7 143.9h.01M252.5 158.4h.01M244.2 130.5h.01M284.8 140.8h.01M232.0 126.4h.01M224.5 180.7h.01M249.0 175.3h.01M244.1 141.9h.01M221.1 125.1h.01M284.7 124.1h.01M245.7 183.6h.01M236.4 119.0h.01M275.8 114.5h.01M234.7 156.3h.01M269.3 124.1h.01M269.4 165.0h.01M255.0 142.1h.01M247.5 185.2h.01M265.7 171.4h.01M220.7 134.2h.01M235.5 123.8h.01M234.9 130.3h.01M279.4 146.0h.01M277.1 172.0h.01M238.0 148.7h.01M259.8 164.1h.01M250.9 159.5h.01M209.6 116.9h.01M265.9 141.6h.01M227.5 120.0h.01M265.8 147.5h.01M227.9 138.6h.01M270.8 169.2h.01M268.0 171.5h.01M218.3 134.1h.01M238.9 144.0h.01M271.6 168.9h.01M262.4 162.6h.01M281.0 129.0h.01M284.4 149.2h.01M287.6 115.9h.01M268.2 138.9h.01M245.1 135.9h.01M238.3 147.3h.01M210.4 128.8h.01M273.3 180.7h.01M274.6 140.0h.01M281.1 184.6h.01M289.6 136.9h.01M280.0 155.3h.01M222.6 143.6h.01M277.9 168.8h.01M219.0 122.8h.01M231.6 136.3h.01M279.6 155.4h.01M212.0 165.7h.01M246.1 173.5h.01M215.8 133.3h.01M220.7 178.0h.01M259.6 174.9h.01M228.9 153.5h.01M214.7 118.3h.01M247.3 173.3h.01M270.0 141.1h.01M249.1 128.6h.01M250.9 184.1h.01M280.1 139.2h.01M280.5 173.5h.01M260.5 150.7h.01M276.3 113.9h.01M264.0 147.3h.01M287.2 182.4h.01M276.7 128.1h.01M270.7 130.8h.01M235.6 133.9h.01M254.1 149.6h.01M242.8 134.6h.01M251.1 154.9h.01M281.2 111.1h.01M280.2 146.0h.01M244.7 133.8h.01M254.9 151.2h.01M281.1 154.1h.01M282.3 189.4h.01M275.0 169.8h.01M237.4 155.9h.01" stroke="#f0f0f0" stroke-width="1.1" stroke-linecap="round" fill="none" stroke-opacity="0.85"/>
<path d="M225.2 129.7h.01M257.8 151.2h.01M271.1 179.1h.01M268.8 181.7h.01M245.3 121.7h.01M251.0 136.3h.01M274.8 145.2h.01M213.6 114.2h.01M269.1 176.5h.01M284.4 127.4h.01M289.8 184.8h.01M213.0 113.4h.01M211.4 128.3h.01M280.1 164.1h.01M246.0 136.0h.01M273.9 112.2h.01M219.8 128.2h.01M247.6 138.8h.01M278.4 168.1h.01M279.5 184.0h.01M284.4 144.4h.01M228.7 134.6h.01M227.9 132.2h.01M277.2 155.3h.01M255.2 156.8h.01M284.3 139.5h.01M274.1 116.5h.01M269.6 158.3h.01M276.7 139.6h.01M283.6 191.9h.01M229.4 129.1h.01M245.5 163.5h.01M287.7 164.5h.01M286.1 190.5h.01M243.9 127.2h.01M254.0 173.0h.01M276.6 176.0h.01M254.3 152.7h.01M267.3 147.6h.01M246.8 161.5h.01M216.4 149.6h.01M260.1 181.0h.01M210.2 135.4h.01M271.6 160.4h.01M250.9 142.6h.01M209.9 127.8h.01M287.6 170.2h.01M221.6 125.8h.01M284.4 162.5h.01M275.1 140.5h.01M274.1 152.8h.01M278.0 139.3h.01M257.2 153.9h.01M221.5 124.9h.01M220.7 128.5h.01M269.8 113.2h.01M270.0 144.3h.01M284.8 183.5h.01M223.2 136.6h.01M274.8 135.5h.01M272.1 166.1h.01M220.7 121.4h.01M245.9 131.9h.01M250.4 138.6h.01M263.8 164.7h.01M272.6 129.4h.01M223.5 128.8h.01M243.7 128.5h.01M271.9 120.7h.01M282.6 190.8h.01M213.2 119.9h.01M288.7 132.4h.01M257.9 146.5h.01M282.0 143.1h.01M274.9 117.6h.01M243.9 158.8h.01M280.8 185.1h.01M272.8 136.9h.01M289.9 168.8h.01M223.8 136.2h.01M253.0 136.0h.01M266.0 152.0h.01M266.5 124.8h.01M284.1 159.9h.01M274.8 170.0h.01M268.4 151.3h.01M217.9 150.3h.01M272.0 178.0h.01M278.2 117.5h.01M255.1 175.6h.01M262.8 159.0h.01M228.4 138.8h.01M216.3 127.7h.01M250.9 160.1h.01M247.9 156.1h.01M272.4 121.1h.01M273.6 174.0h.01M288.8 177.0h.01M213.7 143.6h.01M270.3 157.2h.01M240.4 113.2h.01M282.3 124.9h.01M289.8 164.4h.01M278.5 138.3h.01M285.3 190.8h.01M283.4 183.1h.01M270.7 124.5h.01M214.7 131.9h.01M286.6 115.9h.01M247.9 142.3h.01M274.8 171.6h.01M274.6 132.7h.01M254.7 169.9h.01M266.8 150.7h.01M210.5 138.3h.01" stroke="#f0f0f0" stroke-width="1.7" stroke-linecap="round" fill="none" stroke-opacity="0.85"/>
<path d="M272.0 129.7h.01M280.6 177.0h.01M265.8 177.2h.01M213.2 145.5h.01M265.6 162.0h.01M223.0 136.9h.01M276.6 158.4h.01M232.0 151.9h.01M275.2 119.9h.01M225.5 124.6h.01M274.6 162.6h.01M286.0 131.0h.01M244.9 146.5h.01M274.0 159.5h.01M257.9 142.4h.01M238.3 129.3h.01M258.2 149.9h.01M217.1 172.0h.01M243.3 149.0h.01M219.7 130.8h.01M249.9 188.7h.01M236.6 137.6h.01M209.2 124.2h.01M272.7 159.6h.01M240.0 148.7h.01M258.6 174.3h.01M289.3 136.8h.01M268.0 122.3h.01M271.9 162.9h.01M210.6 134.8h.01M259.6 157.0h.01M260.9 155.5h.01M273.4 179.9h.01M273.6 141.7h.01M282.5 189.9h.01M214.7 126.8h.01M286.5 158.6h.01M257.8 135.6h.01M269.6 121.3h.01M285.8 175.0h.01M241.3 125.0h.01M283.8 155.6h.01M270.2 175.0h.01M220.3 156.9h.01M244.3 175.4h.01M241.4 153.6h.01M290.0 130.0h.01M270.7 127.1h.01M277.7 166.9h.01M279.6 181.4h.01M246.4 170.1h.01M215.7 177.0h.01M245.9 181.4h.01M260.9 172.9h.01M285.5 122.5h.01M211.4 117.2h.01M235.3 151.8h.01M256.0 168.7h.01M287.9 158.9h.01M258.5 127.3h.01M260.5 142.4h.01M238.9 146.8h.01M271.1 114.9h.01M223.9 134.5h.01M284.0 145.3h.01M247.8 172.5h.01M254.9 157.9h.01M256.5 177.1h.01M280.3 127.1h.01M254.3 146.7h.01M220.1 177.1h.01M244.0 140.6h.01M271.9 177.3h.01M220.2 132.3h.01M239.2 135.2h.01M246.1 127.0h.01M217.8 124.1h.01M281.5 137.6h.01M234.7 132.0h.01M224.5 151.5h.01M271.9 166.6h.01M214.8 127.3h.01M285.2 163.4h.01M219.4 122.2h.01M280.1 139.5h.01M217.7 144.4h.01M216.5 121.8h.01M277.7 132.7h.01M262.5 153.5h.01M240.9 137.7h.01M269.8 131.8h.01M268.6 155.6h.01M246.9 173.1h.01M274.8 151.9h.01M248.9 146.1h.01M276.6 118.6h.01M258.7 115.4h.01M222.3 137.5h.01M227.3 144.4h.01M263.6 158.3h.01M225.9 154.7h.01M210.9 130.8h.01" stroke="#ffffff" stroke-width="1.1" stroke-linecap="round" fill="none" stroke-opacity="0.85"/>
<path d="M277.5 171.6h.01M229.1 140.1h.01M216.1 120.9h.01M216.9 120.8h.01M262.4 158.1h.01M273.5 152.2h.01M272.5 139.6h.01M271.8 161.8h.01M233.3 141.0h.01M280.1 161.5h.01M290.9 139.2h.01M258.0 163.9h.01M278.4 189.7h.01M285.4 172.7h.01M215.3 115.3h.01M279.2 158.8h.01M232.5 149.4h.01M228.6 118.0h.01M256.1 148.1h.01M278.2 142.3h.01M258.7 135.6h.01M280.0 170.9h.01M289.8 121.1h.01M217.9 129.1h.01M252.3 188.5h.01M260.1 189.5h.01M270.3 130.0h.01M280.9 172.6h.01M278.6 189.9h.01M274.4 162.5h.01M283.7 128.0h.01M210.0 138.3h.01M219.9 131.1h.01M278.0 160.6h.01M259.6 181.2h.01M265.4 122.1h.01M262.3 146.6h.01M235.7 129.5h.01M249.5 145.7h.01M273.4 129.9h.01M246.8 189.9h.01M288.5 143.2h.01M237.0 142.2h.01M234.7 124.5h.01M289.7 141.1h.01M233.0 146.6h.01M289.0 147.1h.01M264.4 146.5h.01M283.7 163.8h.01M286.7 142.4h.01M248.5 128.5h.01M278.9 169.2h.01M276.8 166.5h.01M268.8 173.1h.01M214.9 131.7h.01M283.8 189.0h.01M245.5 136.9h.01M289.0 157.2h.01M279.2 143.6h.01M275.5 125.7h.01M236.7 144.9h.01M229.1 122.7h.01M239.9 144.0h.01M220.2 127.5h.01M212.8 112.6h.01M267.0 168.6h.01M281.2 190.5h.01M281.0 111.5h.01M267.3 170.7h.01M274.5 174.7h.01M250.1 167.9h.01M246.3 153.1h.01M259.4 152.0h.01M223.3 146.2h.01M277.8 145.4h.01M277.1 187.4h.01M245.5 139.6h.01M241.0 128.5h.01M286.7 155.6h.01M271.9 162.7h.01M262.0 167.6h.01M236.3 143.1h.01M220.9 133.8h.01M251.3 153.7h.01M272.0 179.2h.01M277.3 165.4h.01M214.4 190.5h.01M286.9 138.4h.01M246.7 119.3h.01M222.7 137.7h.01M225.1 142.2h.01M283.9 133.2h.01M229.5 141.6h.01M215.0 141.6h.01M238.2 147.1h.01M274.2 157.1h.01M245.6 141.5h.01M235.8 142.2h.01M270.5 136.0h.01M246.3 128.3h.01M219.3 118.1h.01M244.8 145.8h.01M276.1 124.9h.01M276.7 177.3h.01M266.4 180.8h.01M289.3 162.4h.01M234.2 152.9h.01" stroke="#ffffff" stroke-width="1.7" stroke-linecap="round" fill="none" stroke-opacity="0.85"/>
</g>
<rect x="207.9" y="109.7" width="23.2" height="17.8" fill="#fff" stroke="none" stroke-width="1"/>
<g clip-path="url(#tc4)" stroke="#d8d8d8" stroke-width="0.35" stroke-opacity="0.5">
<line x1="-110.4" y1="109.9" x2="-64" y2="190.5"/>
<line x1="-64" y1="109.9" x2="-110.4" y2="190.5"/>
<line x1="-105.8" y1="109.9" x2="-59.4" y2="190.5"/>
<line x1="-59.4" y1="109.9" x2="-105.8" y2="190.5"/>
<line x1="-101.2" y1="109.9" x2="-54.8" y2="190.5"/>
<line x1="-54.8" y1="109.9" x2="-101.2" y2="190.5"/>
<line x1="-96.6" y1="109.9" x2="-50.2" y2="190.5"/>
<line x1="-50.2" y1="109.9" x2="-96.6" y2="190.5"/>
<line x1="-92" y1="109.9" x2="-45.6" y2="190.5"/>
<line x1="-45.6" y1="109.9" x2="-92" y2="190.5"/>
<line x1="-87.4" y1="109.9" x2="-41" y2="190.5"/>
<line x1="-41" y1="109.9" x2="-87.4" y2="190.5"/>
<line x1="-82.8" y1="109.9" x2="-36.4" y2="190.5"/>
<line x1="-36.4" y1="109.9" x2="-82.8" y2="190.5"/>
<line x1="-78.2" y1="109.9" x2="-31.8" y2="190.5"/>
<line x1="-31.8" y1="109.9" x2="-78.2" y2="190.5"/>
<line x1="-73.6" y1="109.9" x2="-27.2" y2="190.5"/>
<line x1="-27.2" y1="109.9" x2="-73.6" y2="190.5"/>
<line x1="-69" y1="109.9" x2="-22.6" y2="190.5"/>
<line x1="-22.6" y1="109.9" x2="-69" y2="190.5"/>
<line x1="-64.4" y1="109.9" x2="-18" y2="190.5"/>
<line x1="-18" y1="109.9" x2="-64.4" y2="190.5"/>
<line x1="-59.8" y1="109.9" x2="-13.4" y2="190.5"/>
<line x1="-13.4" y1="109.9" x2="-59.8" y2="190.5"/>
<line x1="-55.2" y1="109.9" x2="-8.8" y2="190.5"/>
<line x1="-8.8" y1="109.9" x2="-55.2" y2="190.5"/>
<line x1="-50.6" y1="109.9" x2="-4.2" y2="190.5"/>
<line x1="-4.2" y1="109.9" x2="-50.6" y2="190.5"/>
<line x1="-46" y1="109.9" x2="0.4" y2="190.5"/>
<line x1="0.4" y1="109.9" x2="-46" y2="190.5"/>
<line x1="-41.4" y1="109.9" x2="5" y2="190.5"/>
<line x1="5" y1="109.9" x2="-41.4" y2="190.5"/>
<line x1="-36.8" y1="109.9" x2="9.6" y2="190.5"/>
<line x1="9.6" y1="109.9" x2="-36.8" y2="190.5"/>
<line x1="-32.2" y1="109.9" x2="14.2" y2="190.5"/>
<line x1="14.2" y1="109.9" x2="-32.2" y2="190.5"/>
<line x1="-27.6" y1="109.9" x2="18.8" y2="190.5"/>
<line x1="18.8" y1="109.9" x2="-27.6" y2="190.5"/>
<line x1="-23" y1="109.9" x2="23.4" y2="190.5"/>
<line x1="23.4" y1="109.9" x2="-23" y2="190.5"/>
<line x1="-18.4" y1="109.9" x2="28" y2="190.5"/>
<line x1="28" y1="109.9" x2="-18.4" y2="190.5"/>
<line x1="-13.8" y1="109.9" x2="32.6" y2="190.5"/>
<line x1="32.6" y1="109.9" x2="-13.8" y2="190.5"/>
<line x1="-9.2" y1="109.9" x2="37.2" y2="190.5"/>
<line x1="37.2" y1="109.9" x2="-9.2" y2="190.5"/>
<line x1="-4.6" y1="109.9" x2="41.8" y2="190.5"/>
<line x1="41.8" y1="109.9" x2="-4.6" y2="190.5"/>
<line x1="0" y1="109.9" x2="46.4" y2="190.5"/>
<line x1="46.4" y1="109.9" x2="0" y2="190.5"/>
<line x1="4.6" y1="109.9" x2="51" y2="190.5"/>
<line x1="51" y1="109.9" x2="4.6" y2="190.5"/>
<line x1="9.2" y1="109.9" x2="55.6" y2="190.5"/>
<line x1="55.6" y1="109.9" x2="9.2" y2="190.5"/>
<line x1="13.8" y1="109.9" x2="60.2" y2="190.5"/>
<line x1="60.2" y1="109.9" x2="13.8" y2="190.5"/>
<line x1="18.4" y1="109.9" x2="64.8" y2="190.5"/>
<line x1="64.8" y1="109.9" x2="18.4" y2="190.5"/>
<line x1="23" y1="109.9" x2="69.4" y2="190.5"/>
<line x1="69.4" y1="109.9" x2="23" y2="190.5"/>
<line x1="27.6" y1="109.9" x2="74" y2="190.5"/>
<line x1="74" y1="109.9" x2="27.6" y2="190.5"/>
<line x1="32.2" y1="109.9" x2="78.6" y2="190.5"/>
<line x1="78.6" y1="109.9" x2="32.2" y2="190.5"/>
<line x1="36.8" y1="109.9" x2="83.2" y2="190.5"/>
<line x1="83.2" y1="109.9" x2="36.8" y2="190.5"/>
<line x1="41.4" y1="109.9" x2="87.8" y2="190.5"/>
<line x1="87.8" y1="109.9" x2="41.4" y2="190.5"/>
<line x1="46" y1="109.9" x2="92.4" y2="190.5"/>
<line x1="92.4" y1="109.9" x2="46" y2="190.5"/>
<line x1="50.6" y1="109.9" x2="97" y2="190.5"/>
<line x1="97" y1="109.9" x2="50.6" y2="190.5"/>
<line x1="55.2" y1="109.9" x2="101.6" y2="190.5"/>
<line x1="101.6" y1="109.9" x2="55.2" y2="190.5"/>
<line x1="59.8" y1="109.9" x2="106.2" y2="190.5"/>
<line x1="106.2" y1="109.9" x2="59.8" y2="190.5"/>
<line x1="64.4" y1="109.9" x2="110.8" y2="190.5"/>
<line x1="110.8" y1="109.9" x2="64.4" y2="190.5"/>
<line x1="69" y1="109.9" x2="115.4" y2="190.5"/>
<line x1="115.4" y1="109.9" x2="69" y2="190.5"/>
<line x1="73.6" y1="109.9" x2="120" y2="190.5"/>
<line x1="120" y1="109.9" x2="73.6" y2="190.5"/>
<line x1="78.2" y1="109.9" x2="124.6" y2="190.5"/>
<line x1="124.6" y1="109.9" x2="78.2" y2="190.5"/>
<line x1="82.8" y1="109.9" x2="129.2" y2="190.5"/>
<line x1="129.2" y1="109.9" x2="82.8" y2="190.5"/>
<line x1="87.4" y1="109.9" x2="133.8" y2="190.5"/>
<line x1="133.8" y1="109.9" x2="87.4" y2="190.5"/>
<line x1="92" y1="109.9" x2="138.4" y2="190.5"/>
<line x1="138.4" y1="109.9" x2="92" y2="190.5"/>
<line x1="96.6" y1="109.9" x2="143" y2="190.5"/>
<line x1="143" y1="109.9" x2="96.6" y2="190.5"/>
<line x1="101.2" y1="109.9" x2="147.6" y2="190.5"/>
<line x1="147.6" y1="109.9" x2="101.2" y2="190.5"/>
<line x1="105.8" y1="109.9" x2="152.2" y2="190.5"/>
<line x1="152.2" y1="109.9" x2="105.8" y2="190.5"/>
<line x1="110.4" y1="109.9" x2="156.8" y2="190.5"/>
<line x1="156.8" y1="109.9" x2="110.4" y2="190.5"/>
<line x1="115" y1="109.9" x2="161.4" y2="190.5"/>
<line x1="161.4" y1="109.9" x2="115" y2="190.5"/>
<line x1="119.6" y1="109.9" x2="166" y2="190.5"/>
<line x1="166" y1="109.9" x2="119.6" y2="190.5"/>
<line x1="124.2" y1="109.9" x2="170.6" y2="190.5"/>
<line x1="170.6" y1="109.9" x2="124.2" y2="190.5"/>
<line x1="128.8" y1="109.9" x2="175.2" y2="190.5"/>
<line x1="175.2" y1="109.9" x2="128.8" y2="190.5"/>
<line x1="133.4" y1="109.9" x2="179.8" y2="190.5"/>
<line x1="179.8" y1="109.9" x2="133.4" y2="190.5"/>
<line x1="138" y1="109.9" x2="184.4" y2="190.5"/>
<line x1="184.4" y1="109.9" x2="138" y2="190.5"/>
<line x1="142.6" y1="109.9" x2="189" y2="190.5"/>
<line x1="189" y1="109.9" x2="142.6" y2="190.5"/>
<line x1="147.2" y1="109.9" x2="193.6" y2="190.5"/>
<line x1="193.6" y1="109.9" x2="147.2" y2="190.5"/>
<line x1="151.8" y1="109.9" x2="198.2" y2="190.5"/>
<line x1="198.2" y1="109.9" x2="151.8" y2="190.5"/>
<line x1="156.4" y1="109.9" x2="202.8" y2="190.5"/>
<line x1="202.8" y1="109.9" x2="156.4" y2="190.5"/>
<line x1="161" y1="109.9" x2="207.4" y2="190.5"/>
<line x1="207.4" y1="109.9" x2="161" y2="190.5"/>
<line x1="165.6" y1="109.9" x2="212" y2="190.5"/>
<line x1="212" y1="109.9" x2="165.6" y2="190.5"/>
<line x1="170.2" y1="109.9" x2="216.6" y2="190.5"/>
<line x1="216.6" y1="109.9" x2="170.2" y2="190.5"/>
<line x1="174.8" y1="109.9" x2="221.2" y2="190.5"/>
<line x1="221.2" y1="109.9" x2="174.8" y2="190.5"/>
<line x1="179.4" y1="109.9" x2="225.8" y2="190.5"/>
<line x1="225.8" y1="109.9" x2="179.4" y2="190.5"/>
<line x1="184" y1="109.9" x2="230.4" y2="190.5"/>
<line x1="230.4" y1="109.9" x2="184" y2="190.5"/>
<line x1="188.6" y1="109.9" x2="235" y2="190.5"/>
<line x1="235" y1="109.9" x2="188.6" y2="190.5"/>
<line x1="193.2" y1="109.9" x2="239.6" y2="190.5"/>
<line x1="239.6" y1="109.9" x2="193.2" y2="190.5"/>
<line x1="197.8" y1="109.9" x2="244.2" y2="190.5"/>
<line x1="244.2" y1="109.9" x2="197.8" y2="190.5"/>
<line x1="202.4" y1="109.9" x2="248.8" y2="190.5"/>
<line x1="248.8" y1="109.9" x2="202.4" y2="190.5"/>
<line x1="207" y1="109.9" x2="253.4" y2="190.5"/>
<line x1="253.4" y1="109.9" x2="207" y2="190.5"/>
<line x1="211.6" y1="109.9" x2="258" y2="190.5"/>
<line x1="258" y1="109.9" x2="211.6" y2="190.5"/>
<line x1="216.2" y1="109.9" x2="262.6" y2="190.5"/>
<line x1="262.6" y1="109.9" x2="216.2" y2="190.5"/>
<line x1="220.8" y1="109.9" x2="267.2" y2="190.5"/>
<line x1="267.2" y1="109.9" x2="220.8" y2="190.5"/>
<line x1="225.4" y1="109.9" x2="271.8" y2="190.5"/>
<line x1="271.8" y1="109.9" x2="225.4" y2="190.5"/>
<line x1="230" y1="109.9" x2="276.4" y2="190.5"/>
<line x1="276.4" y1="109.9" x2="230" y2="190.5"/>
<line x1="234.6" y1="109.9" x2="281" y2="190.5"/>
<line x1="281" y1="109.9" x2="234.6" y2="190.5"/>
<line x1="239.2" y1="109.9" x2="285.6" y2="190.5"/>
<line x1="285.6" y1="109.9" x2="239.2" y2="190.5"/>
<line x1="243.8" y1="109.9" x2="290.2" y2="190.5"/>
<line x1="290.2" y1="109.9" x2="243.8" y2="190.5"/>
<line x1="248.4" y1="109.9" x2="294.8" y2="190.5"/>
<line x1="294.8" y1="109.9" x2="248.4" y2="190.5"/>
<line x1="253" y1="109.9" x2="299.4" y2="190.5"/>
<line x1="299.4" y1="109.9" x2="253" y2="190.5"/>
<line x1="27.6" y1="110.2" x2="108.2" y2="110.2"/>
<line x1="27.6" y1="114.2" x2="108.2" y2="114.2"/>
<line x1="27.6" y1="118.2" x2="108.2" y2="118.2"/>
<line x1="27.6" y1="122.2" x2="108.2" y2="122.2"/>
<line x1="27.6" y1="126.2" x2="108.2" y2="126.2"/>
<line x1="27.6" y1="130.2" x2="108.2" y2="130.2"/>
<line x1="27.6" y1="134.2" x2="108.2" y2="134.2"/>
<line x1="27.6" y1="138.2" x2="108.2" y2="138.2"/>
<line x1="27.6" y1="142.2" x2="108.2" y2="142.2"/>
<line x1="27.6" y1="146.2" x2="108.2" y2="146.2"/>
<line x1="27.6" y1="150.2" x2="108.2" y2="150.2"/>
<line x1="27.6" y1="154.2" x2="108.2" y2="154.2"/>
<line x1="27.6" y1="158.2" x2="108.2" y2="158.2"/>
<line x1="27.6" y1="162.2" x2="108.2" y2="162.2"/>
<line x1="27.6" y1="166.2" x2="108.2" y2="166.2"/>
<line x1="27.6" y1="170.2" x2="108.2" y2="170.2"/>
<line x1="27.6" y1="174.2" x2="108.2" y2="174.2"/>
<line x1="27.6" y1="178.2" x2="108.2" y2="178.2"/>
<line x1="27.6" y1="182.2" x2="108.2" y2="182.2"/>
<line x1="27.6" y1="186.2" x2="108.2" y2="186.2"/>
<line x1="27.6" y1="190.2" x2="108.2" y2="190.2"/>
</g>
<rect x="27.4" y="109.7" width="20.6" height="20.2" fill="#fff" stroke="none" stroke-width="1"/>
<line x1="89.2" y1="98.4" x2="105.5" y2="98.4" stroke="#111" stroke-width="1.6"/>
<text x="97.35" y="96.5" font-size="4.6" font-weight="bold" text-anchor="middle" fill="#1a1a1a" stroke="#1a1a1a" stroke-width="0.22" stroke-linejoin="round">100 nm</text>
<line x1="181" y1="98.4" x2="198" y2="98.4" stroke="#111" stroke-width="1.6"/>
<text x="189.5" y="96.5" font-size="4.6" font-weight="bold" text-anchor="middle" fill="#1a1a1a" stroke="#1a1a1a" stroke-width="0.22" stroke-linejoin="round">100 nm</text>
<line x1="266.8" y1="98.4" x2="286.9" y2="98.4" stroke="#111" stroke-width="1.6"/>
<text x="276.85" y="96.5" font-size="4.6" font-weight="bold" text-anchor="middle" fill="#1a1a1a" stroke="#1a1a1a" stroke-width="0.22" stroke-linejoin="round">100 nm</text>
<line x1="86" y1="188" x2="105" y2="188" stroke="#111" stroke-width="1.6"/>
<text x="95.5" y="186.1" font-size="5.2" font-weight="bold" text-anchor="middle" fill="#1a1a1a" stroke="#1a1a1a" stroke-width="0.22" stroke-linejoin="round">100 nm</text>
<line x1="178" y1="187.4" x2="198" y2="187.4" stroke="#111" stroke-width="1.6"/>
<text x="188" y="185.5" font-size="5.2" font-weight="bold" text-anchor="middle" fill="#1a1a1a" stroke="#1a1a1a" stroke-width="0.22" stroke-linejoin="round">100 nm</text>
<line x1="273" y1="187.4" x2="288" y2="187.4" stroke="#111" stroke-width="1.6"/>
<text x="280.5" y="185.5" font-size="4.2" font-weight="bold" text-anchor="middle" fill="#1a1a1a" stroke="#1a1a1a" stroke-width="0.22" stroke-linejoin="round">100 nm</text>
<circle cx="34.2" cy="26.6" r="6.5" fill="url(#gsph)" stroke="none" stroke-width="1"/>
<polygon points="125.4,20.6 131.6,23.4 131.4,31 125.4,35.2 119,31.2 119,23.6" fill="#c98686" stroke="none" stroke-width="1"/>
<polygon points="125.4,20.6 131.6,23.4 125.2,26.6 119,23.6" fill="#e2b0ae" stroke="none" stroke-width="1"/>
<polygon points="125.2,26.6 131.6,23.4 131.4,31 125.4,35.2" fill="#a95c5c" stroke="none" stroke-width="1"/>
<polygon points="213,22.8 221.4,22 225.6,29 221.6,35.4 212.6,36.2 209,29.6" fill="url(#gpk2)" stroke="none" stroke-width="1"/>
<polygon points="212.6,36.2 221.6,35.4 225.6,29 225.6,30.6 221.8,37 212.8,37.6" fill="#a86068" stroke="none" stroke-width="1"/>
<polygon points="29.4,110.8 46.4,119.8 30.4,129" fill="#c88c8c" stroke="none" stroke-width="1"/>
<polygon points="29.4,110.8 46.4,119.8 35.6,121" fill="#e4bab8" stroke="none" stroke-width="1"/>
<polygon points="30.4,129 46.4,119.8 35.6,121" fill="#8e4046" stroke="none" stroke-width="1"/>
<path d="M119.6 130.6 C120.2 119.6 127.0 112.6 136.6 111.0 C135.6 120.6 129.6 128.6 119.6 130.6Z" fill="#b86468" stroke="none" stroke-width="1"/>
<path d="M119.6 130.6 C121.6 122.0 128.0 114.6 136.6 111.0 C132.6 114.6 125.0 123.0 119.6 130.6Z" fill="#ecc4c4" stroke="none" stroke-width="1"/>
<path d="M119.6 130.6 C126.2 127.6 133.8 121.0 136.6 111.0 C135.6 120.6 129.6 128.6 119.6 130.6Z" fill="#8a3a40" stroke="none" stroke-width="1"/>
<polygon points="219.5,110.8 221.6,116.6 227.8,118.8 221.6,121 219.5,126.8 217.4,121 211.2,118.8 217.4,116.6" fill="#a04c50" stroke="none" stroke-width="1"/>
<polygon points="209,110.6 219.5,115.6 230,110.6 224.9,118.8 230,127 219.5,122 209,127 214.1,118.8" fill="#cc8484" stroke="none" stroke-width="1"/>
<polygon points="209,110.6 219.5,115.6 219.5,118.8 214.1,118.8" fill="#dca0a0" stroke="none" stroke-width="1"/>
<polygon points="230,127 219.5,122 219.5,118.8 224.9,118.8" fill="#b05c60" stroke="none" stroke-width="1"/>
<polygon points="219.5,113.6 221.2,117.4 219.5,118.8 217.8,117.4" fill="#9a4448" stroke="none" stroke-width="1"/>
<polygon points="219.5,124 221.2,120.2 219.5,118.8 217.8,120.2" fill="#9a4448" stroke="none" stroke-width="1"/>
<rect x="328.2" y="21.4" width="198" height="145.4" fill="none" stroke="#262626" stroke-width="1.15"/>
<line x1="328.2" y1="166.8" x2="328.2" y2="169.6" stroke="#262626" stroke-width="0.9"/>
<text x="328.2" y="179.2" font-size="7.4" font-weight="bold" text-anchor="middle" fill="#262626" stroke="#262626" stroke-width="0.32" stroke-linejoin="round">1000</text>
<line x1="356.49" y1="166.8" x2="356.49" y2="169.6" stroke="#262626" stroke-width="0.9"/>
<text x="356.49" y="179.2" font-size="7.4" font-weight="bold" text-anchor="middle" fill="#262626" stroke="#262626" stroke-width="0.32" stroke-linejoin="round">2000</text>
<line x1="384.77" y1="166.8" x2="384.77" y2="169.6" stroke="#262626" stroke-width="0.9"/>
<text x="384.77" y="179.2" font-size="7.4" font-weight="bold" text-anchor="middle" fill="#262626" stroke="#262626" stroke-width="0.32" stroke-linejoin="round">3000</text>
<line x1="413.06" y1="166.8" x2="413.06" y2="169.6" stroke="#262626" stroke-width="0.9"/>
<text x="413.06" y="179.2" font-size="7.4" font-weight="bold" text-anchor="middle" fill="#262626" stroke="#262626" stroke-width="0.32" stroke-linejoin="round">4000</text>
<line x1="441.34" y1="166.8" x2="441.34" y2="169.6" stroke="#262626" stroke-width="0.9"/>
<text x="441.34" y="179.2" font-size="7.4" font-weight="bold" text-anchor="middle" fill="#262626" stroke="#262626" stroke-width="0.32" stroke-linejoin="round">5000</text>
<line x1="469.63" y1="166.8" x2="469.63" y2="169.6" stroke="#262626" stroke-width="0.9"/>
<text x="469.63" y="179.2" font-size="7.4" font-weight="bold" text-anchor="middle" fill="#262626" stroke="#262626" stroke-width="0.32" stroke-linejoin="round">6000</text>
<line x1="497.91" y1="166.8" x2="497.91" y2="169.6" stroke="#262626" stroke-width="0.9"/>
<text x="497.91" y="179.2" font-size="7.4" font-weight="bold" text-anchor="middle" fill="#262626" stroke="#262626" stroke-width="0.32" stroke-linejoin="round">7000</text>
<line x1="526.2" y1="166.8" x2="526.2" y2="169.6" stroke="#262626" stroke-width="0.9"/>
<text x="526.2" y="179.2" font-size="7.4" font-weight="bold" text-anchor="middle" fill="#262626" stroke="#262626" stroke-width="0.32" stroke-linejoin="round">8000</text>
<line x1="342.34" y1="166.8" x2="342.34" y2="168.4" stroke="#262626" stroke-width="0.8"/>
<line x1="370.63" y1="166.8" x2="370.63" y2="168.4" stroke="#262626" stroke-width="0.8"/>
<line x1="398.91" y1="166.8" x2="398.91" y2="168.4" stroke="#262626" stroke-width="0.8"/>
<line x1="427.2" y1="166.8" x2="427.2" y2="168.4" stroke="#262626" stroke-width="0.8"/>
<line x1="455.49" y1="166.8" x2="455.49" y2="168.4" stroke="#262626" stroke-width="0.8"/>
<line x1="483.77" y1="166.8" x2="483.77" y2="168.4" stroke="#262626" stroke-width="0.8"/>
<line x1="512.06" y1="166.8" x2="512.06" y2="168.4" stroke="#262626" stroke-width="0.8"/>
<line x1="328.2" y1="166.8" x2="325.4" y2="166.8" stroke="#262626" stroke-width="0.9"/>
<text x="323.6" y="169.5" font-size="7.4" font-weight="bold" text-anchor="end" fill="#262626" stroke="#262626" stroke-width="0.32" stroke-linejoin="round">25</text>
<line x1="328.2" y1="137.72" x2="325.4" y2="137.72" stroke="#262626" stroke-width="0.9"/>
<text x="323.6" y="140.42" font-size="7.4" font-weight="bold" text-anchor="end" fill="#262626" stroke="#262626" stroke-width="0.32" stroke-linejoin="round">30</text>
<line x1="328.2" y1="108.64" x2="325.4" y2="108.64" stroke="#262626" stroke-width="0.9"/>
<text x="323.6" y="111.34" font-size="7.4" font-weight="bold" text-anchor="end" fill="#262626" stroke="#262626" stroke-width="0.32" stroke-linejoin="round">35</text>
<line x1="328.2" y1="79.56" x2="325.4" y2="79.56" stroke="#262626" stroke-width="0.9"/>
<text x="323.6" y="82.26" font-size="7.4" font-weight="bold" text-anchor="end" fill="#262626" stroke="#262626" stroke-width="0.32" stroke-linejoin="round">40</text>
<line x1="328.2" y1="50.48" x2="325.4" y2="50.48" stroke="#262626" stroke-width="0.9"/>
<text x="323.6" y="53.18" font-size="7.4" font-weight="bold" text-anchor="end" fill="#262626" stroke="#262626" stroke-width="0.32" stroke-linejoin="round">45</text>
<line x1="328.2" y1="21.4" x2="325.4" y2="21.4" stroke="#262626" stroke-width="0.9"/>
<text x="323.6" y="24.1" font-size="7.4" font-weight="bold" text-anchor="end" fill="#262626" stroke="#262626" stroke-width="0.32" stroke-linejoin="round">50</text>
<line x1="328.2" y1="152.26" x2="326.6" y2="152.26" stroke="#262626" stroke-width="0.8"/>
<line x1="328.2" y1="123.18" x2="326.6" y2="123.18" stroke="#262626" stroke-width="0.8"/>
<line x1="328.2" y1="94.1" x2="326.6" y2="94.1" stroke="#262626" stroke-width="0.8"/>
<line x1="328.2" y1="65.02" x2="326.6" y2="65.02" stroke="#262626" stroke-width="0.8"/>
<line x1="328.2" y1="35.94" x2="326.6" y2="35.94" stroke="#262626" stroke-width="0.8"/>
<text x="427.6" y="192.4" font-size="9" font-weight="bold" text-anchor="middle" fill="#262626" stroke="#262626" stroke-width="0.32" stroke-linejoin="round">Number of effective metals on exposed faces (n)</text>
<text transform="translate(310.6 94.6) rotate(-90)" font-size="10.3" font-weight="bold" text-anchor="middle" fill="#262626" stroke="#262626" stroke-width="0.32" stroke-linejoin="round"><tspan font-style="italic">r</tspan><tspan font-size="6.8" dy="2">1</tspan><tspan dy="-2"> (mM</tspan><tspan font-size="6.6" dy="-3.6">-1</tspan><tspan dy="3.6">s</tspan><tspan font-size="6.6" dy="-3.6">-1</tspan><tspan dy="3.6">)</tspan></text>
<path d="M348 143.5 L349.41 136.7 L350.83 130.34 L352.24 124.4 L353.66 118.84 L355.07 113.64 L356.49 108.78 L357.9 104.23 L359.31 99.98 L360.73 96.01 L362.14 92.29 L363.56 88.82 L364.97 85.57 L366.39 82.53 L367.8 79.69 L369.21 77.04 L370.63 74.56 L372.04 72.24 L373.46 70.07 L374.87 68.04 L376.29 66.14 L377.7 64.37 L379.11 62.71 L380.53 61.16 L381.94 59.71 L383.36 58.35 L384.77 57.08 L386.19 55.9 L387.6 54.79 L389.01 53.75 L390.43 52.79 L391.84 51.88 L393.26 51.03 L394.67 50.24 L396.09 49.5 L397.5 48.81 L398.91 48.16 L400.33 47.55 L401.74 46.99 L403.16 46.46 L404.57 45.97 L405.99 45.5 L407.4 45.07 L408.81 44.67 L410.23 44.29 L411.64 43.93 L413.06 43.6 L414.47 43.29 L415.89 43.01 L417.3 42.74 L418.71 42.48 L420.13 42.25 L421.54 42.03 L422.96 41.82 L424.37 41.63 L425.79 41.45 L427.2 41.28 L428.61 41.12 L430.03 40.97 L431.44 40.83 L432.86 40.7 L434.27 40.58 L435.69 40.47 L437.1 40.37 L438.51 40.27 L439.93 40.17 L441.34 40.09 L442.76 40.01 L444.17 39.93 L445.59 39.86 L447 39.8 L448.41 39.73 L449.83 39.68 L451.24 39.62 L452.66 39.57 L454.07 39.53 L455.49 39.48 L456.9 39.44 L458.31 39.4 L459.73 39.37 L461.14 39.33 L462.56 39.3 L463.97 39.27 L465.39 39.24 L466.8 39.22 L468.21 39.19 L469.63 39.17 L471.04 39.15 L472.46 39.13 L473.87 39.11 L475.29 39.1 L476.7 39.08 L478.11 39.06 L479.53 39.05 L480.94 39.04 L482.36 39.02 L483.77 39.01 L485.19 39 L486.6 38.99 L488.01 38.98 L489.43 38.97 L490.84 38.97 L492.26 38.96 L493.67 38.95 L495.09 38.94 L496.5 38.94 L497.91 38.93 L499.33 38.93 L500.74 38.92 L502.16 38.92 L503.57 38.91 L504.99 38.91 L506.4 38.9 L507.81 38.9" fill="none" stroke="#e29a3c" stroke-width="1.5" stroke-linejoin="round"/>
<circle cx="348" cy="143.54" r="2" fill="#bff" stroke="#5fd8e0" stroke-width="0.9"/>
<polygon points="390.43,49.81 393.23,52.81 390.43,55.81 387.63,52.81" fill="#1018c8" stroke="none" stroke-width="1"/>
<polygon points="417.3,42.06 420,46.46 414.6,46.46" fill="#1a8a20" stroke="none" stroke-width="1"/>
<circle cx="422.14" cy="42.34" r="2.5" fill="#e828d8" stroke="none" stroke-width="1"/>
<polygon points="508.6,36.2 509.25,37.91 511.07,38 509.65,39.14 510.13,40.9 508.6,39.9 507.07,40.9 507.55,39.14 506.13,38 507.95,37.91" fill="#e29a3c" stroke="none" stroke-width="1"/>
<text x="413.6" y="47" font-size="9.1" font-weight="normal" text-anchor="end" fill="#1a1a1a" stroke="#1a1a1a" stroke-width="0.2">Tetrahedrons</text>
<text x="386.6" y="66" font-size="9" font-weight="normal" text-anchor="start" fill="#1a1a1a" stroke="#1a1a1a" stroke-width="0.25">Rhombohedra</text>
<text x="419.4" y="38.4" font-size="9" font-weight="normal" text-anchor="start" fill="#1a1a1a" stroke="#1a1a1a" stroke-width="0.25">Plates</text>
<text x="487" y="34.2" font-size="8.9" font-weight="normal" text-anchor="start" fill="#1a1a1a" stroke="#1a1a1a" stroke-width="0.25">Octapods</text>
<text x="345.8" y="154.4" font-size="8.9" font-weight="normal" text-anchor="start" fill="#1a1a1a" stroke="#1a1a1a" stroke-width="0.25">Cubes</text>
<text x="482" y="54.6" font-size="9" font-weight="normal" text-anchor="start" fill="#e29a3c" stroke="#e29a3c" stroke-width="0.3">R²=0.993</text>
<text x="78.75" y="230.4" font-size="8.3" font-weight="normal" text-anchor="middle" fill="#222">IO-16</text>
<text x="147.25" y="230.4" font-size="8.3" font-weight="normal" text-anchor="middle" fill="#222">IOP-4.8</text>
<text x="215.65" y="230.4" font-size="8.3" font-weight="normal" text-anchor="middle" fill="#222">IO-21</text>
<text x="283.45" y="230.4" font-size="8.3" font-weight="normal" text-anchor="middle" fill="#222">IOP-8.8</text>
<text x="13.2" y="266.4" font-size="8.25" font-weight="normal" text-anchor="start" fill="#222">d = 2 nm</text>
<text x="13" y="334.8" font-size="8.25" font-weight="normal" text-anchor="start" fill="#222">d = 4 nm</text>
<rect x="47.6" y="234.2" width="60.5" height="60.5" fill="#2410ce" stroke="none" stroke-width="1"/>
<g clip-path="url(#hc00)">
<ellipse cx="77.45" cy="265.05" rx="21" ry="24" fill="url(#hg00)"/>
<ellipse cx="77.45" cy="265.05" rx="7" ry="13.5" fill="url(#hg00b)"/>
</g>
<g clip-path="url(#hc00)" opacity="0.55"><use href="#fl" x="77.85" y="264.45"/></g>
<rect x="116.1" y="234.2" width="60.5" height="60.5" fill="#2410ce" stroke="none" stroke-width="1"/>
<g clip-path="url(#hc01)">
<ellipse cx="146.35" cy="264.45" rx="26" ry="24" fill="url(#hg01)"/>
<g filter="url(#hblur2)" fill="none" stroke-linecap="round" stroke-linejoin="round">
<path d="M137.85 251.95 L130.85 264.45 L137.85 276.95" stroke="#1c8cff" stroke-width="9" stroke-opacity="0.7"/>
<path d="M154.85 251.95 L161.85 264.45 L154.85 276.95" stroke="#1c8cff" stroke-width="9" stroke-opacity="0.7"/>
</g><g filter="url(#hblur1)" fill="none" stroke-linecap="round" stroke-linejoin="round">
<path d="M137.55 252.45 L131.15 264.45 L137.55 276.45" stroke="#1cd8ff" stroke-width="4.4" stroke-opacity="1"/>
<path d="M155.15 252.45 L161.55 264.45 L155.15 276.45" stroke="#1cd8ff" stroke-width="4.4" stroke-opacity="1"/>
</g>
</g>
<g clip-path="url(#hc01)" opacity="0.55"><use href="#fl" x="146.35" y="264.45"/></g>
<rect x="184.5" y="234.2" width="60.5" height="60.5" fill="#2410ce" stroke="none" stroke-width="1"/>
<g clip-path="url(#hc02)">
<ellipse cx="214.75" cy="264.45" rx="26" ry="30" fill="url(#hg02)"/>
<ellipse cx="214.55" cy="264.45" rx="10.5" ry="15.5" fill="url(#hg02b)"/>
<ellipse cx="214.55" cy="264.45" rx="0.9" ry="4.6" fill="#f41c10" opacity="0.9" filter="url(#hblur1)"/>
</g>
<g clip-path="url(#hc02)" opacity="0.55"><use href="#fl" x="214.75" y="264.45"/></g>
<rect x="252.3" y="234.2" width="60.5" height="60.5" fill="#2410ce" stroke="none" stroke-width="1"/>
<g clip-path="url(#hc03)">
<ellipse cx="282.55" cy="264.45" rx="31" ry="29" fill="url(#hg03)"/>
<polygon points="266.55,264.45 273.55,251.95 291.55,251.95 298.55,264.45 291.55,277.45 273.55,277.45" fill="#22c0ff" filter="url(#hblur2)"/>
<g filter="url(#hblur2)" fill="none" stroke-linecap="round" stroke-linejoin="round">
<path d="M272.95 252.05 L266.35 264.45 L272.95 276.85" stroke="#28f0d0" stroke-width="6.4" stroke-opacity="1"/>
<path d="M292.15 252.05 L298.75 264.45 L292.15 276.85" stroke="#28f0d0" stroke-width="6.4" stroke-opacity="1"/>
</g><g filter="url(#hblur1)" fill="none" stroke-linecap="round" stroke-linejoin="round">
<path d="M272.35 253.45 L266.35 264.45 L272.35 275.45" stroke="#a0f040" stroke-width="2.8" stroke-opacity="1"/>
<path d="M292.75 253.45 L298.75 264.45 L292.75 275.45" stroke="#a0f040" stroke-width="2.8" stroke-opacity="1"/>
<path d="M271.55 255.95 L266.35 264.45 L271.55 272.95" stroke="#f8b818" stroke-width="1.3" stroke-opacity="1"/>
<path d="M293.55 255.95 L298.75 264.45 L293.55 272.95" stroke="#f8b818" stroke-width="1.3" stroke-opacity="1"/>
</g>
</g>
<g clip-path="url(#hc03)" opacity="0.55"><use href="#fl" x="282.55" y="264.45"/></g>
<rect x="47.6" y="301.8" width="60.5" height="60" fill="#2410ce" stroke="none" stroke-width="1"/>
<g clip-path="url(#hc10)">
<ellipse cx="77.45" cy="332.8" rx="21" ry="25" fill="url(#hg10)"/>
<ellipse cx="77.45" cy="332.8" rx="9" ry="13" fill="url(#hg10b)"/>
</g>
<g clip-path="url(#hc10)" opacity="0.55"><use href="#fl" x="77.85" y="331.8"/></g>
<rect x="116.1" y="301.8" width="60.5" height="60" fill="#2410ce" stroke="none" stroke-width="1"/>
<g clip-path="url(#hc11)">
<ellipse cx="146.35" cy="332.8" rx="27" ry="26" fill="url(#hg11)"/>
<g filter="url(#hblur3)" fill="none" stroke-linecap="round" stroke-linejoin="round">
<path d="M137.35 321.8 L131.85 332.8 L137.35 343.8" stroke="#1c98ff" stroke-width="6.5" stroke-opacity="0.9"/>
<path d="M155.35 321.8 L160.85 332.8 L155.35 343.8" stroke="#1c98ff" stroke-width="6.5" stroke-opacity="0.9"/>
</g>
</g>
<g clip-path="url(#hc11)" opacity="0.55"><use href="#fl" x="146.35" y="331.8"/></g>
<rect x="184.5" y="301.8" width="60.5" height="60" fill="#2410ce" stroke="none" stroke-width="1"/>
<g clip-path="url(#hc12)">
<ellipse cx="214.75" cy="332.8" rx="24" ry="29" fill="url(#hg12)"/>
<ellipse cx="214.75" cy="332.8" rx="9.5" ry="16" fill="url(#hg12b)"/>
</g>
<g clip-path="url(#hc12)" opacity="0.55"><use href="#fl" x="214.75" y="331.8"/></g>
<rect x="252.3" y="301.8" width="60.5" height="60" fill="#2410ce" stroke="none" stroke-width="1"/>
<g clip-path="url(#hc13)">
<ellipse cx="282.55" cy="332.8" rx="29" ry="27" fill="url(#hg13)"/>
<g filter="url(#hblur3)" fill="none" stroke-linecap="round" stroke-linejoin="round">
<path d="M273.05 322.8 L269.05 332.8 L273.05 342.8" stroke="#24f4f0" stroke-width="7" stroke-opacity="0.9"/>
<path d="M292.05 322.8 L296.05 332.8 L292.05 342.8" stroke="#24f4f0" stroke-width="7" stroke-opacity="0.9"/>
</g>
</g>
<g clip-path="url(#hc13)" opacity="0.55"><use href="#fl" x="282.55" y="331.8"/></g>
<rect x="320.2" y="235" width="6.6" height="60.4" fill="url(#jet)" stroke="none" stroke-width="1"/>
<line x1="327.2" y1="247.1" x2="329.4" y2="247.1" stroke="#a66" stroke-width="0.5"/>
<line x1="327.2" y1="259.2" x2="329.4" y2="259.2" stroke="#a66" stroke-width="0.5"/>
<line x1="327.2" y1="271.3" x2="329.4" y2="271.3" stroke="#a66" stroke-width="0.5"/>
<line x1="327.2" y1="283.4" x2="329.4" y2="283.4" stroke="#a66" stroke-width="0.5"/>
<ellipse cx="82.5" cy="432.8" rx="31" ry="51" stroke="#a4a4a4" stroke-width="0.9" stroke-dasharray="3.2 2.2" fill="none" transform="rotate(0 82.5 432.8)"/>
<ellipse cx="138.3" cy="432.8" rx="31" ry="51" stroke="#a4a4a4" stroke-width="0.9" stroke-dasharray="3.2 2.2" fill="none" transform="rotate(0 138.3 432.8)"/>
<ellipse cx="85" cy="432.8" rx="23.5" ry="44" stroke="#a4a4a4" stroke-width="0.9" stroke-dasharray="3.2 2.2" fill="none" transform="rotate(0 85 432.8)"/>
<ellipse cx="135.8" cy="432.8" rx="23.5" ry="44" stroke="#a4a4a4" stroke-width="0.9" stroke-dasharray="3.2 2.2" fill="none" transform="rotate(0 135.8 432.8)"/>
<polygon points="51.5,419.6 49.7,423.6 53.3,423.6" fill="#a8a8a8" stroke="none" stroke-width="1"/>
<polygon points="61.5,419.6 59.7,423.6 63.3,423.6" fill="#a8a8a8" stroke="none" stroke-width="1"/>
<polygon points="159.3,438.4 157.5,434.4 161.1,434.4" fill="#a8a8a8" stroke="none" stroke-width="1"/>
<polygon points="169.3,438.4 167.5,434.4 171.1,434.4" fill="#a8a8a8" stroke="none" stroke-width="1"/>
<circle cx="110.4" cy="433.3" r="41.8" fill="#bcd5f0" stroke="none" stroke-width="1"/>
<polygon points="94.5,455 132.4,425.4 143.3,410.8 143.3,414.4 132.7,429.6 95.5,458" fill="#48647c" stroke="none" stroke-width="1"/>
<polygon points="78.7,452.6 94.5,455 95.5,458 82.7,457 78.7,454.4" fill="#3a546a" stroke="none" stroke-width="1"/>
<polygon points="78.7,452.6 131.8,411.4 139.1,407.7 143.3,410.8 132.4,425.4 94.5,455" fill="#6b889e" stroke="none" stroke-width="1"/>
<polygon points="105.1,396.8 113.1,396.8 114.9,419.5 114.9,430.5 114.2,468.6 105.5,468.6 104.2,439.5 104.2,421.4" fill="url(#plt1)" stroke="none" stroke-width="1"/>
<circle cx="65.2" cy="410.6" r="3.1" fill="url(#wr)" stroke="none" stroke-width="1"/>
<circle cx="62.34" cy="412.25" r="2.4" fill="url(#ww)" stroke="#a8a8a8" stroke-width="0.25"/>
<circle cx="64.07" cy="407.5" r="2.4" fill="url(#ww)" stroke="#a8a8a8" stroke-width="0.25"/>
<circle cx="92.4" cy="416" r="3.1" fill="url(#wr)" stroke="none" stroke-width="1"/>
<circle cx="90.75" cy="413.14" r="2.4" fill="url(#ww)" stroke="#a8a8a8" stroke-width="0.25"/>
<circle cx="95.5" cy="414.87" r="2.4" fill="url(#ww)" stroke="#a8a8a8" stroke-width="0.25"/>
<circle cx="81.6" cy="437.8" r="3.1" fill="url(#wr)" stroke="none" stroke-width="1"/>
<circle cx="79.07" cy="439.92" r="2.4" fill="url(#ww)" stroke="#a8a8a8" stroke-width="0.25"/>
<circle cx="79.95" cy="434.94" r="2.4" fill="url(#ww)" stroke="#a8a8a8" stroke-width="0.25"/>
<circle cx="157.2" cy="415" r="3.1" fill="url(#wr)" stroke="none" stroke-width="1"/>
<circle cx="157.77" cy="411.75" r="2.4" fill="url(#ww)" stroke="#a8a8a8" stroke-width="0.25"/>
<circle cx="160.3" cy="416.13" r="2.4" fill="url(#ww)" stroke="#a8a8a8" stroke-width="0.25"/>
<circle cx="140" cy="439.6" r="3.1" fill="url(#wr)" stroke="none" stroke-width="1"/>
<circle cx="137.14" cy="441.25" r="2.4" fill="url(#ww)" stroke="#a8a8a8" stroke-width="0.25"/>
<circle cx="138.87" cy="436.5" r="2.4" fill="url(#ww)" stroke="#a8a8a8" stroke-width="0.25"/>
<circle cx="123" cy="459" r="3.1" fill="url(#wr)" stroke="none" stroke-width="1"/>
<circle cx="123.57" cy="455.75" r="2.4" fill="url(#ww)" stroke="#a8a8a8" stroke-width="0.25"/>
<circle cx="126.1" cy="460.13" r="2.4" fill="url(#ww)" stroke="#a8a8a8" stroke-width="0.25"/>
<circle cx="70" cy="472.2" r="3.1" fill="url(#wr)" stroke="none" stroke-width="1"/>
<circle cx="66.9" cy="471.07" r="2.4" fill="url(#ww)" stroke="#a8a8a8" stroke-width="0.25"/>
<circle cx="71.65" cy="469.34" r="2.4" fill="url(#ww)" stroke="#a8a8a8" stroke-width="0.25"/>
<line x1="34.5" y1="456.8" x2="34.5" y2="421" stroke="#0c0c0c" stroke-width="3"/>
<polygon points="34.5,414.6 38.4,422 30.6,422" fill="#0c0c0c" stroke="none" stroke-width="1"/>
<text transform="translate(28.0 444.6) rotate(-90)" font-size="10" font-weight="bold" text-anchor="start" fill="#111" stroke="#111" stroke-width="0.32" stroke-linejoin="round">H<tspan font-size="9" dy="2.2">0</tspan></text>
<line x1="68.7" y1="495.2" x2="102" y2="495.2" stroke="#444" stroke-width="0.9"/>
<line x1="120.4" y1="495.2" x2="152.4" y2="495.2" stroke="#444" stroke-width="0.9"/>
<line x1="68.7" y1="490" x2="68.7" y2="500.4" stroke="#444" stroke-width="0.9"/>
<line x1="152.4" y1="490" x2="152.4" y2="500.4" stroke="#444" stroke-width="0.9"/>
<text x="111.2" y="498.8" font-size="10.4" text-anchor="middle" fill="#333">2<tspan font-style="italic">R</tspan></text>
<circle cx="169.2" cy="478.2" r="6.6" fill="#bcd5f0" stroke="none" stroke-width="1"/>
<text x="178.8" y="481.4" font-size="8.6" font-weight="normal" text-anchor="start" fill="#222">Effective region</text>
<ellipse cx="247" cy="428.8" rx="16" ry="27" stroke="#a8a8a8" stroke-width="0.7" stroke-dasharray="3.2 2.2" fill="none" transform="rotate(0 247 428.8)"/>
<ellipse cx="289.4" cy="428.8" rx="16" ry="27" stroke="#a8a8a8" stroke-width="0.7" stroke-dasharray="3.2 2.2" fill="none" transform="rotate(0 289.4 428.8)"/>
<ellipse cx="245.25" cy="428.8" rx="21" ry="33" stroke="#a8a8a8" stroke-width="0.7" stroke-dasharray="3.2 2.2" fill="none" transform="rotate(0 245.25 428.8)"/>
<ellipse cx="291.15" cy="428.8" rx="21" ry="33" stroke="#a8a8a8" stroke-width="0.7" stroke-dasharray="3.2 2.2" fill="none" transform="rotate(0 291.15 428.8)"/>
<circle cx="268.2" cy="428.8" r="25.6" fill="#bcd5f0" stroke="none" stroke-width="1"/>
<circle cx="268.2" cy="428.8" r="23.6" fill="url(#sphb)" stroke="none" stroke-width="1"/>
<circle cx="245.2" cy="401" r="3.1" fill="url(#wr)" stroke="none" stroke-width="1"/>
<circle cx="242.34" cy="402.65" r="2.4" fill="url(#ww)" stroke="#a8a8a8" stroke-width="0.25"/>
<circle cx="244.07" cy="397.9" r="2.4" fill="url(#ww)" stroke="#a8a8a8" stroke-width="0.25"/>
<circle cx="297.8" cy="407.8" r="3.1" fill="url(#wr)" stroke="none" stroke-width="1"/>
<circle cx="298.37" cy="404.55" r="2.4" fill="url(#ww)" stroke="#a8a8a8" stroke-width="0.25"/>
<circle cx="300.9" cy="408.93" r="2.4" fill="url(#ww)" stroke="#a8a8a8" stroke-width="0.25"/>
<circle cx="235" cy="443.4" r="3.1" fill="url(#wr)" stroke="none" stroke-width="1"/>
<circle cx="233.87" cy="446.5" r="2.4" fill="url(#ww)" stroke="#a8a8a8" stroke-width="0.25"/>
<circle cx="232.14" cy="441.75" r="2.4" fill="url(#ww)" stroke="#a8a8a8" stroke-width="0.25"/>
<circle cx="292.8" cy="452" r="3.1" fill="url(#wr)" stroke="none" stroke-width="1"/>
<circle cx="295.66" cy="450.35" r="2.4" fill="url(#ww)" stroke="#a8a8a8" stroke-width="0.25"/>
<circle cx="293.93" cy="455.1" r="2.4" fill="url(#ww)" stroke="#a8a8a8" stroke-width="0.25"/>
<line x1="243.6" y1="489" x2="261.4" y2="489" stroke="#444" stroke-width="0.9"/>
<line x1="274.4" y1="489" x2="291.6" y2="489" stroke="#444" stroke-width="0.9"/>
<line x1="243.6" y1="484" x2="243.6" y2="494" stroke="#444" stroke-width="0.9"/>
<line x1="291.6" y1="484" x2="291.6" y2="494" stroke="#444" stroke-width="0.9"/>
<text x="267.8" y="492.6" font-size="10.4" text-anchor="middle" fill="#333">2<tspan font-style="italic">r</tspan></text>
<rect x="362.8" y="221.4" width="169.4" height="124.7" fill="none" stroke="#484848" stroke-width="1.35"/>
<line x1="362.8" y1="346.1" x2="360.4" y2="346.1" stroke="#3a3a3a" stroke-width="0.8"/>
<text x="359.2" y="349" font-size="8.1" font-weight="bold" text-anchor="end" fill="#262626" stroke="#262626" stroke-width="0.32" stroke-linejoin="round">0</text>
<line x1="362.8" y1="342.98" x2="361.5" y2="342.98" stroke="#3a3a3a" stroke-width="0.5"/>
<line x1="362.8" y1="339.87" x2="361.5" y2="339.87" stroke="#3a3a3a" stroke-width="0.5"/>
<line x1="362.8" y1="336.75" x2="361.5" y2="336.75" stroke="#3a3a3a" stroke-width="0.5"/>
<line x1="362.8" y1="333.63" x2="361.5" y2="333.63" stroke="#3a3a3a" stroke-width="0.5"/>
<line x1="362.8" y1="330.51" x2="360.4" y2="330.51" stroke="#3a3a3a" stroke-width="0.8"/>
<text x="359.2" y="333.41" font-size="8.1" font-weight="bold" text-anchor="end" fill="#262626" stroke="#262626" stroke-width="0.32" stroke-linejoin="round">5</text>
<line x1="362.8" y1="327.4" x2="361.5" y2="327.4" stroke="#3a3a3a" stroke-width="0.5"/>
<line x1="362.8" y1="324.28" x2="361.5" y2="324.28" stroke="#3a3a3a" stroke-width="0.5"/>
<line x1="362.8" y1="321.16" x2="361.5" y2="321.16" stroke="#3a3a3a" stroke-width="0.5"/>
<line x1="362.8" y1="318.04" x2="361.5" y2="318.04" stroke="#3a3a3a" stroke-width="0.5"/>
<line x1="362.8" y1="314.93" x2="360.4" y2="314.93" stroke="#3a3a3a" stroke-width="0.8"/>
<text x="359.2" y="317.82" font-size="8.1" font-weight="bold" text-anchor="end" fill="#262626" stroke="#262626" stroke-width="0.32" stroke-linejoin="round">10</text>
<line x1="362.8" y1="311.81" x2="361.5" y2="311.81" stroke="#3a3a3a" stroke-width="0.5"/>
<line x1="362.8" y1="308.69" x2="361.5" y2="308.69" stroke="#3a3a3a" stroke-width="0.5"/>
<line x1="362.8" y1="305.57" x2="361.5" y2="305.57" stroke="#3a3a3a" stroke-width="0.5"/>
<line x1="362.8" y1="302.46" x2="361.5" y2="302.46" stroke="#3a3a3a" stroke-width="0.5"/>
<line x1="362.8" y1="299.34" x2="360.4" y2="299.34" stroke="#3a3a3a" stroke-width="0.8"/>
<text x="359.2" y="302.24" font-size="8.1" font-weight="bold" text-anchor="end" fill="#262626" stroke="#262626" stroke-width="0.32" stroke-linejoin="round">15</text>
<line x1="362.8" y1="296.22" x2="361.5" y2="296.22" stroke="#3a3a3a" stroke-width="0.5"/>
<line x1="362.8" y1="293.1" x2="361.5" y2="293.1" stroke="#3a3a3a" stroke-width="0.5"/>
<line x1="362.8" y1="289.99" x2="361.5" y2="289.99" stroke="#3a3a3a" stroke-width="0.5"/>
<line x1="362.8" y1="286.87" x2="361.5" y2="286.87" stroke="#3a3a3a" stroke-width="0.5"/>
<line x1="362.8" y1="283.75" x2="360.4" y2="283.75" stroke="#3a3a3a" stroke-width="0.8"/>
<text x="359.2" y="286.65" font-size="8.1" font-weight="bold" text-anchor="end" fill="#262626" stroke="#262626" stroke-width="0.32" stroke-linejoin="round">20</text>
<line x1="362.8" y1="280.63" x2="361.5" y2="280.63" stroke="#3a3a3a" stroke-width="0.5"/>
<line x1="362.8" y1="277.51" x2="361.5" y2="277.51" stroke="#3a3a3a" stroke-width="0.5"/>
<line x1="362.8" y1="274.4" x2="361.5" y2="274.4" stroke="#3a3a3a" stroke-width="0.5"/>
<line x1="362.8" y1="271.28" x2="361.5" y2="271.28" stroke="#3a3a3a" stroke-width="0.5"/>
<line x1="362.8" y1="268.16" x2="360.4" y2="268.16" stroke="#3a3a3a" stroke-width="0.8"/>
<text x="359.2" y="271.06" font-size="8.1" font-weight="bold" text-anchor="end" fill="#262626" stroke="#262626" stroke-width="0.32" stroke-linejoin="round">25</text>
<line x1="362.8" y1="265.05" x2="361.5" y2="265.05" stroke="#3a3a3a" stroke-width="0.5"/>
<line x1="362.8" y1="261.93" x2="361.5" y2="261.93" stroke="#3a3a3a" stroke-width="0.5"/>
<line x1="362.8" y1="258.81" x2="361.5" y2="258.81" stroke="#3a3a3a" stroke-width="0.5"/>
<line x1="362.8" y1="255.69" x2="361.5" y2="255.69" stroke="#3a3a3a" stroke-width="0.5"/>
<line x1="362.8" y1="252.58" x2="360.4" y2="252.58" stroke="#3a3a3a" stroke-width="0.8"/>
<text x="359.2" y="255.48" font-size="8.1" font-weight="bold" text-anchor="end" fill="#262626" stroke="#262626" stroke-width="0.32" stroke-linejoin="round">30</text>
<line x1="362.8" y1="249.46" x2="361.5" y2="249.46" stroke="#3a3a3a" stroke-width="0.5"/>
<line x1="362.8" y1="246.34" x2="361.5" y2="246.34" stroke="#3a3a3a" stroke-width="0.5"/>
<line x1="362.8" y1="243.22" x2="361.5" y2="243.22" stroke="#3a3a3a" stroke-width="0.5"/>
<line x1="362.8" y1="240.11" x2="361.5" y2="240.11" stroke="#3a3a3a" stroke-width="0.5"/>
<line x1="362.8" y1="236.99" x2="360.4" y2="236.99" stroke="#3a3a3a" stroke-width="0.8"/>
<text x="359.2" y="239.89" font-size="8.1" font-weight="bold" text-anchor="end" fill="#262626" stroke="#262626" stroke-width="0.32" stroke-linejoin="round">35</text>
<line x1="362.8" y1="233.87" x2="361.5" y2="233.87" stroke="#3a3a3a" stroke-width="0.5"/>
<line x1="362.8" y1="230.75" x2="361.5" y2="230.75" stroke="#3a3a3a" stroke-width="0.5"/>
<line x1="362.8" y1="227.63" x2="361.5" y2="227.63" stroke="#3a3a3a" stroke-width="0.5"/>
<line x1="362.8" y1="224.52" x2="361.5" y2="224.52" stroke="#3a3a3a" stroke-width="0.5"/>
<line x1="362.8" y1="221.4" x2="360.4" y2="221.4" stroke="#3a3a3a" stroke-width="0.8"/>
<text x="359.2" y="224.3" font-size="8.1" font-weight="bold" text-anchor="end" fill="#262626" stroke="#262626" stroke-width="0.32" stroke-linejoin="round">40</text>
<line x1="391" y1="346.1" x2="391" y2="348.7" stroke="#3a3a3a" stroke-width="0.8"/>
<text x="391" y="357.6" font-size="8.6" font-weight="bold" text-anchor="middle" fill="#262626" stroke="#262626" stroke-width="0.32" stroke-linejoin="round">511</text>
<line x1="447.8" y1="346.1" x2="447.8" y2="348.7" stroke="#3a3a3a" stroke-width="0.8"/>
<text x="447.8" y="357.6" font-size="8.6" font-weight="bold" text-anchor="middle" fill="#262626" stroke="#262626" stroke-width="0.32" stroke-linejoin="round">2137</text>
<line x1="504.2" y1="346.1" x2="504.2" y2="348.7" stroke="#3a3a3a" stroke-width="0.8"/>
<text x="504.2" y="357.6" font-size="8.6" font-weight="bold" text-anchor="middle" fill="#262626" stroke="#262626" stroke-width="0.32" stroke-linejoin="round">4841</text>
<text x="447.0" y="367.8" font-size="8.3" font-weight="bold" text-anchor="middle" fill="#262626" stroke="#262626" stroke-width="0.32" stroke-linejoin="round">Solid volume (nm<tspan font-size="5.6" dy="-3.2">3</tspan><tspan dy="3.2">)</tspan></text>
<text transform="translate(344.0 279.4) rotate(-90)" font-size="8.8" font-weight="bold" text-anchor="middle" fill="#262626" stroke="#262626" stroke-width="0.32" stroke-linejoin="round">Effective diameter (nm)</text>
<path d="M391 277.51 L447.8 258.81 L504.2 240.11" fill="none" stroke="#e84c3c" stroke-width="1.3"/>
<path d="M391 314.93 L447.8 296.22 L504.2 280.63" fill="none" stroke="#303030" stroke-width="1.3"/>
<circle cx="391" cy="277.51" r="3.2" fill="#f8921c" stroke="none" stroke-width="1"/>
<circle cx="447.8" cy="258.81" r="3.2" fill="#1414d8" stroke="none" stroke-width="1"/>
<circle cx="504.2" cy="240.11" r="3.2" fill="#20dc38" stroke="none" stroke-width="1"/>
<circle cx="391" cy="314.93" r="2.7" fill="#fff" stroke="#f0b060" stroke-width="1"/>
<circle cx="447.8" cy="296.22" r="2.7" fill="#fff" stroke="#3434cc" stroke-width="1"/>
<circle cx="504.2" cy="280.63" r="2.7" fill="#fff" stroke="#38cc58" stroke-width="1"/>
<text x="380.2" y="269.6" font-size="8.6" font-weight="bold" text-anchor="start" fill="#262626" stroke="#262626" stroke-width="0.32" stroke-linejoin="round">IOP-2.8</text>
<text x="431" y="251.4" font-size="8.6" font-weight="bold" text-anchor="start" fill="#262626" stroke="#262626" stroke-width="0.32" stroke-linejoin="round">IOP-4.8</text>
<text x="496" y="235.4" font-size="8.6" font-weight="bold" text-anchor="start" fill="#262626" stroke="#262626" stroke-width="0.32" stroke-linejoin="round">IOP-8.8</text>
<text x="384.6" y="328" font-size="8.6" font-weight="bold" text-anchor="start" fill="#262626" stroke="#262626" stroke-width="0.32" stroke-linejoin="round">IO-10</text>
<text x="441.8" y="309.2" font-size="8.6" font-weight="bold" text-anchor="start" fill="#262626" stroke="#262626" stroke-width="0.32" stroke-linejoin="round">IO-16</text>
<text x="502" y="297.2" font-size="8.6" font-weight="bold" text-anchor="start" fill="#262626" stroke="#262626" stroke-width="0.32" stroke-linejoin="round">IO-21</text>
<rect x="357.8" y="382.5" width="173.3" height="126.4" fill="none" stroke="#484848" stroke-width="1.35"/>
<line x1="357.8" y1="508.9" x2="355.4" y2="508.9" stroke="#3a3a3a" stroke-width="0.8"/>
<text x="354" y="511.8" font-size="8.1" font-weight="bold" text-anchor="end" fill="#262626" stroke="#262626" stroke-width="0.32" stroke-linejoin="round">0</text>
<line x1="357.8" y1="499.87" x2="356.5" y2="499.87" stroke="#3a3a3a" stroke-width="0.5"/>
<line x1="357.8" y1="490.84" x2="355.4" y2="490.84" stroke="#3a3a3a" stroke-width="0.8"/>
<text x="354" y="493.74" font-size="8.1" font-weight="bold" text-anchor="end" fill="#262626" stroke="#262626" stroke-width="0.32" stroke-linejoin="round">50</text>
<line x1="357.8" y1="481.81" x2="356.5" y2="481.81" stroke="#3a3a3a" stroke-width="0.5"/>
<line x1="357.8" y1="472.79" x2="355.4" y2="472.79" stroke="#3a3a3a" stroke-width="0.8"/>
<text x="354" y="475.69" font-size="8.1" font-weight="bold" text-anchor="end" fill="#262626" stroke="#262626" stroke-width="0.32" stroke-linejoin="round">100</text>
<line x1="357.8" y1="463.76" x2="356.5" y2="463.76" stroke="#3a3a3a" stroke-width="0.5"/>
<line x1="357.8" y1="454.73" x2="355.4" y2="454.73" stroke="#3a3a3a" stroke-width="0.8"/>
<text x="354" y="457.63" font-size="8.1" font-weight="bold" text-anchor="end" fill="#262626" stroke="#262626" stroke-width="0.32" stroke-linejoin="round">150</text>
<line x1="357.8" y1="445.7" x2="356.5" y2="445.7" stroke="#3a3a3a" stroke-width="0.5"/>
<line x1="357.8" y1="436.67" x2="355.4" y2="436.67" stroke="#3a3a3a" stroke-width="0.8"/>
<text x="354" y="439.57" font-size="8.1" font-weight="bold" text-anchor="end" fill="#262626" stroke="#262626" stroke-width="0.32" stroke-linejoin="round">200</text>
<line x1="357.8" y1="427.64" x2="356.5" y2="427.64" stroke="#3a3a3a" stroke-width="0.5"/>
<line x1="357.8" y1="418.61" x2="355.4" y2="418.61" stroke="#3a3a3a" stroke-width="0.8"/>
<text x="354" y="421.51" font-size="8.1" font-weight="bold" text-anchor="end" fill="#262626" stroke="#262626" stroke-width="0.32" stroke-linejoin="round">250</text>
<line x1="357.8" y1="409.59" x2="356.5" y2="409.59" stroke="#3a3a3a" stroke-width="0.5"/>
<line x1="357.8" y1="400.56" x2="355.4" y2="400.56" stroke="#3a3a3a" stroke-width="0.8"/>
<text x="354" y="403.46" font-size="8.1" font-weight="bold" text-anchor="end" fill="#262626" stroke="#262626" stroke-width="0.32" stroke-linejoin="round">300</text>
<line x1="357.8" y1="391.53" x2="356.5" y2="391.53" stroke="#3a3a3a" stroke-width="0.5"/>
<line x1="357.8" y1="382.5" x2="355.4" y2="382.5" stroke="#3a3a3a" stroke-width="0.8"/>
<text x="354" y="385.4" font-size="8.1" font-weight="bold" text-anchor="end" fill="#262626" stroke="#262626" stroke-width="0.32" stroke-linejoin="round">350</text>
<line x1="375.8" y1="508.9" x2="375.8" y2="511.7" stroke="#3a3a3a" stroke-width="0.8"/>
<text x="375.8" y="521.8" font-size="8.4" font-weight="bold" text-anchor="middle" fill="#262626" stroke="#262626" stroke-width="0.32" stroke-linejoin="round">511</text>
<line x1="445" y1="508.9" x2="445" y2="511.7" stroke="#3a3a3a" stroke-width="0.8"/>
<text x="445" y="521.8" font-size="8.4" font-weight="bold" text-anchor="middle" fill="#262626" stroke="#262626" stroke-width="0.32" stroke-linejoin="round">2137</text>
<line x1="513.8" y1="508.9" x2="513.8" y2="511.7" stroke="#3a3a3a" stroke-width="0.8"/>
<text x="513.8" y="521.8" font-size="8.4" font-weight="bold" text-anchor="middle" fill="#262626" stroke="#262626" stroke-width="0.32" stroke-linejoin="round">4841</text>
<text x="447.0" y="531.0" font-size="8.3" font-weight="bold" text-anchor="middle" fill="#262626" stroke="#262626" stroke-width="0.32" stroke-linejoin="round">Solid volume (nm<tspan font-size="5.6" dy="-3.2">3</tspan><tspan dy="3.2">)</tspan></text>
<text transform="translate(334.0 444.8) rotate(-90)" font-size="9.0" font-weight="bold" text-anchor="middle" fill="#262626" stroke="#262626" stroke-width="0.32" stroke-linejoin="round"><tspan font-style="italic">r</tspan><tspan font-size="6.2" dy="1.8">2</tspan><tspan dy="-1.8"> (mM</tspan><tspan font-size="5.8" dy="-3.4">-1</tspan><tspan dy="3.4">s</tspan><tspan font-size="5.8" dy="-3.4">-1</tspan><tspan dy="3.4">)</tspan></text>
<path d="M375.8 480.73 L445 443.17 L513.8 396.22" fill="none" stroke="#e84c3c" stroke-width="1.3"/>
<path d="M375.8 487.59 L445 466.29 L513.8 425.11" fill="none" stroke="#3838cc" stroke-width="1.3"/>
<line x1="375.8" y1="477.13" x2="375.8" y2="484.33" stroke="#e8202c" stroke-width="0.8"/>
<rect x="373.4" y="478.33" width="4.8" height="4.8" fill="#ee1c24" stroke="none" stroke-width="1"/>
<line x1="445" y1="439.57" x2="445" y2="446.77" stroke="#e8202c" stroke-width="0.8"/>
<rect x="442.6" y="440.77" width="4.8" height="4.8" fill="#ee1c24" stroke="none" stroke-width="1"/>
<line x1="513.8" y1="392.62" x2="513.8" y2="399.82" stroke="#e8202c" stroke-width="0.8"/>
<rect x="511.4" y="393.82" width="4.8" height="4.8" fill="#ee1c24" stroke="none" stroke-width="1"/>
<line x1="375.8" y1="483.79" x2="375.8" y2="491.39" stroke="#3838cc" stroke-width="0.8"/>
<line x1="374.2" y1="483.79" x2="377.4" y2="483.79" stroke="#3838cc" stroke-width="0.7"/>
<line x1="374.2" y1="491.39" x2="377.4" y2="491.39" stroke="#3838cc" stroke-width="0.7"/>
<rect x="373.7" y="485.49" width="4.2" height="4.2" fill="#fff" stroke="#3838cc" stroke-width="1.1"/>
<line x1="445" y1="462.49" x2="445" y2="470.09" stroke="#3838cc" stroke-width="0.8"/>
<line x1="443.4" y1="462.49" x2="446.6" y2="462.49" stroke="#3838cc" stroke-width="0.7"/>
<line x1="443.4" y1="470.09" x2="446.6" y2="470.09" stroke="#3838cc" stroke-width="0.7"/>
<rect x="442.9" y="464.19" width="4.2" height="4.2" fill="#fff" stroke="#3838cc" stroke-width="1.1"/>
<line x1="513.8" y1="421.31" x2="513.8" y2="428.91" stroke="#3838cc" stroke-width="0.8"/>
<line x1="512.2" y1="421.31" x2="515.4" y2="421.31" stroke="#3838cc" stroke-width="0.7"/>
<line x1="512.2" y1="428.91" x2="515.4" y2="428.91" stroke="#3838cc" stroke-width="0.7"/>
<rect x="511.7" y="423.01" width="4.2" height="4.2" fill="#fff" stroke="#3838cc" stroke-width="1.1"/>
<text x="477" y="395" font-size="8.6" font-weight="bold" text-anchor="start" fill="#262626" stroke="#262626" stroke-width="0.32" stroke-linejoin="round">IOP-8.8</text>
<text x="414.6" y="434.6" font-size="8.6" font-weight="bold" text-anchor="start" fill="#262626" stroke="#262626" stroke-width="0.32" stroke-linejoin="round">IOP-4.8</text>
<text x="362" y="470" font-size="8.6" font-weight="bold" text-anchor="start" fill="#262626" stroke="#262626" stroke-width="0.32" stroke-linejoin="round">IOP-2.8</text>
<text x="507" y="441" font-size="8.6" font-weight="bold" text-anchor="start" fill="#262626" stroke="#262626" stroke-width="0.32" stroke-linejoin="round">IO-21</text>
<text x="444.2" y="481" font-size="8.6" font-weight="bold" text-anchor="start" fill="#262626" stroke="#262626" stroke-width="0.32" stroke-linejoin="round">IO-16</text>
<text x="375.8" y="502.8" font-size="8.6" font-weight="bold" text-anchor="start" fill="#262626" stroke="#262626" stroke-width="0.32" stroke-linejoin="round">IO-10</text>
<rect x="37.8" y="554.4" width="130.6" height="128.6" fill="#b6b6b6" stroke="none" stroke-width="1"/>
<g clip-path="url(#hrc)">
<rect x="43" y="558.8" width="119.2" height="117" fill="url(#hrg)" stroke="none" stroke-width="1" filter="url(#hrblur)" rx="3"/>
<ellipse cx="117.8" cy="666.4" rx="42" ry="12" fill="#a0a0a0" opacity="0.5" filter="url(#hrblur2)"/>
<ellipse cx="132.8" cy="594.4" rx="34" ry="14" fill="#3a3a3a" opacity="0.5" filter="url(#hrblur2)"/>
<rect x="37.8" y="554.4" width="130.6" height="128.6" fill="#888" stroke="none" stroke-width="1" filter="url(#hrn2)" opacity="0.22"/>
<rect x="37.8" y="554.4" width="130.6" height="128.6" fill="#888" stroke="none" stroke-width="1" filter="url(#hrn)" opacity="0.34"/>
</g>
<line x1="43.6" y1="558" x2="161" y2="558" stroke="#f4f4f4" stroke-width="1.1"/>
<line x1="163.9" y1="563" x2="163.9" y2="666.8" stroke="#f4f4f4" stroke-width="1.1"/>
<text x="104.6" y="566.4" font-size="6.6" font-weight="bold" text-anchor="middle" fill="#f4f4f4" stroke="#f4f4f4" stroke-width="0.22" stroke-linejoin="round">(100)</text>
<text transform="translate(161.8 614) rotate(-90)" font-size="6.8" font-weight="bold" text-anchor="middle" fill="#f4f4f4" stroke="#f4f4f4" stroke-width="0.22" stroke-linejoin="round">(010)</text>
<text x="107.3" y="596" font-size="6" font-weight="bold" text-anchor="middle" fill="#f4f4f4" stroke="#f4f4f4" stroke-width="0.22" stroke-linejoin="round">(400)</text>
<line x1="107.1" y1="597.4" x2="107.1" y2="603.6" stroke="#f4f4f4" stroke-width="0.8"/>
<line x1="102.7" y1="604.3" x2="111.5" y2="604.3" stroke="#f0f0f0" stroke-width="0.7"/>
<line x1="102.7" y1="606.1" x2="111.5" y2="606.1" stroke="#f0f0f0" stroke-width="0.7"/>
<text x="112.7" y="609" font-size="6.1" font-weight="bold" text-anchor="start" fill="#f4f4f4" stroke="#f4f4f4" stroke-width="0.22" stroke-linejoin="round">2.10 Å</text>
<text transform="translate(83.8 614.5) rotate(-90)" font-size="6.0" font-weight="bold" text-anchor="middle" fill="#f4f4f4" stroke="#f4f4f4" stroke-width="0.22" stroke-linejoin="round">(040)</text>
<line x1="86" y1="616.4" x2="91.6" y2="616.4" stroke="#f4f4f4" stroke-width="0.8"/>
<line x1="92.4" y1="612.4" x2="92.4" y2="620.4" stroke="#d8d8d8" stroke-width="0.9"/>
<line x1="94.8" y1="612.4" x2="94.8" y2="620.4" stroke="#d8d8d8" stroke-width="0.9"/>
<text x="87.8" y="626.4" font-size="6.1" font-weight="bold" text-anchor="start" fill="#f4f4f4" stroke="#f4f4f4" stroke-width="0.22" stroke-linejoin="round">2.10 Å</text>
<rect x="39.7" y="661.8" width="36.6" height="19.4" fill="#fff" stroke="none" stroke-width="1"/>
<text x="57.9" y="671.9" font-size="8.5" font-weight="bold" text-anchor="middle" fill="#111" stroke="#111" stroke-width="0.32" stroke-linejoin="round">5 nm</text>
<rect x="43.5" y="675.7" width="29.5" height="2.8" fill="#0a0a0a" stroke="none" stroke-width="1"/>
<rect x="177.4" y="556" width="137.6" height="124.5" fill="#969696" stroke="none" stroke-width="1"/>
<g clip-path="url(#spc)">
<g filter="url(#spblur)">
<circle cx="193.6" cy="567.4" r="22" fill="#c6c6c6" stroke="none" stroke-width="1"/>
<circle cx="233.8" cy="582" r="25.2" fill="#c6c6c6" stroke="none" stroke-width="1"/>
<circle cx="272.8" cy="561.6" r="23.8" fill="#c6c6c6" stroke="none" stroke-width="1"/>
<circle cx="284.4" cy="601.8" r="24.2" fill="#c6c6c6" stroke="none" stroke-width="1"/>
<circle cx="194.4" cy="609.8" r="22.8" fill="#c6c6c6" stroke="none" stroke-width="1"/>
<circle cx="241" cy="632.4" r="24.2" fill="#c6c6c6" stroke="none" stroke-width="1"/>
<circle cx="288.2" cy="654.2" r="25" fill="#c6c6c6" stroke="none" stroke-width="1"/>
<circle cx="198" cy="655" r="20.2" fill="#c6c6c6" stroke="none" stroke-width="1"/>
<circle cx="246.2" cy="677.4" r="21.4" fill="#c6c6c6" stroke="none" stroke-width="1"/>
<circle cx="322" cy="568" r="16.6" fill="#c6c6c6" stroke="none" stroke-width="1"/>
<circle cx="324" cy="620" r="15.6" fill="#c6c6c6" stroke="none" stroke-width="1"/>
<circle cx="193.6" cy="567.4" r="19.4" fill="url(#sg0)" stroke="none" stroke-width="1"/>
<circle cx="233.8" cy="582" r="22.6" fill="url(#sg1)" stroke="none" stroke-width="1"/>
<circle cx="272.8" cy="561.6" r="21.2" fill="url(#sg2)" stroke="none" stroke-width="1"/>
<circle cx="284.4" cy="601.8" r="21.6" fill="url(#sg3)" stroke="none" stroke-width="1"/>
<circle cx="194.4" cy="609.8" r="20.2" fill="url(#sg4)" stroke="none" stroke-width="1"/>
<circle cx="241" cy="632.4" r="21.6" fill="url(#sg5)" stroke="none" stroke-width="1"/>
<circle cx="288.2" cy="654.2" r="22.4" fill="url(#sg6)" stroke="none" stroke-width="1"/>
<circle cx="198" cy="655" r="17.6" fill="url(#sg7)" stroke="none" stroke-width="1"/>
<circle cx="246.2" cy="677.4" r="18.8" fill="url(#sg8)" stroke="none" stroke-width="1"/>
<circle cx="322" cy="568" r="14" fill="url(#sg9)" stroke="none" stroke-width="1"/>
<circle cx="324" cy="620" r="13" fill="url(#sg10)" stroke="none" stroke-width="1"/>
</g>
</g>
<rect x="177.4" y="556" width="137.6" height="124.5" fill="#888" stroke="none" stroke-width="1" filter="url(#spn)" opacity="0.30"/>
</g>
<rect x="178.7" y="657.9" width="42.6" height="21.6" fill="#fff" stroke="none" stroke-width="1"/>
<text x="199.2" y="670.2" font-size="9.5" font-weight="bold" text-anchor="middle" fill="#111" stroke="#111" stroke-width="0.32" stroke-linejoin="round">20 nm</text>
<rect x="185.3" y="672.7" width="30" height="3.3" fill="#0a0a0a" stroke="none" stroke-width="1"/>
<rect x="373.6" y="559.6" width="113.2" height="108.2" fill="#fff" stroke="#909090" stroke-width="1"/>
<g clip-path="url(#sphclip)">
<rect x="379.7" y="560.8" width="99.6" height="99.6" fill="url(#sphg)" stroke="none" stroke-width="1"/>
<g filter="url(#rimblur)" fill="none" stroke-linecap="butt">
<path d="M474.49 597.7 A46.8 46.8 0 0 0 447.03 567.21" stroke="#e8ee28" stroke-width="11" stroke-opacity="0.8"/>
<path d="M474.42 594.25 A47.8 47.8 0 0 0 450.45 567.64" stroke="#58d848" stroke-width="8.4"/>
<path d="M474.08 590.75 A48.8 48.8 0 0 0 453.9 568.34" stroke="#20b8d8" stroke-width="6.2"/>
<path d="M473.52 588.17 A49.4 49.4 0 0 0 456.41 569.17" stroke="#1c2ce0" stroke-width="4.6"/>
<path d="M411.97 567.21 A46.8 46.8 0 0 0 384.51 597.7" stroke="#e8ee28" stroke-width="11" stroke-opacity="0.8"/>
<path d="M408.55 567.64 A47.8 47.8 0 0 0 384.58 594.25" stroke="#58d848" stroke-width="8.4"/>
<path d="M405.1 568.34 A48.8 48.8 0 0 0 384.92 590.75" stroke="#20b8d8" stroke-width="6.2"/>
<path d="M402.59 569.17 A49.4 49.4 0 0 0 385.48 588.17" stroke="#1c2ce0" stroke-width="4.6"/>
<path d="M384.51 623.5 A46.8 46.8 0 0 0 411.97 653.99" stroke="#e8ee28" stroke-width="11" stroke-opacity="0.8"/>
<path d="M384.58 626.95 A47.8 47.8 0 0 0 408.55 653.56" stroke="#58d848" stroke-width="8.4"/>
<path d="M384.92 630.45 A48.8 48.8 0 0 0 405.1 652.86" stroke="#20b8d8" stroke-width="6.2"/>
<path d="M385.48 633.03 A49.4 49.4 0 0 0 402.59 652.03" stroke="#1c2ce0" stroke-width="4.6"/>
<path d="M447.03 653.99 A46.8 46.8 0 0 0 474.49 623.5" stroke="#e8ee28" stroke-width="11" stroke-opacity="0.8"/>
<path d="M450.45 653.56 A47.8 47.8 0 0 0 474.42 626.95" stroke="#58d848" stroke-width="8.4"/>
<path d="M453.9 652.86 A48.8 48.8 0 0 0 474.08 630.45" stroke="#20b8d8" stroke-width="6.2"/>
<path d="M456.41 652.03 A49.4 49.4 0 0 0 473.52 633.03" stroke="#1c2ce0" stroke-width="4.6"/>
</g>
</g>
<g clip-path="url(#sphclip)" fill="none" stroke="#1c1208" stroke-width="0.5" stroke-opacity="0.9">
<path d="M384 606.3 v-3.8 m-0.9 1.5 l0.9 -1.7 l0.9 1.7" />
<path d="M384 613.1 v-3.8 m-0.9 1.5 l0.9 -1.7 l0.9 1.7" />
<path d="M384 619.9 v-3.8 m-0.9 1.5 l0.9 -1.7 l0.9 1.7" />
<path d="M390.5 592.7 v-3.8 m-0.9 1.5 l0.9 -1.7 l0.9 1.7" />
<path d="M390.5 599.5 v-3.8 m-0.9 1.5 l0.9 -1.7 l0.9 1.7" />
<path d="M390.5 606.3 v-3.8 m-0.9 1.5 l0.9 -1.7 l0.9 1.7" />
<path d="M390.5 613.1 v-3.8 m-0.9 1.5 l0.9 -1.7 l0.9 1.7" />
<path d="M390.5 619.9 v-3.8 m-0.9 1.5 l0.9 -1.7 l0.9 1.7" />
<path d="M390.5 626.7 v-3.8 m-0.9 1.5 l0.9 -1.7 l0.9 1.7" />
<path d="M390.5 633.5 v-3.8 m-0.9 1.5 l0.9 -1.7 l0.9 1.7" />
<path d="M397 579.1 v-3.8 m-0.9 1.5 l0.9 -1.7 l0.9 1.7" />
<path d="M397 585.9 v-3.8 m-0.9 1.5 l0.9 -1.7 l0.9 1.7" />
<path d="M397 592.7 v-3.8 m-0.9 1.5 l0.9 -1.7 l0.9 1.7" />
<path d="M397 599.5 v-3.8 m-0.9 1.5 l0.9 -1.7 l0.9 1.7" />
<path d="M397 606.3 v-3.8 m-0.9 1.5 l0.9 -1.7 l0.9 1.7" />
<path d="M397 613.1 v-3.8 m-0.9 1.5 l0.9 -1.7 l0.9 1.7" />
<path d="M397 619.9 v-3.8 m-0.9 1.5 l0.9 -1.7 l0.9 1.7" />
<path d="M397 626.7 v-3.8 m-0.9 1.5 l0.9 -1.7 l0.9 1.7" />
<path d="M397 633.5 v-3.8 m-0.9 1.5 l0.9 -1.7 l0.9 1.7" />
<path d="M397 640.3 v-3.8 m-0.9 1.5 l0.9 -1.7 l0.9 1.7" />
<path d="M403.5 579.1 v-3.8 m-0.9 1.5 l0.9 -1.7 l0.9 1.7" />
<path d="M403.5 585.9 v-3.8 m-0.9 1.5 l0.9 -1.7 l0.9 1.7" />
<path d="M403.5 592.7 v-3.8 m-0.9 1.5 l0.9 -1.7 l0.9 1.7" />
<path d="M403.5 599.5 v-3.8 m-0.9 1.5 l0.9 -1.7 l0.9 1.7" />
<path d="M403.5 606.3 v-3.8 m-0.9 1.5 l0.9 -1.7 l0.9 1.7" />
<path d="M403.5 613.1 v-3.8 m-0.9 1.5 l0.9 -1.7 l0.9 1.7" />
<path d="M403.5 619.9 v-3.8 m-0.9 1.5 l0.9 -1.7 l0.9 1.7" />
<path d="M403.5 626.7 v-3.8 m-0.9 1.5 l0.9 -1.7 l0.9 1.7" />
<path d="M403.5 633.5 v-3.8 m-0.9 1.5 l0.9 -1.7 l0.9 1.7" />
<path d="M403.5 640.3 v-3.8 m-0.9 1.5 l0.9 -1.7 l0.9 1.7" />
<path d="M403.5 647.1 v-3.8 m-0.9 1.5 l0.9 -1.7 l0.9 1.7" />
<path d="M410 572.3 v-3.8 m-0.9 1.5 l0.9 -1.7 l0.9 1.7" />
<path d="M410 579.1 v-3.8 m-0.9 1.5 l0.9 -1.7 l0.9 1.7" />
<path d="M410 585.9 v-3.8 m-0.9 1.5 l0.9 -1.7 l0.9 1.7" />
<path d="M410 592.7 v-3.8 m-0.9 1.5 l0.9 -1.7 l0.9 1.7" />
<path d="M410 599.5 v-3.8 m-0.9 1.5 l0.9 -1.7 l0.9 1.7" />
<path d="M410 606.3 v-3.8 m-0.9 1.5 l0.9 -1.7 l0.9 1.7" />
<path d="M410 613.1 v-3.8 m-0.9 1.5 l0.9 -1.7 l0.9 1.7" />
<path d="M410 619.9 v-3.8 m-0.9 1.5 l0.9 -1.7 l0.9 1.7" />
<path d="M410 626.7 v-3.8 m-0.9 1.5 l0.9 -1.7 l0.9 1.7" />
<path d="M410 633.5 v-3.8 m-0.9 1.5 l0.9 -1.7 l0.9 1.7" />
<path d="M410 640.3 v-3.8 m-0.9 1.5 l0.9 -1.7 l0.9 1.7" />
<path d="M410 647.1 v-3.8 m-0.9 1.5 l0.9 -1.7 l0.9 1.7" />
<path d="M410 653.9 v-3.8 m-0.9 1.5 l0.9 -1.7 l0.9 1.7" />
<path d="M416.5 572.3 v-3.8 m-0.9 1.5 l0.9 -1.7 l0.9 1.7" />
<path d="M416.5 579.1 v-3.8 m-0.9 1.5 l0.9 -1.7 l0.9 1.7" />
<path d="M416.5 585.9 v-3.8 m-0.9 1.5 l0.9 -1.7 l0.9 1.7" />
<path d="M416.5 592.7 v-3.8 m-0.9 1.5 l0.9 -1.7 l0.9 1.7" />
<path d="M416.5 599.5 v-3.8 m-0.9 1.5 l0.9 -1.7 l0.9 1.7" />
<path d="M416.5 606.3 v-3.8 m-0.9 1.5 l0.9 -1.7 l0.9 1.7" />
<path d="M416.5 613.1 v-3.8 m-0.9 1.5 l0.9 -1.7 l0.9 1.7" />
<path d="M416.5 619.9 v-3.8 m-0.9 1.5 l0.9 -1.7 l0.9 1.7" />
<path d="M416.5 626.7 v-3.8 m-0.9 1.5 l0.9 -1.7 l0.9 1.7" />
<path d="M416.5 633.5 v-3.8 m-0.9 1.5 l0.9 -1.7 l0.9 1.7" />
<path d="M416.5 640.3 v-3.8 m-0.9 1.5 l0.9 -1.7 l0.9 1.7" />
<path d="M416.5 647.1 v-3.8 m-0.9 1.5 l0.9 -1.7 l0.9 1.7" />
<path d="M416.5 653.9 v-3.8 m-0.9 1.5 l0.9 -1.7 l0.9 1.7" />
<path d="M423 572.3 v-3.8 m-0.9 1.5 l0.9 -1.7 l0.9 1.7" />
<path d="M423 579.1 v-3.8 m-0.9 1.5 l0.9 -1.7 l0.9 1.7" />
<path d="M423 585.9 v-3.8 m-0.9 1.5 l0.9 -1.7 l0.9 1.7" />
<path d="M423 592.7 v-3.8 m-0.9 1.5 l0.9 -1.7 l0.9 1.7" />
<path d="M423 599.5 v-3.8 m-0.9 1.5 l0.9 -1.7 l0.9 1.7" />
<path d="M423 606.3 v-3.8 m-0.9 1.5 l0.9 -1.7 l0.9 1.7" />
<path d="M423 613.1 v-3.8 m-0.9 1.5 l0.9 -1.7 l0.9 1.7" />
<path d="M423 619.9 v-3.8 m-0.9 1.5 l0.9 -1.7 l0.9 1.7" />
<path d="M423 626.7 v-3.8 m-0.9 1.5 l0.9 -1.7 l0.9 1.7" />
<path d="M423 633.5 v-3.8 m-0.9 1.5 l0.9 -1.7 l0.9 1.7" />
<path d="M423 640.3 v-3.8 m-0.9 1.5 l0.9 -1.7 l0.9 1.7" />
<path d="M423 647.1 v-3.8 m-0.9 1.5 l0.9 -1.7 l0.9 1.7" />
<path d="M423 653.9 v-3.8 m-0.9 1.5 l0.9 -1.7 l0.9 1.7" />
<path d="M429.5 572.3 v-3.8 m-0.9 1.5 l0.9 -1.7 l0.9 1.7" />
<path d="M429.5 579.1 v-3.8 m-0.9 1.5 l0.9 -1.7 l0.9 1.7" />
<path d="M429.5 585.9 v-3.8 m-0.9 1.5 l0.9 -1.7 l0.9 1.7" />
<path d="M429.5 592.7 v-3.8 m-0.9 1.5 l0.9 -1.7 l0.9 1.7" />
<path d="M429.5 599.5 v-3.8 m-0.9 1.5 l0.9 -1.7 l0.9 1.7" />
<path d="M429.5 606.3 v-3.8 m-0.9 1.5 l0.9 -1.7 l0.9 1.7" />
<path d="M429.5 613.1 v-3.8 m-0.9 1.5 l0.9 -1.7 l0.9 1.7" />
<path d="M429.5 619.9 v-3.8 m-0.9 1.5 l0.9 -1.7 l0.9 1.7" />
<path d="M429.5 626.7 v-3.8 m-0.9 1.5 l0.9 -1.7 l0.9 1.7" />
<path d="M429.5 633.5 v-3.8 m-0.9 1.5 l0.9 -1.7 l0.9 1.7" />
<path d="M429.5 640.3 v-3.8 m-0.9 1.5 l0.9 -1.7 l0.9 1.7" />
<path d="M429.5 647.1 v-3.8 m-0.9 1.5 l0.9 -1.7 l0.9 1.7" />
<path d="M429.5 653.9 v-3.8 m-0.9 1.5 l0.9 -1.7 l0.9 1.7" />
<path d="M436 572.3 v-3.8 m-0.9 1.5 l0.9 -1.7 l0.9 1.7" />
<path d="M436 579.1 v-3.8 m-0.9 1.5 l0.9 -1.7 l0.9 1.7" />
<path d="M436 585.9 v-3.8 m-0.9 1.5 l0.9 -1.7 l0.9 1.7" />
<path d="M436 592.7 v-3.8 m-0.9 1.5 l0.9 -1.7 l0.9 1.7" />
<path d="M436 599.5 v-3.8 m-0.9 1.5 l0.9 -1.7 l0.9 1.7" />
<path d="M436 606.3 v-3.8 m-0.9 1.5 l0.9 -1.7 l0.9 1.7" />
<path d="M436 613.1 v-3.8 m-0.9 1.5 l0.9 -1.7 l0.9 1.7" />
<path d="M436 619.9 v-3.8 m-0.9 1.5 l0.9 -1.7 l0.9 1.7" />
<path d="M436 626.7 v-3.8 m-0.9 1.5 l0.9 -1.7 l0.9 1.7" />
<path d="M436 633.5 v-3.8 m-0.9 1.5 l0.9 -1.7 l0.9 1.7" />
<path d="M436 640.3 v-3.8 m-0.9 1.5 l0.9 -1.7 l0.9 1.7" />
<path d="M436 647.1 v-3.8 m-0.9 1.5 l0.9 -1.7 l0.9 1.7" />
<path d="M436 653.9 v-3.8 m-0.9 1.5 l0.9 -1.7 l0.9 1.7" />
<path d="M442.5 572.3 v-3.8 m-0.9 1.5 l0.9 -1.7 l0.9 1.7" />
<path d="M442.5 579.1 v-3.8 m-0.9 1.5 l0.9 -1.7 l0.9 1.7" />
<path d="M442.5 585.9 v-3.8 m-0.9 1.5 l0.9 -1.7 l0.9 1.7" />
<path d="M442.5 592.7 v-3.8 m-0.9 1.5 l0.9 -1.7 l0.9 1.7" />
<path d="M442.5 599.5 v-3.8 m-0.9 1.5 l0.9 -1.7 l0.9 1.7" />
<path d="M442.5 606.3 v-3.8 m-0.9 1.5 l0.9 -1.7 l0.9 1.7" />
<path d="M442.5 613.1 v-3.8 m-0.9 1.5 l0.9 -1.7 l0.9 1.7" />
<path d="M442.5 619.9 v-3.8 m-0.9 1.5 l0.9 -1.7 l0.9 1.7" />
<path d="M442.5 626.7 v-3.8 m-0.9 1.5 l0.9 -1.7 l0.9 1.7" />
<path d="M442.5 633.5 v-3.8 m-0.9 1.5 l0.9 -1.7 l0.9 1.7" />
<path d="M442.5 640.3 v-3.8 m-0.9 1.5 l0.9 -1.7 l0.9 1.7" />
<path d="M442.5 647.1 v-3.8 m-0.9 1.5 l0.9 -1.7 l0.9 1.7" />
<path d="M442.5 653.9 v-3.8 m-0.9 1.5 l0.9 -1.7 l0.9 1.7" />
<path d="M449 572.3 v-3.8 m-0.9 1.5 l0.9 -1.7 l0.9 1.7" />
<path d="M449 579.1 v-3.8 m-0.9 1.5 l0.9 -1.7 l0.9 1.7" />
<path d="M449 585.9 v-3.8 m-0.9 1.5 l0.9 -1.7 l0.9 1.7" />
<path d="M449 592.7 v-3.8 m-0.9 1.5 l0.9 -1.7 l0.9 1.7" />
<path d="M449 599.5 v-3.8 m-0.9 1.5 l0.9 -1.7 l0.9 1.7" />
<path d="M449 606.3 v-3.8 m-0.9 1.5 l0.9 -1.7 l0.9 1.7" />
<path d="M449 613.1 v-3.8 m-0.9 1.5 l0.9 -1.7 l0.9 1.7" />
<path d="M449 619.9 v-3.8 m-0.9 1.5 l0.9 -1.7 l0.9 1.7" />
<path d="M449 626.7 v-3.8 m-0.9 1.5 l0.9 -1.7 l0.9 1.7" />
<path d="M449 633.5 v-3.8 m-0.9 1.5 l0.9 -1.7 l0.9 1.7" />
<path d="M449 640.3 v-3.8 m-0.9 1.5 l0.9 -1.7 l0.9 1.7" />
<path d="M449 647.1 v-3.8 m-0.9 1.5 l0.9 -1.7 l0.9 1.7" />
<path d="M449 653.9 v-3.8 m-0.9 1.5 l0.9 -1.7 l0.9 1.7" />
<path d="M455.5 579.1 v-3.8 m-0.9 1.5 l0.9 -1.7 l0.9 1.7" />
<path d="M455.5 585.9 v-3.8 m-0.9 1.5 l0.9 -1.7 l0.9 1.7" />
<path d="M455.5 592.7 v-3.8 m-0.9 1.5 l0.9 -1.7 l0.9 1.7" />
<path d="M455.5 599.5 v-3.8 m-0.9 1.5 l0.9 -1.7 l0.9 1.7" />
<path d="M455.5 606.3 v-3.8 m-0.9 1.5 l0.9 -1.7 l0.9 1.7" />
<path d="M455.5 613.1 v-3.8 m-0.9 1.5 l0.9 -1.7 l0.9 1.7" />
<path d="M455.5 619.9 v-3.8 m-0.9 1.5 l0.9 -1.7 l0.9 1.7" />
<path d="M455.5 626.7 v-3.8 m-0.9 1.5 l0.9 -1.7 l0.9 1.7" />
<path d="M455.5 633.5 v-3.8 m-0.9 1.5 l0.9 -1.7 l0.9 1.7" />
<path d="M455.5 640.3 v-3.8 m-0.9 1.5 l0.9 -1.7 l0.9 1.7" />
<path d="M455.5 647.1 v-3.8 m-0.9 1.5 l0.9 -1.7 l0.9 1.7" />
<path d="M462 579.1 v-3.8 m-0.9 1.5 l0.9 -1.7 l0.9 1.7" />
<path d="M462 585.9 v-3.8 m-0.9 1.5 l0.9 -1.7 l0.9 1.7" />
<path d="M462 592.7 v-3.8 m-0.9 1.5 l0.9 -1.7 l0.9 1.7" />
<path d="M462 599.5 v-3.8 m-0.9 1.5 l0.9 -1.7 l0.9 1.7" />
<path d="M462 606.3 v-3.8 m-0.9 1.5 l0.9 -1.7 l0.9 1.7" />
<path d="M462 613.1 v-3.8 m-0.9 1.5 l0.9 -1.7 l0.9 1.7" />
<path d="M462 619.9 v-3.8 m-0.9 1.5 l0.9 -1.7 l0.9 1.7" />
<path d="M462 626.7 v-3.8 m-0.9 1.5 l0.9 -1.7 l0.9 1.7" />
<path d="M462 633.5 v-3.8 m-0.9 1.5 l0.9 -1.7 l0.9 1.7" />
<path d="M462 640.3 v-3.8 m-0.9 1.5 l0.9 -1.7 l0.9 1.7" />
<path d="M468.5 592.7 v-3.8 m-0.9 1.5 l0.9 -1.7 l0.9 1.7" />
<path d="M468.5 599.5 v-3.8 m-0.9 1.5 l0.9 -1.7 l0.9 1.7" />
<path d="M468.5 606.3 v-3.8 m-0.9 1.5 l0.9 -1.7 l0.9 1.7" />
<path d="M468.5 613.1 v-3.8 m-0.9 1.5 l0.9 -1.7 l0.9 1.7" />
<path d="M468.5 619.9 v-3.8 m-0.9 1.5 l0.9 -1.7 l0.9 1.7" />
<path d="M468.5 626.7 v-3.8 m-0.9 1.5 l0.9 -1.7 l0.9 1.7" />
<path d="M468.5 633.5 v-3.8 m-0.9 1.5 l0.9 -1.7 l0.9 1.7" />
<path d="M475 606.3 v-3.8 m-0.9 1.5 l0.9 -1.7 l0.9 1.7" />
<path d="M475 613.1 v-3.8 m-0.9 1.5 l0.9 -1.7 l0.9 1.7" />
<path d="M475 619.9 v-3.8 m-0.9 1.5 l0.9 -1.7 l0.9 1.7" />
</g>
<rect x="445.9" y="562.7" width="29.5" height="30.5" fill="none" stroke="#111" stroke-width="1.6"/>
<text x="430.4" y="665.4" font-size="5.8" font-weight="bold" text-anchor="middle" fill="#222" stroke="#222" stroke-width="0.22" stroke-linejoin="round">Canted spin 8%</text>
<rect x="375.4" y="671.2" width="106.2" height="5.4" fill="url(#spinbar)" stroke="none" stroke-width="1"/>
<text x="379.4" y="685.4" font-size="8" font-weight="bold" text-anchor="middle" fill="#222" stroke="#222" stroke-width="0.32" stroke-linejoin="round">0</text>
<text x="413.4" y="685.4" font-size="8" font-weight="bold" text-anchor="middle" fill="#222" stroke="#222" stroke-width="0.32" stroke-linejoin="round">10</text>
<text x="447.8" y="685.4" font-size="8" font-weight="bold" text-anchor="middle" fill="#222" stroke="#222" stroke-width="0.32" stroke-linejoin="round">20</text>
<text x="479.6" y="685.4" font-size="8" font-weight="bold" text-anchor="middle" fill="#222" stroke="#222" stroke-width="0.32" stroke-linejoin="round">30</text>
<text x="430.6" y="697.6" font-size="9.2" font-weight="bold" text-anchor="middle" fill="#222" stroke="#222" stroke-width="0.32" stroke-linejoin="round">angle of spin deviation (degree)</text>
<polygon points="331.4,600.4 373.4,609.6 373.4,659.6 331.4,646.8" fill="#9d96bc" stroke="none" stroke-width="1"/>
<polygon points="331.4,600.4 373.4,609.6 373.4,612 331.4,602.8" fill="#b2acd0" stroke="none" stroke-width="1"/>
<circle cx="352.6" cy="629" r="17.6" fill="#35284c" stroke="none" stroke-width="1"/>
<circle cx="351" cy="628.2" r="17.6" fill="url(#ysph)" stroke="none" stroke-width="1"/>
<path d="M334.0 633 A17.6 17.6 0 0 0 365.4 638.4 A19 19 0 0 1 334.0 633Z" fill="#1c1c0c" stroke="none" stroke-width="1" opacity="0.75"/>
<line x1="333.6" y1="638" x2="333.6" y2="648.6" stroke="#8a84a4" stroke-width="0.7"/>
<line x1="367" y1="644" x2="367" y2="660.6" stroke="#8a84a4" stroke-width="0.7"/>
<line x1="338.6" y1="647.6" x2="363.6" y2="658.4" stroke="#161616" stroke-width="1.1"/>
<polygon points="335.8,646.4 341.8,646 339.6,651" fill="#161616" stroke="none" stroke-width="1"/>
<polygon points="366.4,659.6 360.4,660 362.6,655" fill="#161616" stroke="none" stroke-width="1"/>
<text transform="translate(347.2 660.6) rotate(24)" font-size="6.6" font-style="italic" text-anchor="middle" fill="#5a5a5a">22 nm</text>
<line x1="492.9" y1="548" x2="492.9" y2="620" stroke="#cfcfcf" stroke-width="0.6"/>
<line x1="492.9" y1="620" x2="530.8" y2="553.4" stroke="#cfcfcf" stroke-width="0.6"/>
<polygon points="489.1,577.6 498.9,561.7 510.3,562.4 532.3,580.6 518.6,590.5" fill="#e8e03e" stroke="none" stroke-width="1"/>
<polygon points="489.1,577.6 518.6,590.5 523.9,607.1 489.1,603.3" fill="#a6a226" stroke="none" stroke-width="1"/>
<polygon points="518.6,590.5 532.3,580.6 535.3,590.5 532.3,598 523.9,607.1" fill="#d6ce30" stroke="none" stroke-width="1"/>
<polygon points="489.1,577.6 497,581 497,604.2 489.1,603.3" fill="#8e8a20" stroke="none" stroke-width="1" opacity="0.6"/>
<g transform="translate(493.6 579.6) rotate(0)"><path d="M0 3.7 V-1.7" stroke="#0c0c0c" stroke-width="1.7" fill="none"/><path d="M0 -4.3 L2.5 -0.9 L-2.5 -0.9 Z" fill="#0c0c0c"/></g>
<g transform="translate(493.6 589.6) rotate(0)"><path d="M0 3.7 V-1.7" stroke="#0c0c0c" stroke-width="1.7" fill="none"/><path d="M0 -4.3 L2.5 -0.9 L-2.5 -0.9 Z" fill="#0c0c0c"/></g>
<g transform="translate(493.6 600) rotate(0)"><path d="M0 3.7 V-1.7" stroke="#0c0c0c" stroke-width="1.7" fill="none"/><path d="M0 -4.3 L2.5 -0.9 L-2.5 -0.9 Z" fill="#0c0c0c"/></g>
<g transform="translate(501.2 580.51) rotate(0)"><path d="M0 3.7 V-1.7" stroke="#0c0c0c" stroke-width="1.7" fill="none"/><path d="M0 -4.3 L2.5 -0.9 L-2.5 -0.9 Z" fill="#0c0c0c"/></g>
<g transform="translate(501.2 590.51) rotate(0)"><path d="M0 3.7 V-1.7" stroke="#0c0c0c" stroke-width="1.7" fill="none"/><path d="M0 -4.3 L2.5 -0.9 L-2.5 -0.9 Z" fill="#0c0c0c"/></g>
<g transform="translate(501.2 600.91) rotate(0)"><path d="M0 3.7 V-1.7" stroke="#0c0c0c" stroke-width="1.7" fill="none"/><path d="M0 -4.3 L2.5 -0.9 L-2.5 -0.9 Z" fill="#0c0c0c"/></g>
<g transform="translate(509.4 591.5) rotate(0)"><path d="M0 3.7 V-1.7" stroke="#0c0c0c" stroke-width="1.7" fill="none"/><path d="M0 -4.3 L2.5 -0.9 L-2.5 -0.9 Z" fill="#0c0c0c"/></g>
<g transform="translate(509.4 601.9) rotate(0)"><path d="M0 3.7 V-1.7" stroke="#0c0c0c" stroke-width="1.7" fill="none"/><path d="M0 -4.3 L2.5 -0.9 L-2.5 -0.9 Z" fill="#0c0c0c"/></g>
<g transform="translate(515.2 578) rotate(37)"><path d="M0 3.9 V-1.9" stroke="#0c0c0c" stroke-width="1.8" fill="none"/><path d="M0 -4.5 L2.6 -1.1 L-2.6 -1.1 Z" fill="#0c0c0c"/></g>
<g transform="translate(520.5 571.1) rotate(37)"><path d="M0 3.9 V-1.9" stroke="#0c0c0c" stroke-width="1.8" fill="none"/><path d="M0 -4.5 L2.6 -1.1 L-2.6 -1.1 Z" fill="#0c0c0c"/></g>
<g transform="translate(522.4 587.1) rotate(37)"><path d="M0 3.9 V-1.9" stroke="#0c0c0c" stroke-width="1.8" fill="none"/><path d="M0 -4.5 L2.6 -1.1 L-2.6 -1.1 Z" fill="#0c0c0c"/></g>
<g transform="translate(528.5 580.2) rotate(37)"><path d="M0 3.9 V-1.9" stroke="#0c0c0c" stroke-width="1.8" fill="none"/><path d="M0 -4.5 L2.6 -1.1 L-2.6 -1.1 Z" fill="#0c0c0c"/></g>
<g transform="translate(526.6 600.1) rotate(37)"><path d="M0 3.9 V-1.9" stroke="#0c0c0c" stroke-width="1.8" fill="none"/><path d="M0 -4.5 L2.6 -1.1 L-2.6 -1.1 Z" fill="#0c0c0c"/></g>
<g transform="translate(531.9 593.7) rotate(37)"><path d="M0 3.9 V-1.9" stroke="#0c0c0c" stroke-width="1.8" fill="none"/><path d="M0 -4.5 L2.6 -1.1 L-2.6 -1.1 Z" fill="#0c0c0c"/></g>
<g transform="translate(518.3 600.3) rotate(37)"><path d="M0 3.9 V-1.9" stroke="#0c0c0c" stroke-width="1.8" fill="none"/><path d="M0 -4.5 L2.6 -1.1 L-2.6 -1.1 Z" fill="#0c0c0c"/></g>
<line x1="493.2" y1="657.2" x2="493.2" y2="631.6" stroke="#868686" stroke-width="2.7"/>
<polygon points="493.2,626.6 496.4,632.8 490,632.8" fill="#9a9a9a" stroke="#3a3a3a" stroke-width="0.6"/>
<line x1="491.6" y1="657.2" x2="491.6" y2="632" stroke="#555" stroke-width="0.4"/>
<line x1="494.8" y1="657.2" x2="494.8" y2="632" stroke="#555" stroke-width="0.4"/>
<text x="489.6" y="670.8" font-size="8.8" font-weight="bold" fill="#1a1a1a" stroke="#1a1a1a" stroke-width="0.32" stroke-linejoin="round">B<tspan font-size="6.2" dy="1.6">0</tspan></text>
<rect x="91.6" y="716.6" width="122" height="124" fill="#fff" stroke="#5a5a5a" stroke-width="1"/>
<polygon points="104.5,751.8 179,751.8 179,825.4 104.5,825.4" fill="#ee1c10" stroke="none" stroke-width="1"/>
<polygon points="179,751.8 204.2,726.8 204.2,801.4 179,825.4" fill="#ec1a10" stroke="none" stroke-width="1"/>
<polygon points="104.5,751.8 179,751.8 204.2,726.8 129.7,726.8" fill="#f6d820" stroke="none" stroke-width="1"/>
<g clip-path="url(#ctop)">
<ellipse cx="112.5" cy="752.8" rx="29" ry="14.5" fill="url(#cgy)"/>
<ellipse cx="172" cy="753.8" rx="29" ry="14.5" fill="url(#cgy)"/>
<ellipse cx="132.7" cy="725.8" rx="16" ry="9" fill="url(#cgy)"/>
<ellipse cx="200.2" cy="725.8" rx="19" ry="10" fill="url(#cgy)"/>
<ellipse cx="154.8" cy="738.8" rx="25" ry="10.2" fill="url(#topred)"/>
</g>
<g clip-path="url(#cfront)">
<ellipse cx="107.5" cy="749.8" rx="13" ry="8" fill="url(#cg)"/>
<ellipse cx="176" cy="749.8" rx="13" ry="8" fill="url(#cg)"/>
<ellipse cx="126.5" cy="751.3" rx="9" ry="5" fill="url(#cgo)"/>
<ellipse cx="157" cy="751.3" rx="9" ry="5" fill="url(#cgo)"/>
<ellipse cx="109.5" cy="827.4" rx="20" ry="14" fill="url(#cg)"/>
<ellipse cx="173" cy="827.4" rx="20" ry="14" fill="url(#cg)"/>
<ellipse cx="156.75" cy="828.4" rx="13" ry="7" fill="url(#cg)" opacity="0.75"/>
<ellipse cx="127.75" cy="828.8" rx="10" ry="6" fill="url(#cg)" opacity="0.6"/>
</g>
<g clip-path="url(#cside)">
<ellipse cx="180" cy="751.8" rx="11" ry="16" fill="url(#cgo)"/>
<ellipse cx="205.2" cy="727.8" rx="8" ry="10" fill="url(#cg)"/>
<ellipse cx="205.2" cy="804.4" rx="10" ry="14" fill="url(#cgo)"/>
<ellipse cx="178.5" cy="827.4" rx="7" ry="10" fill="url(#cgo)" opacity="0.9"/>
</g>
<g clip-path="url(#cfront)" fill="none" stroke="#2a0c08" stroke-width="1.0" stroke-opacity="0.88">
<path d="M108.3 758.9 v-5 m-1.3 1.5 l1.3 -1.7 l1.3 1.7" />
<path d="M108.3 765.5 v-5 m-1.3 1.5 l1.3 -1.7 l1.3 1.7" />
<path d="M108.3 772.1 v-5 m-1.3 1.5 l1.3 -1.7 l1.3 1.7" />
<path d="M108.3 778.7 v-5 m-1.3 1.5 l1.3 -1.7 l1.3 1.7" />
<path d="M108.3 785.3 v-5 m-1.3 1.5 l1.3 -1.7 l1.3 1.7" />
<path d="M108.3 791.9 v-5 m-1.3 1.5 l1.3 -1.7 l1.3 1.7" />
<path d="M108.3 798.5 v-5 m-1.3 1.5 l1.3 -1.7 l1.3 1.7" />
<path d="M108.3 805.1 v-5 m-1.3 1.5 l1.3 -1.7 l1.3 1.7" />
<path d="M108.3 811.7 v-5 m-1.3 1.5 l1.3 -1.7 l1.3 1.7" />
<path d="M108.3 818.3 v-5 m-1.3 1.5 l1.3 -1.7 l1.3 1.7" />
<path d="M108.3 824.9 v-5 m-1.3 1.5 l1.3 -1.7 l1.3 1.7" />
<path d="M115.2 758.9 v-5 m-1.3 1.5 l1.3 -1.7 l1.3 1.7" />
<path d="M115.2 765.5 v-5 m-1.3 1.5 l1.3 -1.7 l1.3 1.7" />
<path d="M115.2 772.1 v-5 m-1.3 1.5 l1.3 -1.7 l1.3 1.7" />
<path d="M115.2 778.7 v-5 m-1.3 1.5 l1.3 -1.7 l1.3 1.7" />
<path d="M115.2 785.3 v-5 m-1.3 1.5 l1.3 -1.7 l1.3 1.7" />
<path d="M115.2 791.9 v-5 m-1.3 1.5 l1.3 -1.7 l1.3 1.7" />
<path d="M115.2 798.5 v-5 m-1.3 1.5 l1.3 -1.7 l1.3 1.7" />
<path d="M115.2 805.1 v-5 m-1.3 1.5 l1.3 -1.7 l1.3 1.7" />
<path d="M115.2 811.7 v-5 m-1.3 1.5 l1.3 -1.7 l1.3 1.7" />
<path d="M115.2 818.3 v-5 m-1.3 1.5 l1.3 -1.7 l1.3 1.7" />
<path d="M115.2 824.9 v-5 m-1.3 1.5 l1.3 -1.7 l1.3 1.7" />
<path d="M122.1 758.9 v-5 m-1.3 1.5 l1.3 -1.7 l1.3 1.7" />
<path d="M122.1 765.5 v-5 m-1.3 1.5 l1.3 -1.7 l1.3 1.7" />
<path d="M122.1 772.1 v-5 m-1.3 1.5 l1.3 -1.7 l1.3 1.7" />
<path d="M122.1 778.7 v-5 m-1.3 1.5 l1.3 -1.7 l1.3 1.7" />
<path d="M122.1 785.3 v-5 m-1.3 1.5 l1.3 -1.7 l1.3 1.7" />
<path d="M122.1 791.9 v-5 m-1.3 1.5 l1.3 -1.7 l1.3 1.7" />
<path d="M122.1 798.5 v-5 m-1.3 1.5 l1.3 -1.7 l1.3 1.7" />
<path d="M122.1 805.1 v-5 m-1.3 1.5 l1.3 -1.7 l1.3 1.7" />
<path d="M122.1 811.7 v-5 m-1.3 1.5 l1.3 -1.7 l1.3 1.7" />
<path d="M122.1 818.3 v-5 m-1.3 1.5 l1.3 -1.7 l1.3 1.7" />
<path d="M122.1 824.9 v-5 m-1.3 1.5 l1.3 -1.7 l1.3 1.7" />
<path d="M129 758.9 v-5 m-1.3 1.5 l1.3 -1.7 l1.3 1.7" />
<path d="M129 765.5 v-5 m-1.3 1.5 l1.3 -1.7 l1.3 1.7" />
<path d="M129 772.1 v-5 m-1.3 1.5 l1.3 -1.7 l1.3 1.7" />
<path d="M129 778.7 v-5 m-1.3 1.5 l1.3 -1.7 l1.3 1.7" />
<path d="M129 785.3 v-5 m-1.3 1.5 l1.3 -1.7 l1.3 1.7" />
<path d="M129 791.9 v-5 m-1.3 1.5 l1.3 -1.7 l1.3 1.7" />
<path d="M129 798.5 v-5 m-1.3 1.5 l1.3 -1.7 l1.3 1.7" />
<path d="M129 805.1 v-5 m-1.3 1.5 l1.3 -1.7 l1.3 1.7" />
<path d="M129 811.7 v-5 m-1.3 1.5 l1.3 -1.7 l1.3 1.7" />
<path d="M129 818.3 v-5 m-1.3 1.5 l1.3 -1.7 l1.3 1.7" />
<path d="M129 824.9 v-5 m-1.3 1.5 l1.3 -1.7 l1.3 1.7" />
<path d="M135.9 758.9 v-5 m-1.3 1.5 l1.3 -1.7 l1.3 1.7" />
<path d="M135.9 765.5 v-5 m-1.3 1.5 l1.3 -1.7 l1.3 1.7" />
<path d="M135.9 772.1 v-5 m-1.3 1.5 l1.3 -1.7 l1.3 1.7" />
<path d="M135.9 778.7 v-5 m-1.3 1.5 l1.3 -1.7 l1.3 1.7" />
<path d="M135.9 785.3 v-5 m-1.3 1.5 l1.3 -1.7 l1.3 1.7" />
<path d="M135.9 791.9 v-5 m-1.3 1.5 l1.3 -1.7 l1.3 1.7" />
<path d="M135.9 798.5 v-5 m-1.3 1.5 l1.3 -1.7 l1.3 1.7" />
<path d="M135.9 805.1 v-5 m-1.3 1.5 l1.3 -1.7 l1.3 1.7" />
<path d="M135.9 811.7 v-5 m-1.3 1.5 l1.3 -1.7 l1.3 1.7" />
<path d="M135.9 818.3 v-5 m-1.3 1.5 l1.3 -1.7 l1.3 1.7" />
<path d="M135.9 824.9 v-5 m-1.3 1.5 l1.3 -1.7 l1.3 1.7" />
<path d="M142.8 758.9 v-5 m-1.3 1.5 l1.3 -1.7 l1.3 1.7" />
<path d="M142.8 765.5 v-5 m-1.3 1.5 l1.3 -1.7 l1.3 1.7" />
<path d="M142.8 772.1 v-5 m-1.3 1.5 l1.3 -1.7 l1.3 1.7" />
<path d="M142.8 778.7 v-5 m-1.3 1.5 l1.3 -1.7 l1.3 1.7" />
<path d="M142.8 785.3 v-5 m-1.3 1.5 l1.3 -1.7 l1.3 1.7" />
<path d="M142.8 791.9 v-5 m-1.3 1.5 l1.3 -1.7 l1.3 1.7" />
<path d="M142.8 798.5 v-5 m-1.3 1.5 l1.3 -1.7 l1.3 1.7" />
<path d="M142.8 805.1 v-5 m-1.3 1.5 l1.3 -1.7 l1.3 1.7" />
<path d="M142.8 811.7 v-5 m-1.3 1.5 l1.3 -1.7 l1.3 1.7" />
<path d="M142.8 818.3 v-5 m-1.3 1.5 l1.3 -1.7 l1.3 1.7" />
<path d="M142.8 824.9 v-5 m-1.3 1.5 l1.3 -1.7 l1.3 1.7" />
<path d="M149.7 758.9 v-5 m-1.3 1.5 l1.3 -1.7 l1.3 1.7" />
<path d="M149.7 765.5 v-5 m-1.3 1.5 l1.3 -1.7 l1.3 1.7" />
<path d="M149.7 772.1 v-5 m-1.3 1.5 l1.3 -1.7 l1.3 1.7" />
<path d="M149.7 778.7 v-5 m-1.3 1.5 l1.3 -1.7 l1.3 1.7" />
<path d="M149.7 785.3 v-5 m-1.3 1.5 l1.3 -1.7 l1.3 1.7" />
<path d="M149.7 791.9 v-5 m-1.3 1.5 l1.3 -1.7 l1.3 1.7" />
<path d="M149.7 798.5 v-5 m-1.3 1.5 l1.3 -1.7 l1.3 1.7" />
<path d="M149.7 805.1 v-5 m-1.3 1.5 l1.3 -1.7 l1.3 1.7" />
<path d="M149.7 811.7 v-5 m-1.3 1.5 l1.3 -1.7 l1.3 1.7" />
<path d="M149.7 818.3 v-5 m-1.3 1.5 l1.3 -1.7 l1.3 1.7" />
<path d="M149.7 824.9 v-5 m-1.3 1.5 l1.3 -1.7 l1.3 1.7" />
<path d="M156.6 758.9 v-5 m-1.3 1.5 l1.3 -1.7 l1.3 1.7" />
<path d="M156.6 765.5 v-5 m-1.3 1.5 l1.3 -1.7 l1.3 1.7" />
<path d="M156.6 772.1 v-5 m-1.3 1.5 l1.3 -1.7 l1.3 1.7" />
<path d="M156.6 778.7 v-5 m-1.3 1.5 l1.3 -1.7 l1.3 1.7" />
<path d="M156.6 785.3 v-5 m-1.3 1.5 l1.3 -1.7 l1.3 1.7" />
<path d="M156.6 791.9 v-5 m-1.3 1.5 l1.3 -1.7 l1.3 1.7" />
<path d="M156.6 798.5 v-5 m-1.3 1.5 l1.3 -1.7 l1.3 1.7" />
<path d="M156.6 805.1 v-5 m-1.3 1.5 l1.3 -1.7 l1.3 1.7" />
<path d="M156.6 811.7 v-5 m-1.3 1.5 l1.3 -1.7 l1.3 1.7" />
<path d="M156.6 818.3 v-5 m-1.3 1.5 l1.3 -1.7 l1.3 1.7" />
<path d="M156.6 824.9 v-5 m-1.3 1.5 l1.3 -1.7 l1.3 1.7" />
<path d="M163.5 758.9 v-5 m-1.3 1.5 l1.3 -1.7 l1.3 1.7" />
<path d="M163.5 765.5 v-5 m-1.3 1.5 l1.3 -1.7 l1.3 1.7" />
<path d="M163.5 772.1 v-5 m-1.3 1.5 l1.3 -1.7 l1.3 1.7" />
<path d="M163.5 778.7 v-5 m-1.3 1.5 l1.3 -1.7 l1.3 1.7" />
<path d="M163.5 785.3 v-5 m-1.3 1.5 l1.3 -1.7 l1.3 1.7" />
<path d="M163.5 791.9 v-5 m-1.3 1.5 l1.3 -1.7 l1.3 1.7" />
<path d="M163.5 798.5 v-5 m-1.3 1.5 l1.3 -1.7 l1.3 1.7" />
<path d="M163.5 805.1 v-5 m-1.3 1.5 l1.3 -1.7 l1.3 1.7" />
<path d="M163.5 811.7 v-5 m-1.3 1.5 l1.3 -1.7 l1.3 1.7" />
<path d="M163.5 818.3 v-5 m-1.3 1.5 l1.3 -1.7 l1.3 1.7" />
<path d="M163.5 824.9 v-5 m-1.3 1.5 l1.3 -1.7 l1.3 1.7" />
<path d="M170.4 758.9 v-5 m-1.3 1.5 l1.3 -1.7 l1.3 1.7" />
<path d="M170.4 765.5 v-5 m-1.3 1.5 l1.3 -1.7 l1.3 1.7" />
<path d="M170.4 772.1 v-5 m-1.3 1.5 l1.3 -1.7 l1.3 1.7" />
<path d="M170.4 778.7 v-5 m-1.3 1.5 l1.3 -1.7 l1.3 1.7" />
<path d="M170.4 785.3 v-5 m-1.3 1.5 l1.3 -1.7 l1.3 1.7" />
<path d="M170.4 791.9 v-5 m-1.3 1.5 l1.3 -1.7 l1.3 1.7" />
<path d="M170.4 798.5 v-5 m-1.3 1.5 l1.3 -1.7 l1.3 1.7" />
<path d="M170.4 805.1 v-5 m-1.3 1.5 l1.3 -1.7 l1.3 1.7" />
<path d="M170.4 811.7 v-5 m-1.3 1.5 l1.3 -1.7 l1.3 1.7" />
<path d="M170.4 818.3 v-5 m-1.3 1.5 l1.3 -1.7 l1.3 1.7" />
<path d="M170.4 824.9 v-5 m-1.3 1.5 l1.3 -1.7 l1.3 1.7" />
<path d="M177.3 758.9 v-5 m-1.3 1.5 l1.3 -1.7 l1.3 1.7" />
<path d="M177.3 765.5 v-5 m-1.3 1.5 l1.3 -1.7 l1.3 1.7" />
<path d="M177.3 772.1 v-5 m-1.3 1.5 l1.3 -1.7 l1.3 1.7" />
<path d="M177.3 778.7 v-5 m-1.3 1.5 l1.3 -1.7 l1.3 1.7" />
<path d="M177.3 785.3 v-5 m-1.3 1.5 l1.3 -1.7 l1.3 1.7" />
<path d="M177.3 791.9 v-5 m-1.3 1.5 l1.3 -1.7 l1.3 1.7" />
<path d="M177.3 798.5 v-5 m-1.3 1.5 l1.3 -1.7 l1.3 1.7" />
<path d="M177.3 805.1 v-5 m-1.3 1.5 l1.3 -1.7 l1.3 1.7" />
<path d="M177.3 811.7 v-5 m-1.3 1.5 l1.3 -1.7 l1.3 1.7" />
<path d="M177.3 818.3 v-5 m-1.3 1.5 l1.3 -1.7 l1.3 1.7" />
<path d="M177.3 824.9 v-5 m-1.3 1.5 l1.3 -1.7 l1.3 1.7" />
</g>
<line x1="179" y1="751.8" x2="179" y2="825.4" stroke="#c01808" stroke-width="0.5"/>
<polygon points="183.7,772.3 197.2,762.8 197.2,787.6 183.7,796.6" fill="none" stroke="#16100c" stroke-width="1.6"/>
<text x="148.4" y="836.8" font-size="8.3" font-weight="bold" text-anchor="middle" fill="#222" stroke="#222" stroke-width="0.32" stroke-linejoin="round">Canted spin 4%</text>
<rect x="94.6" y="843.8" width="119" height="6.4" fill="url(#spinbar)" stroke="none" stroke-width="1"/>
<text x="99" y="860.6" font-size="8.6" font-weight="bold" text-anchor="middle" fill="#222" stroke="#222" stroke-width="0.32" stroke-linejoin="round">0</text>
<text x="137.4" y="860.6" font-size="8.6" font-weight="bold" text-anchor="middle" fill="#222" stroke="#222" stroke-width="0.32" stroke-linejoin="round">10</text>
<text x="174.6" y="860.6" font-size="8.6" font-weight="bold" text-anchor="middle" fill="#222" stroke="#222" stroke-width="0.32" stroke-linejoin="round">20</text>
<text x="212.2" y="860.6" font-size="8.6" font-weight="bold" text-anchor="middle" fill="#222" stroke="#222" stroke-width="0.32" stroke-linejoin="round">30</text>
<text x="156.6" y="869.6" font-size="9.05" font-weight="bold" text-anchor="middle" fill="#222" stroke="#222" stroke-width="0.32" stroke-linejoin="round">angle of spin deviation (degree)</text>
<polygon points="54.4,783.6 85.8,783.6 85.8,813.4 54.4,813.4" fill="url(#ycf)" stroke="none" stroke-width="1"/>
<polygon points="54.4,783.6 63.6,772.2 91.6,772.2 85.8,783.6" fill="url(#yct)" stroke="none" stroke-width="1"/>
<polygon points="85.8,783.6 91.6,772.2 91.6,805.8 85.8,813.4" fill="#6c6c2e" stroke="none" stroke-width="1"/>
<line x1="54.8" y1="813.4" x2="54.8" y2="825.4" stroke="#9a9a9a" stroke-width="0.8"/>
<line x1="84" y1="813.4" x2="84" y2="825.4" stroke="#9a9a9a" stroke-width="0.8"/>
<line x1="60.6" y1="821" x2="78.6" y2="821" stroke="#111" stroke-width="1.7"/>
<polygon points="56.8,821 62.6,817.6 62.6,824.4" fill="#111" stroke="none" stroke-width="1"/>
<polygon points="82.4,821 76.6,817.6 76.6,824.4" fill="#111" stroke="none" stroke-width="1"/>
<text x="70.2" y="833.6" font-size="7.6" font-weight="bold" text-anchor="middle" fill="#222" stroke="#222" stroke-width="0.32" stroke-linejoin="round">18 nm</text>
<line x1="226.3" y1="703.4" x2="226.3" y2="784" stroke="#c4c4c4" stroke-width="0.7"/>
<polygon points="221.4,734.6 246.2,734.6 246.2,776.6 221.4,776.6" fill="url(#cubf)" stroke="none" stroke-width="1"/>
<polygon points="221.4,734.6 232,716.8 258,716.8 246.2,734.6" fill="#706e1a" stroke="none" stroke-width="1"/>
<polygon points="246.2,734.6 258,716.8 258,764 246.2,776.6" fill="#504e12" stroke="none" stroke-width="1"/>
<g transform="translate(226.8 742.2) rotate(0)"><path d="M0 4 V-2" stroke="#0c0c0c" stroke-width="1.8" fill="none"/><path d="M0 -4.6 L2.7 -1.2 L-2.7 -1.2 Z" fill="#0c0c0c"/></g>
<g transform="translate(234 742.2) rotate(0)"><path d="M0 4 V-2" stroke="#0c0c0c" stroke-width="1.8" fill="none"/><path d="M0 -4.6 L2.7 -1.2 L-2.7 -1.2 Z" fill="#0c0c0c"/></g>
<g transform="translate(240.8 742.2) rotate(0)"><path d="M0 4 V-2" stroke="#0c0c0c" stroke-width="1.8" fill="none"/><path d="M0 -4.6 L2.7 -1.2 L-2.7 -1.2 Z" fill="#0c0c0c"/></g>
<g transform="translate(226.8 754.8) rotate(0)"><path d="M0 4 V-2" stroke="#0c0c0c" stroke-width="1.8" fill="none"/><path d="M0 -4.6 L2.7 -1.2 L-2.7 -1.2 Z" fill="#0c0c0c"/></g>
<g transform="translate(234 754.8) rotate(0)"><path d="M0 4 V-2" stroke="#0c0c0c" stroke-width="1.8" fill="none"/><path d="M0 -4.6 L2.7 -1.2 L-2.7 -1.2 Z" fill="#0c0c0c"/></g>
<g transform="translate(240.8 754.8) rotate(0)"><path d="M0 4 V-2" stroke="#0c0c0c" stroke-width="1.8" fill="none"/><path d="M0 -4.6 L2.7 -1.2 L-2.7 -1.2 Z" fill="#0c0c0c"/></g>
<g transform="translate(226.8 768.2) rotate(0)"><path d="M0 4 V-2" stroke="#0c0c0c" stroke-width="1.8" fill="none"/><path d="M0 -4.6 L2.7 -1.2 L-2.7 -1.2 Z" fill="#0c0c0c"/></g>
<g transform="translate(234 768.2) rotate(0)"><path d="M0 4 V-2" stroke="#0c0c0c" stroke-width="1.8" fill="none"/><path d="M0 -4.6 L2.7 -1.2 L-2.7 -1.2 Z" fill="#0c0c0c"/></g>
<g transform="translate(240.8 768.2) rotate(0)"><path d="M0 4 V-2" stroke="#0c0c0c" stroke-width="1.8" fill="none"/><path d="M0 -4.6 L2.7 -1.2 L-2.7 -1.2 Z" fill="#0c0c0c"/></g>
<g transform="translate(249.8 737.4) rotate(0)"><path d="M0 3.5 V-1.5" stroke="#0c0c0c" stroke-width="1.7" fill="none"/><path d="M0 -4.1 L2.5 -0.7 L-2.5 -0.7 Z" fill="#0c0c0c"/></g>
<g transform="translate(254.8 730.2) rotate(0)"><path d="M0 3.5 V-1.5" stroke="#0c0c0c" stroke-width="1.7" fill="none"/><path d="M0 -4.1 L2.5 -0.7 L-2.5 -0.7 Z" fill="#0c0c0c"/></g>
<g transform="translate(249.8 748) rotate(0)"><path d="M0 3.5 V-1.5" stroke="#0c0c0c" stroke-width="1.7" fill="none"/><path d="M0 -4.1 L2.5 -0.7 L-2.5 -0.7 Z" fill="#0c0c0c"/></g>
<g transform="translate(254.8 740.8) rotate(0)"><path d="M0 3.5 V-1.5" stroke="#0c0c0c" stroke-width="1.7" fill="none"/><path d="M0 -4.1 L2.5 -0.7 L-2.5 -0.7 Z" fill="#0c0c0c"/></g>
<g transform="translate(249.8 758.6) rotate(0)"><path d="M0 3.5 V-1.5" stroke="#0c0c0c" stroke-width="1.7" fill="none"/><path d="M0 -4.1 L2.5 -0.7 L-2.5 -0.7 Z" fill="#0c0c0c"/></g>
<g transform="translate(254.8 751.4) rotate(0)"><path d="M0 3.5 V-1.5" stroke="#0c0c0c" stroke-width="1.7" fill="none"/><path d="M0 -4.1 L2.5 -0.7 L-2.5 -0.7 Z" fill="#0c0c0c"/></g>
<g transform="translate(249.8 769.2) rotate(0)"><path d="M0 3.5 V-1.5" stroke="#0c0c0c" stroke-width="1.7" fill="none"/><path d="M0 -4.1 L2.5 -0.7 L-2.5 -0.7 Z" fill="#0c0c0c"/></g>
<g transform="translate(254.8 762) rotate(0)"><path d="M0 3.5 V-1.5" stroke="#0c0c0c" stroke-width="1.7" fill="none"/><path d="M0 -4.1 L2.5 -0.7 L-2.5 -0.7 Z" fill="#0c0c0c"/></g>
<line x1="225.2" y1="827.2" x2="225.2" y2="797.8" stroke="#868686" stroke-width="2.8"/>
<polygon points="225.2,792.4 228.6,798.8 221.8,798.8" fill="#9a9a9a" stroke="#3a3a3a" stroke-width="0.6"/>
<line x1="223.6" y1="827.2" x2="223.6" y2="798.4" stroke="#555" stroke-width="0.4"/>
<line x1="226.8" y1="827.2" x2="226.8" y2="798.4" stroke="#555" stroke-width="0.4"/>
<text x="223.0" y="840.0" font-size="8.8" font-weight="bold" fill="#1a1a1a" stroke="#1a1a1a" stroke-width="0.32" stroke-linejoin="round">B<tspan font-size="6.2" dy="1.6">0</tspan></text>
<rect x="346.8" y="709.2" width="163.4" height="143.6" fill="#fff" stroke="#6a6a6a" stroke-width="1.1"/>
<line x1="346.8" y1="781" x2="510.2" y2="781" stroke="#6a6a6a" stroke-width="1"/>
<line x1="429" y1="709.2" x2="429" y2="852.8" stroke="#6a6a6a" stroke-width="1"/>
<line x1="346.8" y1="852.8" x2="344.4" y2="852.8" stroke="#555" stroke-width="0.8"/>
<text x="343.4" y="855.4" font-size="7.2" font-weight="bold" text-anchor="end" fill="#262626" stroke="#262626" stroke-width="0.32" stroke-linejoin="round">-200</text>
<line x1="346.8" y1="834.85" x2="344.4" y2="834.85" stroke="#555" stroke-width="0.8"/>
<text x="343.4" y="837.45" font-size="7.2" font-weight="bold" text-anchor="end" fill="#262626" stroke="#262626" stroke-width="0.32" stroke-linejoin="round">-150</text>
<line x1="346.8" y1="816.9" x2="344.4" y2="816.9" stroke="#555" stroke-width="0.8"/>
<text x="343.4" y="819.5" font-size="7.2" font-weight="bold" text-anchor="end" fill="#262626" stroke="#262626" stroke-width="0.32" stroke-linejoin="round">-100</text>
<line x1="346.8" y1="798.95" x2="344.4" y2="798.95" stroke="#555" stroke-width="0.8"/>
<text x="343.4" y="801.55" font-size="7.2" font-weight="bold" text-anchor="end" fill="#262626" stroke="#262626" stroke-width="0.32" stroke-linejoin="round">-50</text>
<line x1="346.8" y1="781" x2="344.4" y2="781" stroke="#555" stroke-width="0.8"/>
<text x="343.4" y="783.6" font-size="7.2" font-weight="bold" text-anchor="end" fill="#262626" stroke="#262626" stroke-width="0.32" stroke-linejoin="round">0</text>
<line x1="346.8" y1="763.05" x2="344.4" y2="763.05" stroke="#555" stroke-width="0.8"/>
<text x="343.4" y="765.65" font-size="7.2" font-weight="bold" text-anchor="end" fill="#262626" stroke="#262626" stroke-width="0.32" stroke-linejoin="round">50</text>
<line x1="346.8" y1="745.1" x2="344.4" y2="745.1" stroke="#555" stroke-width="0.8"/>
<text x="343.4" y="747.7" font-size="7.2" font-weight="bold" text-anchor="end" fill="#262626" stroke="#262626" stroke-width="0.32" stroke-linejoin="round">100</text>
<line x1="346.8" y1="727.15" x2="344.4" y2="727.15" stroke="#555" stroke-width="0.8"/>
<text x="343.4" y="729.75" font-size="7.2" font-weight="bold" text-anchor="end" fill="#262626" stroke="#262626" stroke-width="0.32" stroke-linejoin="round">150</text>
<line x1="346.8" y1="709.2" x2="344.4" y2="709.2" stroke="#555" stroke-width="0.8"/>
<text x="343.4" y="711.8" font-size="7.2" font-weight="bold" text-anchor="end" fill="#262626" stroke="#262626" stroke-width="0.32" stroke-linejoin="round">200</text>
<line x1="362.4" y1="852.8" x2="362.4" y2="855.4" stroke="#555" stroke-width="0.8"/>
<line x1="379.05" y1="852.8" x2="379.05" y2="854.2" stroke="#555" stroke-width="0.8"/>
<line x1="395.7" y1="852.8" x2="395.7" y2="855.4" stroke="#555" stroke-width="0.8"/>
<line x1="412.35" y1="852.8" x2="412.35" y2="854.2" stroke="#555" stroke-width="0.8"/>
<line x1="429" y1="852.8" x2="429" y2="855.4" stroke="#555" stroke-width="0.8"/>
<line x1="445.65" y1="852.8" x2="445.65" y2="854.2" stroke="#555" stroke-width="0.8"/>
<line x1="462.3" y1="852.8" x2="462.3" y2="855.4" stroke="#555" stroke-width="0.8"/>
<line x1="478.95" y1="852.8" x2="478.95" y2="854.2" stroke="#555" stroke-width="0.8"/>
<line x1="495.6" y1="852.8" x2="495.6" y2="855.4" stroke="#555" stroke-width="0.8"/>
<text x="361.2" y="867" font-size="7.6" font-weight="bold" text-anchor="middle" fill="#262626" stroke="#262626" stroke-width="0.32" stroke-linejoin="round">-40,000</text>
<text x="394.5" y="867" font-size="7.6" font-weight="bold" text-anchor="middle" fill="#262626" stroke="#262626" stroke-width="0.32" stroke-linejoin="round">-20,000</text>
<text x="429" y="867" font-size="7.6" font-weight="bold" text-anchor="middle" fill="#262626" stroke="#262626" stroke-width="0.32" stroke-linejoin="round">0</text>
<text x="462.3" y="867" font-size="7.6" font-weight="bold" text-anchor="middle" fill="#262626" stroke="#262626" stroke-width="0.32" stroke-linejoin="round">20,000</text>
<text x="495.6" y="867" font-size="7.6" font-weight="bold" text-anchor="middle" fill="#262626" stroke="#262626" stroke-width="0.32" stroke-linejoin="round">40,000</text>
<text x="435" y="880.2" font-size="8.8" font-weight="bold" text-anchor="middle" fill="#262626" stroke="#262626" stroke-width="0.32" stroke-linejoin="round">Field (Oe)</text>
<text transform="translate(318.0 781.6) rotate(-90)" font-size="9.0" font-weight="bold" text-anchor="middle" fill="#262626" stroke="#262626" stroke-width="0.32" stroke-linejoin="round">Magnetization (M) (emu/g <tspan font-size="4.8" dy="1.6">(Fe+Zn)</tspan><tspan dy="-1.6">)</tspan></text>
<path d="M345.75 832.8 L347.42 832.76 L349.08 832.73 L350.75 832.69 L352.41 832.66 L354.07 832.62 L355.74 832.59 L357.41 832.55 L359.07 832.52 L360.74 832.48 L362.4 832.45 L364.06 832.41 L365.73 832.37 L367.39 832.33 L369.06 832.29 L370.73 832.26 L372.39 832.22 L374.06 832.18 L375.72 832.13 L377.38 832.09 L379.05 832.05 L380.72 832.01 L382.38 831.96 L384.05 831.92 L385.71 831.87 L387.38 831.82 L389.04 831.77 L390.7 831.72 L392.37 831.66 L394.04 831.61 L395.7 831.55 L397.37 831.49 L399.03 831.42 L400.69 831.35 L402.36 831.27 L404.02 831.19 L405.69 831.1 L407.36 831 L409.02 830.89 L410.69 830.76 L412.35 830.62 L414.01 830.44 L415.68 830.23 L417.35 829.97 L419.01 829.63 L420.68 829.14 L421.01 829.01 L421.34 828.87 L421.67 828.71 L422.01 828.53 L422.34 828.33 L422.67 828.09 L423.01 827.82 L423.34 827.5 L423.67 827.11 L424 826.65 L424.34 826.08 L424.67 825.39 L425 824.53 L425.34 823.46 L425.67 822.13 L426 820.46 L426.34 818.38 L426.67 815.79 L427 812.61 L427.33 808.75 L427.67 804.16 L428 798.83 L428.33 792.84 L428.67 786.34 L429 781 L429.33 775.66 L429.67 769.16 L430 763.17 L430.33 757.84 L430.67 753.25 L431 749.39 L431.33 746.21 L431.66 743.62 L432 741.54 L432.33 739.87 L432.66 738.54 L433 737.47 L433.33 736.61 L433.66 735.92 L434 735.35 L434.33 734.89 L434.66 734.5 L434.99 734.18 L435.33 733.91 L435.66 733.67 L435.99 733.47 L436.33 733.29 L436.66 733.13 L436.99 732.99 L437.32 732.86 L437.66 732.74 L437.99 732.64 L438.32 732.54 L438.66 732.45 L438.99 732.37 L440.65 732.03 L442.32 731.77 L443.99 731.56 L445.65 731.38 L447.31 731.24 L448.98 731.11 L450.64 731 L452.31 730.9 L453.98 730.81 L455.64 730.73 L457.31 730.65 L458.97 730.58 L460.63 730.51 L462.3 730.45 L463.96 730.39 L465.63 730.34 L467.3 730.28 L468.96 730.23 L470.62 730.18 L472.29 730.13 L473.95 730.08 L475.62 730.04 L477.28 729.99 L478.95 729.95 L480.62 729.91 L482.28 729.87 L483.94 729.82 L485.61 729.78 L487.27 729.74 L488.94 729.71 L490.61 729.67 L492.27 729.63 L493.94 729.59 L495.6 729.55 L497.26 729.52 L498.93 729.48 L500.59 729.45 L502.26 729.41 L503.93 729.38 L505.59 729.34 L507.25 729.31 L508.92 729.27 L510.58 729.24 L512.25 729.2" fill="none" stroke="#1c1c1c" stroke-width="1.8" stroke-linejoin="round" clip-path="url(#mhclip)"/>
<path d="M345.75 840.68 L347.42 840.64 L349.08 840.6 L350.75 840.56 L352.41 840.52 L354.07 840.48 L355.74 840.43 L357.41 840.39 L359.07 840.35 L360.74 840.3 L362.4 840.26 L364.06 840.21 L365.73 840.17 L367.39 840.12 L369.06 840.08 L370.73 840.03 L372.39 839.98 L374.06 839.94 L375.72 839.89 L377.38 839.84 L379.05 839.79 L380.72 839.74 L382.38 839.68 L384.05 839.63 L385.71 839.57 L387.38 839.52 L389.04 839.46 L390.7 839.4 L392.37 839.34 L394.04 839.27 L395.7 839.2 L397.37 839.13 L399.03 839.06 L400.69 838.98 L402.36 838.89 L404.02 838.8 L405.69 838.7 L407.36 838.59 L409.02 838.47 L410.69 838.33 L412.35 838.17 L414.01 837.99 L415.68 837.77 L417.35 837.49 L419.01 837.13 L420.68 836.63 L421.01 836.5 L421.34 836.36 L421.67 836.21 L422.01 836.03 L422.34 835.84 L422.67 835.61 L423.01 835.35 L423.34 835.04 L423.67 834.68 L424 834.24 L424.34 833.71 L424.67 833.05 L425 832.22 L425.34 831.18 L425.67 829.86 L426 828.17 L426.34 825.99 L426.67 823.22 L427 819.7 L427.33 815.3 L427.67 809.9 L428 803.45 L428.33 796.03 L428.67 787.83 L429 781 L429.33 774.17 L429.67 765.97 L430 758.55 L430.33 752.1 L430.67 746.7 L431 742.3 L431.33 738.78 L431.66 736.01 L432 733.83 L432.33 732.14 L432.66 730.82 L433 729.78 L433.33 728.95 L433.66 728.29 L434 727.76 L434.33 727.32 L434.66 726.96 L434.99 726.65 L435.33 726.39 L435.66 726.16 L435.99 725.97 L436.33 725.79 L436.66 725.64 L436.99 725.5 L437.32 725.37 L437.66 725.25 L437.99 725.15 L438.32 725.05 L438.66 724.96 L438.99 724.87 L440.65 724.51 L442.32 724.23 L443.99 724.01 L445.65 723.83 L447.31 723.67 L448.98 723.53 L450.64 723.41 L452.31 723.3 L453.98 723.2 L455.64 723.11 L457.31 723.02 L458.97 722.94 L460.63 722.87 L462.3 722.8 L463.96 722.73 L465.63 722.66 L467.3 722.6 L468.96 722.54 L470.62 722.48 L472.29 722.43 L473.95 722.37 L475.62 722.32 L477.28 722.26 L478.95 722.21 L480.62 722.16 L482.28 722.11 L483.94 722.06 L485.61 722.02 L487.27 721.97 L488.94 721.92 L490.61 721.88 L492.27 721.83 L493.94 721.79 L495.6 721.74 L497.26 721.7 L498.93 721.65 L500.59 721.61 L502.26 721.57 L503.93 721.52 L505.59 721.48 L507.25 721.44 L508.92 721.4 L510.58 721.36 L512.25 721.32" fill="none" stroke="#e8243c" stroke-width="1.8" stroke-linejoin="round" clip-path="url(#mhclip)"/>
<text x="472.8" y="718.2" font-size="6.6" font-weight="bold" text-anchor="start" fill="#e8304c" stroke="#e8304c" stroke-width="0.22" stroke-linejoin="round">Cube</text>
<text x="475" y="741" font-size="6.6" font-weight="bold" text-anchor="start" fill="#262626" stroke="#262626" stroke-width="0.22" stroke-linejoin="round">Sphere</text>
<text x="478.2" y="845.2" font-size="10.6" font-weight="bold" text-anchor="start" fill="#111" stroke="#111" stroke-width="0.32" stroke-linejoin="round">300K</text>
</svg>
</body></html>
